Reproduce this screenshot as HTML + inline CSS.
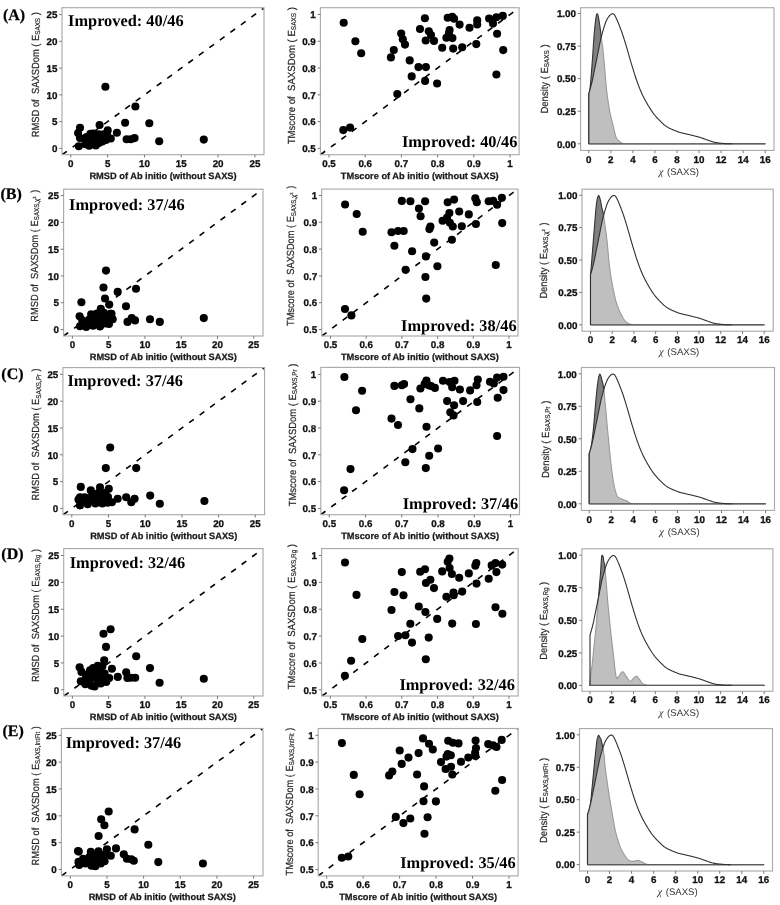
<!DOCTYPE html>
<html><head><meta charset="utf-8"><style>
html,body{margin:0;padding:0;background:#fff;width:780px;height:905px;overflow:hidden}
svg{display:block;filter:blur(0.3px)}
text{white-space:pre;text-rendering:geometricPrecision}
</style></head><body>
<svg width="780" height="905" viewBox="0 0 780 905">
<rect width="780" height="905" fill="#fff"/>
<clipPath id="cA1"><rect x="62" y="7.7" width="202" height="147.0"/></clipPath>
<g clip-path="url(#cA1)">
<line x1="62.13" y1="154.70" x2="271.76" y2="2.35" stroke="#000" stroke-width="1.6" stroke-dasharray="5.8 7.2" stroke-dashoffset="0"/>
<circle cx="105.4" cy="86.8" r="4.05"/>
<circle cx="135.4" cy="106.5" r="4.05"/>
<circle cx="125.1" cy="122.7" r="4.05"/>
<circle cx="149.3" cy="123.3" r="4.05"/>
<circle cx="116.9" cy="132.7" r="4.05"/>
<circle cx="126.6" cy="139.3" r="4.05"/>
<circle cx="130.8" cy="139.3" r="4.05"/>
<circle cx="134.6" cy="138.1" r="4.05"/>
<circle cx="159.2" cy="141.2" r="4.05"/>
<circle cx="203.8" cy="139.6" r="4.05"/>
<circle cx="80.0" cy="127.7" r="4.05"/>
<circle cx="78.1" cy="133.1" r="4.05"/>
<circle cx="80.0" cy="138.0" r="4.05"/>
<circle cx="78.8" cy="146.2" r="4.05"/>
<circle cx="89.2" cy="145.8" r="4.05"/>
<circle cx="95.8" cy="145.4" r="4.05"/>
<circle cx="102.3" cy="141.5" r="4.05"/>
<circle cx="110.8" cy="138.5" r="4.05"/>
<circle cx="107.7" cy="130.4" r="4.05"/>
<circle cx="99.6" cy="125.0" r="4.05"/>
<circle cx="90.4" cy="133.8" r="4.05"/>
<circle cx="85.4" cy="140.4" r="4.05"/>
<circle cx="93.0" cy="138.0" r="4.05"/>
<circle cx="99.2" cy="134.2" r="4.05"/>
<circle cx="103.8" cy="134.2" r="4.05"/>
<circle cx="96.9" cy="141.2" r="4.05"/>
<circle cx="85.4" cy="144.2" r="4.05"/>
<circle cx="91.0" cy="137.0" r="4.05"/>
<circle cx="95.0" cy="134.0" r="4.05"/>
<circle cx="100.0" cy="138.0" r="4.05"/>
<circle cx="104.0" cy="138.0" r="4.05"/>
<circle cx="107.0" cy="135.0" r="4.05"/>
<circle cx="88.0" cy="141.0" r="4.05"/>
<circle cx="92.0" cy="144.0" r="4.05"/>
<circle cx="99.0" cy="143.0" r="4.05"/>
<circle cx="106.0" cy="140.0" r="4.05"/>
<circle cx="93.0" cy="133.5" r="4.05"/>
<circle cx="86.5" cy="137.0" r="4.05"/>
</g>
<rect x="62.00" y="7.70" width="202.00" height="147.00" fill="none" stroke="#ababab" stroke-width="1.15"/>
<line x1="70.80" y1="154.70" x2="70.80" y2="157.50" stroke="#7a7a7a" stroke-width="1"/>
<text x="70.80" y="166.90" font-family="Liberation Sans" font-weight="bold" font-size="9.8" text-anchor="middle" fill="#111"  stroke="#111" stroke-width="0.3">0</text>
<line x1="107.62" y1="154.70" x2="107.62" y2="157.50" stroke="#7a7a7a" stroke-width="1"/>
<text x="107.62" y="166.90" font-family="Liberation Sans" font-weight="bold" font-size="9.8" text-anchor="middle" fill="#111"  stroke="#111" stroke-width="0.3">5</text>
<line x1="144.44" y1="154.70" x2="144.44" y2="157.50" stroke="#7a7a7a" stroke-width="1"/>
<text x="144.44" y="166.90" font-family="Liberation Sans" font-weight="bold" font-size="9.8" text-anchor="middle" fill="#111"  stroke="#111" stroke-width="0.3">10</text>
<line x1="181.26" y1="154.70" x2="181.26" y2="157.50" stroke="#7a7a7a" stroke-width="1"/>
<text x="181.26" y="166.90" font-family="Liberation Sans" font-weight="bold" font-size="9.8" text-anchor="middle" fill="#111"  stroke="#111" stroke-width="0.3">15</text>
<line x1="218.08" y1="154.70" x2="218.08" y2="157.50" stroke="#7a7a7a" stroke-width="1"/>
<text x="218.08" y="166.90" font-family="Liberation Sans" font-weight="bold" font-size="9.8" text-anchor="middle" fill="#111"  stroke="#111" stroke-width="0.3">20</text>
<line x1="254.90" y1="154.70" x2="254.90" y2="157.50" stroke="#7a7a7a" stroke-width="1"/>
<text x="254.90" y="166.90" font-family="Liberation Sans" font-weight="bold" font-size="9.8" text-anchor="middle" fill="#111"  stroke="#111" stroke-width="0.3">25</text>
<line x1="59.20" y1="148.40" x2="62.00" y2="148.40" stroke="#7a7a7a" stroke-width="1"/>
<text x="57.40" y="152.15" font-family="Liberation Sans" font-weight="bold" font-size="9.8" text-anchor="end" fill="#111"  stroke="#111" stroke-width="0.3">0</text>
<line x1="59.20" y1="121.64" x2="62.00" y2="121.64" stroke="#7a7a7a" stroke-width="1"/>
<text x="57.40" y="125.39" font-family="Liberation Sans" font-weight="bold" font-size="9.8" text-anchor="end" fill="#111"  stroke="#111" stroke-width="0.3">5</text>
<line x1="59.20" y1="94.88" x2="62.00" y2="94.88" stroke="#7a7a7a" stroke-width="1"/>
<text x="57.40" y="98.63" font-family="Liberation Sans" font-weight="bold" font-size="9.8" text-anchor="end" fill="#111"  stroke="#111" stroke-width="0.3">10</text>
<line x1="59.20" y1="68.12" x2="62.00" y2="68.12" stroke="#7a7a7a" stroke-width="1"/>
<text x="57.40" y="71.87" font-family="Liberation Sans" font-weight="bold" font-size="9.8" text-anchor="end" fill="#111"  stroke="#111" stroke-width="0.3">15</text>
<line x1="59.20" y1="41.36" x2="62.00" y2="41.36" stroke="#7a7a7a" stroke-width="1"/>
<text x="57.40" y="45.11" font-family="Liberation Sans" font-weight="bold" font-size="9.8" text-anchor="end" fill="#111"  stroke="#111" stroke-width="0.3">20</text>
<line x1="59.20" y1="14.60" x2="62.00" y2="14.60" stroke="#7a7a7a" stroke-width="1"/>
<text x="57.40" y="18.35" font-family="Liberation Sans" font-weight="bold" font-size="9.8" text-anchor="end" fill="#111"  stroke="#111" stroke-width="0.3">25</text>
<text x="163.00" y="178.90" font-family="Liberation Sans" font-weight="bold" font-size="9.25" text-anchor="middle" fill="#1a1a1a"  stroke="#1a1a1a" stroke-width="0.25">RMSD of Ab initio (without SAXS)</text>
<g transform="translate(39.10,137.30) rotate(-90) scale(0.9101,1)" font-family="Liberation Sans" font-weight="normal" fill="#262626" stroke="#262626" stroke-width="0.2">
<text x="0" y="0" font-size="10.3">RMSD of  SAXSDom ( E</text>
<text x="112.75" y="1.2" font-size="6.9">SAXS</text>
<text x="131.16" y="0" font-size="10.3"> )</text>
</g>
<text x="68.10" y="26.30" font-family="Liberation Serif" font-weight="bold" font-size="16.35" text-anchor="start" fill="#000" >Improved: 40/46</text>
<clipPath id="cA2"><rect x="320.4" y="7.7" width="198.70000000000005" height="147.0"/></clipPath>
<g clip-path="url(#cA2)">
<line x1="320.48" y1="154.70" x2="881.19" y2="-260.10" stroke="#000" stroke-width="1.6" stroke-dasharray="5.8 7.2" stroke-dashoffset="0"/>
<circle cx="343.7" cy="22.8" r="4.05"/>
<circle cx="355.4" cy="41.2" r="4.05"/>
<circle cx="361.2" cy="53.3" r="4.05"/>
<circle cx="343.3" cy="130.1" r="4.05"/>
<circle cx="350.1" cy="127.6" r="4.05"/>
<circle cx="390.9" cy="57.4" r="4.05"/>
<circle cx="393.8" cy="50.0" r="4.05"/>
<circle cx="401.2" cy="33.5" r="4.05"/>
<circle cx="402.8" cy="39.2" r="4.05"/>
<circle cx="405.0" cy="44.6" r="4.05"/>
<circle cx="397.3" cy="94.0" r="4.05"/>
<circle cx="409.7" cy="60.4" r="4.05"/>
<circle cx="411.7" cy="76.4" r="4.05"/>
<circle cx="418.5" cy="67.1" r="4.05"/>
<circle cx="425.9" cy="67.1" r="4.05"/>
<circle cx="425.1" cy="80.9" r="4.05"/>
<circle cx="424.9" cy="18.3" r="4.05"/>
<circle cx="420.0" cy="29.0" r="4.05"/>
<circle cx="425.7" cy="40.5" r="4.05"/>
<circle cx="428.8" cy="31.3" r="4.05"/>
<circle cx="431.0" cy="35.1" r="4.05"/>
<circle cx="434.0" cy="40.9" r="4.05"/>
<circle cx="437.1" cy="83.5" r="4.05"/>
<circle cx="442.2" cy="47.7" r="4.05"/>
<circle cx="447.7" cy="17.8" r="4.05"/>
<circle cx="452.2" cy="16.8" r="4.05"/>
<circle cx="454.1" cy="18.8" r="4.05"/>
<circle cx="459.6" cy="24.6" r="4.05"/>
<circle cx="449.6" cy="30.0" r="4.05"/>
<circle cx="449.0" cy="33.0" r="4.05"/>
<circle cx="446.4" cy="37.7" r="4.05"/>
<circle cx="452.4" cy="38.1" r="4.05"/>
<circle cx="453.2" cy="48.6" r="4.05"/>
<circle cx="462.2" cy="47.3" r="4.05"/>
<circle cx="469.5" cy="27.8" r="4.05"/>
<circle cx="477.2" cy="20.4" r="4.05"/>
<circle cx="477.2" cy="24.5" r="4.05"/>
<circle cx="476.3" cy="44.1" r="4.05"/>
<circle cx="489.1" cy="18.5" r="4.05"/>
<circle cx="493.0" cy="23.6" r="4.05"/>
<circle cx="496.4" cy="17.2" r="4.05"/>
<circle cx="502.8" cy="15.9" r="4.05"/>
<circle cx="497.1" cy="33.8" r="4.05"/>
<circle cx="503.2" cy="50.1" r="4.05"/>
<circle cx="496.4" cy="74.5" r="4.05"/>
</g>
<rect x="320.40" y="7.70" width="198.70" height="147.00" fill="none" stroke="#ababab" stroke-width="1.15"/>
<line x1="329.00" y1="154.70" x2="329.00" y2="157.50" stroke="#7a7a7a" stroke-width="1"/>
<text x="329.00" y="166.90" font-family="Liberation Sans" font-weight="bold" font-size="9.8" text-anchor="middle" fill="#111"  stroke="#111" stroke-width="0.3">0.5</text>
<line x1="365.20" y1="154.70" x2="365.20" y2="157.50" stroke="#7a7a7a" stroke-width="1"/>
<text x="365.20" y="166.90" font-family="Liberation Sans" font-weight="bold" font-size="9.8" text-anchor="middle" fill="#111"  stroke="#111" stroke-width="0.3">0.6</text>
<line x1="401.40" y1="154.70" x2="401.40" y2="157.50" stroke="#7a7a7a" stroke-width="1"/>
<text x="401.40" y="166.90" font-family="Liberation Sans" font-weight="bold" font-size="9.8" text-anchor="middle" fill="#111"  stroke="#111" stroke-width="0.3">0.7</text>
<line x1="437.60" y1="154.70" x2="437.60" y2="157.50" stroke="#7a7a7a" stroke-width="1"/>
<text x="437.60" y="166.90" font-family="Liberation Sans" font-weight="bold" font-size="9.8" text-anchor="middle" fill="#111"  stroke="#111" stroke-width="0.3">0.8</text>
<line x1="473.80" y1="154.70" x2="473.80" y2="157.50" stroke="#7a7a7a" stroke-width="1"/>
<text x="473.80" y="166.90" font-family="Liberation Sans" font-weight="bold" font-size="9.8" text-anchor="middle" fill="#111"  stroke="#111" stroke-width="0.3">0.9</text>
<line x1="510.00" y1="154.70" x2="510.00" y2="157.50" stroke="#7a7a7a" stroke-width="1"/>
<text x="510.00" y="166.90" font-family="Liberation Sans" font-weight="bold" font-size="9.8" text-anchor="middle" fill="#111"  stroke="#111" stroke-width="0.3">1</text>
<line x1="317.60" y1="148.40" x2="320.40" y2="148.40" stroke="#7a7a7a" stroke-width="1"/>
<text x="315.80" y="152.15" font-family="Liberation Sans" font-weight="bold" font-size="9.8" text-anchor="end" fill="#111"  stroke="#111" stroke-width="0.3">0.5</text>
<line x1="317.60" y1="121.62" x2="320.40" y2="121.62" stroke="#7a7a7a" stroke-width="1"/>
<text x="315.80" y="125.37" font-family="Liberation Sans" font-weight="bold" font-size="9.8" text-anchor="end" fill="#111"  stroke="#111" stroke-width="0.3">0.6</text>
<line x1="317.60" y1="94.84" x2="320.40" y2="94.84" stroke="#7a7a7a" stroke-width="1"/>
<text x="315.80" y="98.59" font-family="Liberation Sans" font-weight="bold" font-size="9.8" text-anchor="end" fill="#111"  stroke="#111" stroke-width="0.3">0.7</text>
<line x1="317.60" y1="68.06" x2="320.40" y2="68.06" stroke="#7a7a7a" stroke-width="1"/>
<text x="315.80" y="71.81" font-family="Liberation Sans" font-weight="bold" font-size="9.8" text-anchor="end" fill="#111"  stroke="#111" stroke-width="0.3">0.8</text>
<line x1="317.60" y1="41.28" x2="320.40" y2="41.28" stroke="#7a7a7a" stroke-width="1"/>
<text x="315.80" y="45.03" font-family="Liberation Sans" font-weight="bold" font-size="9.8" text-anchor="end" fill="#111"  stroke="#111" stroke-width="0.3">0.9</text>
<line x1="317.60" y1="14.50" x2="320.40" y2="14.50" stroke="#7a7a7a" stroke-width="1"/>
<text x="315.80" y="18.25" font-family="Liberation Sans" font-weight="bold" font-size="9.8" text-anchor="end" fill="#111"  stroke="#111" stroke-width="0.3">1</text>
<text x="419.75" y="178.90" font-family="Liberation Sans" font-weight="bold" font-size="9.25" text-anchor="middle" fill="#1a1a1a"  stroke="#1a1a1a" stroke-width="0.25">TMscore of Ab initio (without SAXS)</text>
<g transform="translate(294.80,144.30) rotate(-90) scale(0.9322,1)" font-family="Liberation Sans" font-weight="normal" fill="#262626" stroke="#262626" stroke-width="0.2">
<text x="0" y="0" font-size="10.3">TMscore of  SAXSDom ( E</text>
<text x="122.48" y="1.2" font-size="6.9">SAXS</text>
<text x="140.89" y="0" font-size="10.3"> )</text>
</g>
<text x="401.90" y="146.70" font-family="Liberation Serif" font-weight="bold" font-size="16.35" text-anchor="start" fill="#000" >Improved: 40/46</text>
<clipPath id="cA3"><rect x="580.6" y="7.7" width="193.39999999999998" height="142.70000000000002"/></clipPath>
<g clip-path="url(#cA3)">
<path d="M588.80,143.80 L588.80,93.37 L589.13,94.14 L589.46,92.98 L589.79,90.32 L590.12,87.34 L590.45,84.03 L590.78,80.38 L591.12,76.37 L591.45,72.25 L591.78,68.04 L592.11,63.74 L592.44,59.31 L592.77,54.62 L593.10,49.50 L593.43,44.29 L593.76,39.37 L594.09,35.07 L594.42,31.28 L594.75,27.89 L595.08,24.78 L595.41,21.84 L595.75,19.11 L596.08,16.81 L596.41,15.08 L596.74,14.07 L597.07,13.74 L597.40,13.93 L597.73,14.48 L598.06,15.54 L598.39,16.92 L598.72,18.58 L599.05,20.59 L599.38,22.75 L599.71,25.02 L600.05,27.41 L600.38,29.92 L600.71,32.64 L601.04,35.49 L601.37,38.26 L601.70,40.59 L602.03,42.56 L602.36,44.50 L602.69,46.79 L603.02,49.74 L603.35,53.11 L603.68,56.72 L604.01,60.48 L604.35,64.32 L604.68,68.21 L605.01,72.15 L605.34,76.08 L605.67,79.92 L606.00,83.61 L606.33,87.11 L606.66,90.38 L606.99,93.35 L607.32,96.02 L607.65,98.45 L607.98,100.69 L608.31,102.80 L608.64,104.88 L608.98,106.93 L609.31,108.92 L609.64,110.81 L609.97,112.57 L610.30,114.17 L610.63,115.59 L610.96,116.94 L611.29,118.28 L611.62,119.60 L611.95,120.91 L612.28,122.23 L612.61,123.56 L612.94,124.91 L613.28,126.28 L613.61,127.69 L613.94,129.11 L614.27,130.52 L614.60,131.92 L614.93,133.28 L615.26,134.58 L615.59,135.72 L615.92,136.69 L616.25,137.50 L616.58,138.18 L616.91,138.75 L617.24,139.22 L617.58,139.63 L617.91,139.98 L618.24,140.31 L618.57,140.62 L618.90,140.93 L619.23,141.23 L619.56,141.51 L619.89,141.78 L620.22,142.04 L620.55,142.28 L620.88,142.50 L621.21,142.70 L621.54,142.88 L621.88,143.03 L622.21,143.15 L622.54,143.26 L622.87,143.36 L623.20,143.45 L623.53,143.54 L623.86,143.62 L624.19,143.69 L624.52,143.75 L624.85,143.79 L625.18,143.80 L625.51,143.80 L625.84,143.80 L626.17,143.80 L626.28,143.80 L765.20,143.80 Z" fill="#7f7f7f" stroke="#333" stroke-width="1.1" stroke-linejoin="round"/>
<path d="M588.80,143.80 L588.80,93.37 L589.13,92.29 L589.46,91.20 L589.79,90.09 L590.12,88.96 L590.45,87.80 L590.78,86.61 L591.12,85.38 L591.45,84.11 L591.78,82.78 L592.11,81.39 L592.44,79.93 L592.77,78.41 L593.10,76.81 L593.43,75.19 L593.76,73.56 L594.09,71.94 L594.42,70.31 L594.75,68.68 L595.08,67.05 L595.41,65.42 L595.75,63.79 L596.08,62.16 L596.41,60.53 L596.74,58.89 L597.07,57.26 L597.40,55.62 L597.73,53.98 L598.06,52.34 L598.39,50.69 L598.72,49.05 L599.05,47.41 L599.38,45.76 L599.71,44.13 L600.05,42.49 L600.38,40.86 L600.71,39.30 L601.04,37.87 L601.37,36.53 L601.70,35.26 L602.03,34.06 L602.36,32.89 L602.69,31.73 L603.02,30.57 L603.35,29.43 L603.68,28.31 L604.01,27.23 L604.35,26.18 L604.68,25.17 L605.01,24.20 L605.34,23.27 L605.67,22.40 L606.00,21.57 L606.33,20.81 L606.66,20.10 L606.99,19.45 L607.32,18.85 L607.65,18.29 L607.98,17.76 L608.31,17.27 L608.64,16.80 L608.98,16.35 L609.31,15.93 L609.64,15.54 L609.97,15.19 L610.30,14.88 L610.63,14.60 L610.96,14.37 L611.29,14.17 L611.62,14.01 L611.95,13.89 L612.28,13.82 L612.61,13.80 L612.94,13.83 L613.28,13.94 L613.61,14.11 L613.94,14.36 L614.27,14.70 L614.60,15.12 L614.93,15.65 L615.26,16.26 L615.59,16.89 L615.92,17.55 L616.25,18.24 L616.58,18.94 L616.91,19.67 L617.24,20.42 L617.58,21.19 L617.91,21.98 L618.24,22.79 L618.57,23.62 L618.90,24.47 L619.23,25.32 L619.56,26.16 L619.89,27.01 L620.22,27.86 L620.55,28.72 L620.88,29.59 L621.21,30.48 L621.54,31.38 L621.88,32.30 L622.21,33.24 L622.54,34.21 L622.87,35.20 L623.20,36.21 L623.53,37.24 L623.86,38.27 L624.19,39.31 L624.52,40.36 L624.85,41.42 L625.18,42.50 L625.51,43.58 L625.84,44.67 L626.17,45.78 L626.51,46.89 L626.84,48.01 L627.17,49.15 L627.50,50.30 L627.83,51.45 L628.16,52.61 L628.49,53.78 L628.82,54.94 L629.15,56.11 L629.48,57.27 L629.81,58.42 L630.14,59.57 L630.47,60.70 L630.81,61.82 L631.14,62.93 L631.47,64.04 L631.80,65.13 L632.13,66.22 L632.46,67.30 L632.79,68.37 L633.12,69.44 L633.45,70.50 L633.78,71.56 L634.11,72.61 L634.44,73.65 L634.77,74.70 L635.11,75.73 L635.44,76.74 L635.77,77.74 L636.10,78.73 L636.43,79.70 L636.76,80.66 L637.09,81.60 L637.42,82.53 L637.75,83.45 L638.08,84.35 L638.41,85.23 L638.74,86.11 L639.07,86.96 L639.40,87.80 L639.74,88.63 L640.07,89.44 L640.40,90.23 L640.73,91.01 L641.06,91.77 L641.39,92.52 L641.72,93.26 L642.05,93.98 L642.38,94.69 L642.71,95.38 L643.04,96.06 L643.37,96.72 L643.70,97.38 L644.04,98.02 L644.37,98.65 L644.70,99.27 L645.03,99.89 L645.36,100.51 L645.69,101.11 L646.02,101.71 L646.35,102.30 L646.68,102.89 L647.01,103.47 L647.34,104.04 L647.67,104.60 L648.00,105.16 L648.34,105.71 L648.67,106.25 L649.00,106.79 L649.33,107.32 L649.66,107.84 L649.99,108.36 L650.32,108.88 L650.65,109.40 L650.98,109.91 L651.31,110.42 L651.64,110.92 L651.97,111.42 L652.30,111.90 L652.63,112.38 L652.97,112.85 L653.30,113.31 L653.63,113.75 L653.96,114.18 L654.29,114.60 L654.62,115.00 L654.95,115.40 L655.28,115.78 L655.61,116.17 L655.94,116.54 L656.27,116.91 L656.60,117.28 L656.93,117.64 L657.27,118.00 L657.60,118.36 L657.93,118.71 L658.26,119.05 L658.59,119.40 L658.92,119.74 L659.25,120.07 L659.58,120.41 L659.91,120.74 L660.24,121.07 L660.57,121.39 L660.90,121.72 L661.23,122.04 L661.56,122.36 L661.90,122.68 L662.23,123.00 L662.56,123.32 L662.89,123.63 L663.22,123.93 L663.55,124.23 L663.88,124.53 L664.21,124.81 L664.54,125.08 L664.87,125.34 L665.20,125.59 L665.53,125.84 L665.86,126.07 L666.20,126.30 L666.53,126.53 L666.86,126.74 L667.19,126.95 L667.52,127.15 L667.85,127.35 L668.18,127.54 L668.51,127.72 L668.84,127.90 L669.17,128.07 L669.50,128.24 L669.83,128.40 L670.16,128.55 L670.50,128.71 L670.83,128.86 L671.16,129.01 L671.49,129.15 L671.82,129.30 L672.15,129.45 L672.48,129.59 L672.81,129.73 L673.14,129.87 L673.47,130.01 L673.80,130.15 L674.13,130.29 L674.46,130.42 L674.79,130.55 L675.13,130.68 L675.46,130.81 L675.79,130.94 L676.12,131.08 L676.45,131.21 L676.78,131.34 L677.11,131.48 L677.44,131.61 L677.77,131.74 L678.10,131.87 L678.43,131.99 L678.76,132.11 L679.09,132.22 L679.43,132.32 L679.76,132.42 L680.09,132.51 L680.42,132.59 L680.75,132.67 L681.08,132.75 L681.41,132.82 L681.74,132.90 L682.07,132.98 L682.40,133.05 L682.73,133.13 L683.06,133.21 L683.39,133.28 L683.73,133.36 L684.06,133.44 L684.39,133.51 L684.72,133.59 L685.05,133.66 L685.38,133.74 L685.71,133.82 L686.04,133.89 L686.37,133.97 L686.70,134.05 L687.03,134.12 L687.36,134.20 L687.69,134.28 L688.02,134.35 L688.36,134.43 L688.69,134.51 L689.02,134.58 L689.35,134.66 L689.68,134.74 L690.01,134.81 L690.34,134.89 L690.67,134.97 L691.00,135.04 L691.33,135.12 L691.66,135.20 L691.99,135.28 L692.32,135.37 L692.66,135.45 L692.99,135.53 L693.32,135.62 L693.65,135.70 L693.98,135.79 L694.31,135.87 L694.64,135.96 L694.97,136.04 L695.30,136.13 L695.63,136.21 L695.96,136.30 L696.29,136.38 L696.62,136.47 L696.96,136.55 L697.29,136.63 L697.62,136.72 L697.95,136.80 L698.28,136.89 L698.61,136.98 L698.94,137.07 L699.27,137.16 L699.60,137.26 L699.93,137.36 L700.26,137.46 L700.59,137.57 L700.92,137.68 L701.25,137.79 L701.59,137.90 L701.92,138.02 L702.25,138.14 L702.58,138.26 L702.91,138.38 L703.24,138.50 L703.57,138.62 L703.90,138.74 L704.23,138.86 L704.56,138.98 L704.89,139.10 L705.22,139.22 L705.55,139.34 L705.89,139.46 L706.22,139.58 L706.55,139.70 L706.88,139.81 L707.21,139.93 L707.54,140.05 L707.87,140.17 L708.20,140.28 L708.53,140.40 L708.86,140.52 L709.19,140.63 L709.52,140.75 L709.85,140.86 L710.19,140.98 L710.52,141.09 L710.85,141.21 L711.18,141.32 L711.51,141.44 L711.84,141.55 L712.17,141.65 L712.50,141.75 L712.83,141.85 L713.16,141.94 L713.49,142.03 L713.82,142.12 L714.15,142.20 L714.49,142.28 L714.82,142.35 L715.15,142.42 L715.48,142.49 L715.81,142.55 L716.14,142.61 L716.47,142.66 L716.80,142.72 L717.13,142.77 L717.46,142.82 L717.79,142.87 L718.12,142.91 L718.45,142.96 L718.78,143.00 L719.12,143.04 L719.45,143.08 L719.78,143.11 L720.11,143.15 L720.44,143.18 L720.77,143.22 L721.10,143.25 L721.43,143.28 L721.76,143.31 L722.09,143.34 L722.42,143.37 L722.75,143.40 L723.08,143.43 L723.42,143.45 L723.75,143.48 L724.08,143.51 L724.41,143.53 L724.74,143.56 L725.07,143.58 L725.40,143.60 L725.73,143.63 L726.06,143.65 L726.39,143.66 L726.72,143.68 L727.05,143.70 L727.38,143.71 L727.72,143.72 L728.05,143.74 L728.38,143.75 L728.71,143.76 L729.04,143.77 L729.37,143.77 L729.70,143.78 L730.03,143.79 L730.36,143.79 L730.69,143.80 L731.02,143.80 L731.35,143.80 L731.68,143.80 L732.01,143.80 L732.12,143.80 L765.20,143.80 Z" fill="#fff" fill-opacity="0.5" stroke="none"/>
<line x1="588.80" y1="143.80" x2="765.20" y2="143.80" stroke="#5e5e5e" stroke-width="1.3"/>
<path d="M588.80,143.80 L588.80,93.37 L589.13,92.29 L589.46,91.20 L589.79,90.09 L590.12,88.96 L590.45,87.80 L590.78,86.61 L591.12,85.38 L591.45,84.11 L591.78,82.78 L592.11,81.39 L592.44,79.93 L592.77,78.41 L593.10,76.81 L593.43,75.19 L593.76,73.56 L594.09,71.94 L594.42,70.31 L594.75,68.68 L595.08,67.05 L595.41,65.42 L595.75,63.79 L596.08,62.16 L596.41,60.53 L596.74,58.89 L597.07,57.26 L597.40,55.62 L597.73,53.98 L598.06,52.34 L598.39,50.69 L598.72,49.05 L599.05,47.41 L599.38,45.76 L599.71,44.13 L600.05,42.49 L600.38,40.86 L600.71,39.30 L601.04,37.87 L601.37,36.53 L601.70,35.26 L602.03,34.06 L602.36,32.89 L602.69,31.73 L603.02,30.57 L603.35,29.43 L603.68,28.31 L604.01,27.23 L604.35,26.18 L604.68,25.17 L605.01,24.20 L605.34,23.27 L605.67,22.40 L606.00,21.57 L606.33,20.81 L606.66,20.10 L606.99,19.45 L607.32,18.85 L607.65,18.29 L607.98,17.76 L608.31,17.27 L608.64,16.80 L608.98,16.35 L609.31,15.93 L609.64,15.54 L609.97,15.19 L610.30,14.88 L610.63,14.60 L610.96,14.37 L611.29,14.17 L611.62,14.01 L611.95,13.89 L612.28,13.82 L612.61,13.80 L612.94,13.83 L613.28,13.94 L613.61,14.11 L613.94,14.36 L614.27,14.70 L614.60,15.12 L614.93,15.65 L615.26,16.26 L615.59,16.89 L615.92,17.55 L616.25,18.24 L616.58,18.94 L616.91,19.67 L617.24,20.42 L617.58,21.19 L617.91,21.98 L618.24,22.79 L618.57,23.62 L618.90,24.47 L619.23,25.32 L619.56,26.16 L619.89,27.01 L620.22,27.86 L620.55,28.72 L620.88,29.59 L621.21,30.48 L621.54,31.38 L621.88,32.30 L622.21,33.24 L622.54,34.21 L622.87,35.20 L623.20,36.21 L623.53,37.24 L623.86,38.27 L624.19,39.31 L624.52,40.36 L624.85,41.42 L625.18,42.50 L625.51,43.58 L625.84,44.67 L626.17,45.78 L626.51,46.89 L626.84,48.01 L627.17,49.15 L627.50,50.30 L627.83,51.45 L628.16,52.61 L628.49,53.78 L628.82,54.94 L629.15,56.11 L629.48,57.27 L629.81,58.42 L630.14,59.57 L630.47,60.70 L630.81,61.82 L631.14,62.93 L631.47,64.04 L631.80,65.13 L632.13,66.22 L632.46,67.30 L632.79,68.37 L633.12,69.44 L633.45,70.50 L633.78,71.56 L634.11,72.61 L634.44,73.65 L634.77,74.70 L635.11,75.73 L635.44,76.74 L635.77,77.74 L636.10,78.73 L636.43,79.70 L636.76,80.66 L637.09,81.60 L637.42,82.53 L637.75,83.45 L638.08,84.35 L638.41,85.23 L638.74,86.11 L639.07,86.96 L639.40,87.80 L639.74,88.63 L640.07,89.44 L640.40,90.23 L640.73,91.01 L641.06,91.77 L641.39,92.52 L641.72,93.26 L642.05,93.98 L642.38,94.69 L642.71,95.38 L643.04,96.06 L643.37,96.72 L643.70,97.38 L644.04,98.02 L644.37,98.65 L644.70,99.27 L645.03,99.89 L645.36,100.51 L645.69,101.11 L646.02,101.71 L646.35,102.30 L646.68,102.89 L647.01,103.47 L647.34,104.04 L647.67,104.60 L648.00,105.16 L648.34,105.71 L648.67,106.25 L649.00,106.79 L649.33,107.32 L649.66,107.84 L649.99,108.36 L650.32,108.88 L650.65,109.40 L650.98,109.91 L651.31,110.42 L651.64,110.92 L651.97,111.42 L652.30,111.90 L652.63,112.38 L652.97,112.85 L653.30,113.31 L653.63,113.75 L653.96,114.18 L654.29,114.60 L654.62,115.00 L654.95,115.40 L655.28,115.78 L655.61,116.17 L655.94,116.54 L656.27,116.91 L656.60,117.28 L656.93,117.64 L657.27,118.00 L657.60,118.36 L657.93,118.71 L658.26,119.05 L658.59,119.40 L658.92,119.74 L659.25,120.07 L659.58,120.41 L659.91,120.74 L660.24,121.07 L660.57,121.39 L660.90,121.72 L661.23,122.04 L661.56,122.36 L661.90,122.68 L662.23,123.00 L662.56,123.32 L662.89,123.63 L663.22,123.93 L663.55,124.23 L663.88,124.53 L664.21,124.81 L664.54,125.08 L664.87,125.34 L665.20,125.59 L665.53,125.84 L665.86,126.07 L666.20,126.30 L666.53,126.53 L666.86,126.74 L667.19,126.95 L667.52,127.15 L667.85,127.35 L668.18,127.54 L668.51,127.72 L668.84,127.90 L669.17,128.07 L669.50,128.24 L669.83,128.40 L670.16,128.55 L670.50,128.71 L670.83,128.86 L671.16,129.01 L671.49,129.15 L671.82,129.30 L672.15,129.45 L672.48,129.59 L672.81,129.73 L673.14,129.87 L673.47,130.01 L673.80,130.15 L674.13,130.29 L674.46,130.42 L674.79,130.55 L675.13,130.68 L675.46,130.81 L675.79,130.94 L676.12,131.08 L676.45,131.21 L676.78,131.34 L677.11,131.48 L677.44,131.61 L677.77,131.74 L678.10,131.87 L678.43,131.99 L678.76,132.11 L679.09,132.22 L679.43,132.32 L679.76,132.42 L680.09,132.51 L680.42,132.59 L680.75,132.67 L681.08,132.75 L681.41,132.82 L681.74,132.90 L682.07,132.98 L682.40,133.05 L682.73,133.13 L683.06,133.21 L683.39,133.28 L683.73,133.36 L684.06,133.44 L684.39,133.51 L684.72,133.59 L685.05,133.66 L685.38,133.74 L685.71,133.82 L686.04,133.89 L686.37,133.97 L686.70,134.05 L687.03,134.12 L687.36,134.20 L687.69,134.28 L688.02,134.35 L688.36,134.43 L688.69,134.51 L689.02,134.58 L689.35,134.66 L689.68,134.74 L690.01,134.81 L690.34,134.89 L690.67,134.97 L691.00,135.04 L691.33,135.12 L691.66,135.20 L691.99,135.28 L692.32,135.37 L692.66,135.45 L692.99,135.53 L693.32,135.62 L693.65,135.70 L693.98,135.79 L694.31,135.87 L694.64,135.96 L694.97,136.04 L695.30,136.13 L695.63,136.21 L695.96,136.30 L696.29,136.38 L696.62,136.47 L696.96,136.55 L697.29,136.63 L697.62,136.72 L697.95,136.80 L698.28,136.89 L698.61,136.98 L698.94,137.07 L699.27,137.16 L699.60,137.26 L699.93,137.36 L700.26,137.46 L700.59,137.57 L700.92,137.68 L701.25,137.79 L701.59,137.90 L701.92,138.02 L702.25,138.14 L702.58,138.26 L702.91,138.38 L703.24,138.50 L703.57,138.62 L703.90,138.74 L704.23,138.86 L704.56,138.98 L704.89,139.10 L705.22,139.22 L705.55,139.34 L705.89,139.46 L706.22,139.58 L706.55,139.70 L706.88,139.81 L707.21,139.93 L707.54,140.05 L707.87,140.17 L708.20,140.28 L708.53,140.40 L708.86,140.52 L709.19,140.63 L709.52,140.75 L709.85,140.86 L710.19,140.98 L710.52,141.09 L710.85,141.21 L711.18,141.32 L711.51,141.44 L711.84,141.55 L712.17,141.65 L712.50,141.75 L712.83,141.85 L713.16,141.94 L713.49,142.03 L713.82,142.12 L714.15,142.20 L714.49,142.28 L714.82,142.35 L715.15,142.42 L715.48,142.49 L715.81,142.55 L716.14,142.61 L716.47,142.66 L716.80,142.72 L717.13,142.77 L717.46,142.82 L717.79,142.87 L718.12,142.91 L718.45,142.96 L718.78,143.00 L719.12,143.04 L719.45,143.08 L719.78,143.11 L720.11,143.15 L720.44,143.18 L720.77,143.22 L721.10,143.25 L721.43,143.28 L721.76,143.31 L722.09,143.34 L722.42,143.37 L722.75,143.40 L723.08,143.43 L723.42,143.45 L723.75,143.48 L724.08,143.51 L724.41,143.53 L724.74,143.56 L725.07,143.58 L725.40,143.60 L725.73,143.63 L726.06,143.65 L726.39,143.66 L726.72,143.68 L727.05,143.70 L727.38,143.71 L727.72,143.72 L728.05,143.74 L728.38,143.75 L728.71,143.76 L729.04,143.77 L729.37,143.77 L729.70,143.78 L730.03,143.79 L730.36,143.79 L730.69,143.80 L731.02,143.80 L731.35,143.80 L731.68,143.80 L732.01,143.80 L732.12,143.80" fill="none" stroke="#303030" stroke-width="1.1" stroke-linejoin="round"/>
</g>
<rect x="580.60" y="7.70" width="193.40" height="142.70" fill="none" stroke="#ababab" stroke-width="1.15"/>
<line x1="588.80" y1="150.40" x2="588.80" y2="153.20" stroke="#7a7a7a" stroke-width="1"/>
<text x="588.80" y="162.50" font-family="Liberation Sans" font-weight="bold" font-size="9.8" text-anchor="middle" fill="#111"  stroke="#111" stroke-width="0.3">0</text>
<line x1="610.85" y1="150.40" x2="610.85" y2="153.20" stroke="#7a7a7a" stroke-width="1"/>
<text x="610.85" y="162.50" font-family="Liberation Sans" font-weight="bold" font-size="9.8" text-anchor="middle" fill="#111"  stroke="#111" stroke-width="0.3">2</text>
<line x1="632.90" y1="150.40" x2="632.90" y2="153.20" stroke="#7a7a7a" stroke-width="1"/>
<text x="632.90" y="162.50" font-family="Liberation Sans" font-weight="bold" font-size="9.8" text-anchor="middle" fill="#111"  stroke="#111" stroke-width="0.3">4</text>
<line x1="654.95" y1="150.40" x2="654.95" y2="153.20" stroke="#7a7a7a" stroke-width="1"/>
<text x="654.95" y="162.50" font-family="Liberation Sans" font-weight="bold" font-size="9.8" text-anchor="middle" fill="#111"  stroke="#111" stroke-width="0.3">6</text>
<line x1="677.00" y1="150.40" x2="677.00" y2="153.20" stroke="#7a7a7a" stroke-width="1"/>
<text x="677.00" y="162.50" font-family="Liberation Sans" font-weight="bold" font-size="9.8" text-anchor="middle" fill="#111"  stroke="#111" stroke-width="0.3">8</text>
<line x1="699.05" y1="150.40" x2="699.05" y2="153.20" stroke="#7a7a7a" stroke-width="1"/>
<text x="699.05" y="162.50" font-family="Liberation Sans" font-weight="bold" font-size="9.8" text-anchor="middle" fill="#111"  stroke="#111" stroke-width="0.3">10</text>
<line x1="721.10" y1="150.40" x2="721.10" y2="153.20" stroke="#7a7a7a" stroke-width="1"/>
<text x="721.10" y="162.50" font-family="Liberation Sans" font-weight="bold" font-size="9.8" text-anchor="middle" fill="#111"  stroke="#111" stroke-width="0.3">12</text>
<line x1="743.15" y1="150.40" x2="743.15" y2="153.20" stroke="#7a7a7a" stroke-width="1"/>
<text x="743.15" y="162.50" font-family="Liberation Sans" font-weight="bold" font-size="9.8" text-anchor="middle" fill="#111"  stroke="#111" stroke-width="0.3">14</text>
<line x1="765.20" y1="150.40" x2="765.20" y2="153.20" stroke="#7a7a7a" stroke-width="1"/>
<text x="765.20" y="162.50" font-family="Liberation Sans" font-weight="bold" font-size="9.8" text-anchor="middle" fill="#111"  stroke="#111" stroke-width="0.3">16</text>
<line x1="577.80" y1="143.80" x2="580.60" y2="143.80" stroke="#7a7a7a" stroke-width="1"/>
<text x="576.00" y="147.55" font-family="Liberation Sans" font-weight="bold" font-size="9.8" text-anchor="end" fill="#111"  stroke="#111" stroke-width="0.3">0.00</text>
<line x1="577.80" y1="111.23" x2="580.60" y2="111.23" stroke="#7a7a7a" stroke-width="1"/>
<text x="576.00" y="114.98" font-family="Liberation Sans" font-weight="bold" font-size="9.8" text-anchor="end" fill="#111"  stroke="#111" stroke-width="0.3">0.25</text>
<line x1="577.80" y1="78.65" x2="580.60" y2="78.65" stroke="#7a7a7a" stroke-width="1"/>
<text x="576.00" y="82.40" font-family="Liberation Sans" font-weight="bold" font-size="9.8" text-anchor="end" fill="#111"  stroke="#111" stroke-width="0.3">0.50</text>
<line x1="577.80" y1="46.08" x2="580.60" y2="46.08" stroke="#7a7a7a" stroke-width="1"/>
<text x="576.00" y="49.83" font-family="Liberation Sans" font-weight="bold" font-size="9.8" text-anchor="end" fill="#111"  stroke="#111" stroke-width="0.3">0.75</text>
<line x1="577.80" y1="13.50" x2="580.60" y2="13.50" stroke="#7a7a7a" stroke-width="1"/>
<text x="576.00" y="17.25" font-family="Liberation Sans" font-weight="bold" font-size="9.8" text-anchor="end" fill="#111"  stroke="#111" stroke-width="0.3">1.00</text>
<text x="658.70" y="174.60" font-family="Liberation Serif" font-style="italic" font-size="10.5" fill="#333">χ</text>
<text x="667.00" y="174.60" font-family="Liberation Sans" font-weight="normal" font-size="9.6" text-anchor="start" fill="#333" >(SAXS)</text>
<g transform="translate(547.70,113.50) rotate(-90) scale(0.9205,1)" font-family="Liberation Sans" font-weight="normal" fill="#262626" stroke="#262626" stroke-width="0.2">
<text x="0" y="0" font-size="10.3">Density ( E</text>
<text x="50.37" y="1.2" font-size="6.9">SAXS</text>
<text x="68.78" y="0" font-size="10.3"> )</text>
</g>
<clipPath id="cB1"><rect x="63.6" y="189.2" width="199.4" height="146.8"/></clipPath>
<g clip-path="url(#cB1)">
<line x1="63.60" y1="336.00" x2="270.26" y2="183.45" stroke="#000" stroke-width="1.6" stroke-dasharray="5.8 7.2" stroke-dashoffset="0"/>
<circle cx="106.0" cy="270.6" r="4.05"/>
<circle cx="103.5" cy="287.5" r="4.05"/>
<circle cx="117.7" cy="291.9" r="4.05"/>
<circle cx="136.0" cy="288.8" r="4.05"/>
<circle cx="105.0" cy="298.5" r="4.05"/>
<circle cx="109.2" cy="304.6" r="4.05"/>
<circle cx="81.4" cy="302.3" r="4.05"/>
<circle cx="126.0" cy="306.3" r="4.05"/>
<circle cx="79.6" cy="316.2" r="4.05"/>
<circle cx="111.5" cy="313.8" r="4.05"/>
<circle cx="112.7" cy="319.2" r="4.05"/>
<circle cx="127.5" cy="321.9" r="4.05"/>
<circle cx="131.7" cy="318.1" r="4.05"/>
<circle cx="135.0" cy="320.4" r="4.05"/>
<circle cx="150.0" cy="319.2" r="4.05"/>
<circle cx="159.8" cy="321.9" r="4.05"/>
<circle cx="203.8" cy="318.1" r="4.05"/>
<circle cx="91.2" cy="314.2" r="4.05"/>
<circle cx="100.8" cy="308.8" r="4.05"/>
<circle cx="110.4" cy="313.8" r="4.05"/>
<circle cx="80.0" cy="326.2" r="4.05"/>
<circle cx="86.2" cy="326.9" r="4.05"/>
<circle cx="93.1" cy="325.8" r="4.05"/>
<circle cx="100.0" cy="326.5" r="4.05"/>
<circle cx="105.4" cy="323.5" r="4.05"/>
<circle cx="82.3" cy="320.4" r="4.05"/>
<circle cx="89.2" cy="319.6" r="4.05"/>
<circle cx="96.2" cy="318.1" r="4.05"/>
<circle cx="103.1" cy="317.3" r="4.05"/>
<circle cx="106.9" cy="320.4" r="4.05"/>
<circle cx="96.9" cy="313.5" r="4.05"/>
<circle cx="103.8" cy="312.7" r="4.05"/>
<circle cx="86.0" cy="322.0" r="4.05"/>
<circle cx="92.0" cy="321.0" r="4.05"/>
<circle cx="99.0" cy="322.0" r="4.05"/>
<circle cx="109.0" cy="324.0" r="4.05"/>
</g>
<rect x="63.60" y="189.20" width="199.40" height="146.80" fill="none" stroke="#ababab" stroke-width="1.15"/>
<line x1="72.40" y1="336.00" x2="72.40" y2="338.80" stroke="#7a7a7a" stroke-width="1"/>
<text x="72.40" y="348.20" font-family="Liberation Sans" font-weight="bold" font-size="9.8" text-anchor="middle" fill="#111"  stroke="#111" stroke-width="0.3">0</text>
<line x1="108.68" y1="336.00" x2="108.68" y2="338.80" stroke="#7a7a7a" stroke-width="1"/>
<text x="108.68" y="348.20" font-family="Liberation Sans" font-weight="bold" font-size="9.8" text-anchor="middle" fill="#111"  stroke="#111" stroke-width="0.3">5</text>
<line x1="144.96" y1="336.00" x2="144.96" y2="338.80" stroke="#7a7a7a" stroke-width="1"/>
<text x="144.96" y="348.20" font-family="Liberation Sans" font-weight="bold" font-size="9.8" text-anchor="middle" fill="#111"  stroke="#111" stroke-width="0.3">10</text>
<line x1="181.24" y1="336.00" x2="181.24" y2="338.80" stroke="#7a7a7a" stroke-width="1"/>
<text x="181.24" y="348.20" font-family="Liberation Sans" font-weight="bold" font-size="9.8" text-anchor="middle" fill="#111"  stroke="#111" stroke-width="0.3">15</text>
<line x1="217.52" y1="336.00" x2="217.52" y2="338.80" stroke="#7a7a7a" stroke-width="1"/>
<text x="217.52" y="348.20" font-family="Liberation Sans" font-weight="bold" font-size="9.8" text-anchor="middle" fill="#111"  stroke="#111" stroke-width="0.3">20</text>
<line x1="253.80" y1="336.00" x2="253.80" y2="338.80" stroke="#7a7a7a" stroke-width="1"/>
<text x="253.80" y="348.20" font-family="Liberation Sans" font-weight="bold" font-size="9.8" text-anchor="middle" fill="#111"  stroke="#111" stroke-width="0.3">25</text>
<line x1="60.80" y1="329.50" x2="63.60" y2="329.50" stroke="#7a7a7a" stroke-width="1"/>
<text x="59.00" y="333.25" font-family="Liberation Sans" font-weight="bold" font-size="9.8" text-anchor="end" fill="#111"  stroke="#111" stroke-width="0.3">0</text>
<line x1="60.80" y1="302.72" x2="63.60" y2="302.72" stroke="#7a7a7a" stroke-width="1"/>
<text x="59.00" y="306.47" font-family="Liberation Sans" font-weight="bold" font-size="9.8" text-anchor="end" fill="#111"  stroke="#111" stroke-width="0.3">5</text>
<line x1="60.80" y1="275.94" x2="63.60" y2="275.94" stroke="#7a7a7a" stroke-width="1"/>
<text x="59.00" y="279.69" font-family="Liberation Sans" font-weight="bold" font-size="9.8" text-anchor="end" fill="#111"  stroke="#111" stroke-width="0.3">10</text>
<line x1="60.80" y1="249.16" x2="63.60" y2="249.16" stroke="#7a7a7a" stroke-width="1"/>
<text x="59.00" y="252.91" font-family="Liberation Sans" font-weight="bold" font-size="9.8" text-anchor="end" fill="#111"  stroke="#111" stroke-width="0.3">15</text>
<line x1="60.80" y1="222.38" x2="63.60" y2="222.38" stroke="#7a7a7a" stroke-width="1"/>
<text x="59.00" y="226.13" font-family="Liberation Sans" font-weight="bold" font-size="9.8" text-anchor="end" fill="#111"  stroke="#111" stroke-width="0.3">20</text>
<line x1="60.80" y1="195.60" x2="63.60" y2="195.60" stroke="#7a7a7a" stroke-width="1"/>
<text x="59.00" y="199.35" font-family="Liberation Sans" font-weight="bold" font-size="9.8" text-anchor="end" fill="#111"  stroke="#111" stroke-width="0.3">25</text>
<text x="163.30" y="360.20" font-family="Liberation Sans" font-weight="bold" font-size="9.25" text-anchor="middle" fill="#1a1a1a"  stroke="#1a1a1a" stroke-width="0.25">RMSD of Ab initio (without SAXS)</text>
<g transform="translate(38.20,321.70) rotate(-90) scale(0.8997,1)" font-family="Liberation Sans" font-weight="normal" fill="#262626" stroke="#262626" stroke-width="0.2">
<text x="0" y="0" font-size="10.3">RMSD of  SAXSDom ( E</text>
<text x="112.75" y="1.2" font-size="6.9">SAXS,χ<tspan font-size="4.5" dy="-3">2</tspan></text>
<text x="140.54" y="0" font-size="10.3"> )</text>
</g>
<text x="69.10" y="209.70" font-family="Liberation Serif" font-weight="bold" font-size="16.35" text-anchor="start" fill="#000" >Improved: 37/46</text>
<clipPath id="cB2"><rect x="321.7" y="189.1" width="196.3" height="146.9"/></clipPath>
<g clip-path="url(#cB2)">
<line x1="321.84" y1="336.00" x2="875.00" y2="-79.26" stroke="#000" stroke-width="1.6" stroke-dasharray="5.8 7.2" stroke-dashoffset="0"/>
<circle cx="345.1" cy="204.5" r="4.05"/>
<circle cx="356.7" cy="214.0" r="4.05"/>
<circle cx="362.7" cy="231.7" r="4.05"/>
<circle cx="401.8" cy="200.9" r="4.05"/>
<circle cx="410.4" cy="201.2" r="4.05"/>
<circle cx="425.1" cy="201.3" r="4.05"/>
<circle cx="418.9" cy="208.6" r="4.05"/>
<circle cx="420.6" cy="216.3" r="4.05"/>
<circle cx="391.5" cy="232.3" r="4.05"/>
<circle cx="398.0" cy="231.0" r="4.05"/>
<circle cx="403.7" cy="231.0" r="4.05"/>
<circle cx="394.4" cy="245.8" r="4.05"/>
<circle cx="412.1" cy="251.3" r="4.05"/>
<circle cx="425.9" cy="256.4" r="4.05"/>
<circle cx="405.6" cy="269.8" r="4.05"/>
<circle cx="425.4" cy="277.0" r="4.05"/>
<circle cx="426.2" cy="298.6" r="4.05"/>
<circle cx="447.7" cy="202.2" r="4.05"/>
<circle cx="454.1" cy="199.6" r="4.05"/>
<circle cx="475.3" cy="198.3" r="4.05"/>
<circle cx="476.8" cy="202.2" r="4.05"/>
<circle cx="488.7" cy="201.3" r="4.05"/>
<circle cx="493.2" cy="200.9" r="4.05"/>
<circle cx="497.1" cy="204.7" r="4.05"/>
<circle cx="501.9" cy="197.7" r="4.05"/>
<circle cx="449.4" cy="213.1" r="4.05"/>
<circle cx="459.2" cy="211.5" r="4.05"/>
<circle cx="468.8" cy="214.4" r="4.05"/>
<circle cx="442.6" cy="220.8" r="4.05"/>
<circle cx="447.1" cy="217.6" r="4.05"/>
<circle cx="449.9" cy="222.7" r="4.05"/>
<circle cx="452.8" cy="226.5" r="4.05"/>
<circle cx="461.8" cy="226.2" r="4.05"/>
<circle cx="475.9" cy="224.0" r="4.05"/>
<circle cx="430.4" cy="226.5" r="4.05"/>
<circle cx="429.4" cy="229.1" r="4.05"/>
<circle cx="502.2" cy="223.1" r="4.05"/>
<circle cx="451.9" cy="239.7" r="4.05"/>
<circle cx="434.2" cy="242.6" r="4.05"/>
<circle cx="437.4" cy="266.3" r="4.05"/>
<circle cx="495.8" cy="265.0" r="4.05"/>
<circle cx="345.0" cy="309.0" r="4.05"/>
<circle cx="351.4" cy="315.4" r="4.05"/>
</g>
<rect x="321.70" y="189.10" width="196.30" height="146.90" fill="none" stroke="#ababab" stroke-width="1.15"/>
<line x1="330.50" y1="336.00" x2="330.50" y2="338.80" stroke="#7a7a7a" stroke-width="1"/>
<text x="330.50" y="348.20" font-family="Liberation Sans" font-weight="bold" font-size="9.8" text-anchor="middle" fill="#111"  stroke="#111" stroke-width="0.3">0.5</text>
<line x1="366.20" y1="336.00" x2="366.20" y2="338.80" stroke="#7a7a7a" stroke-width="1"/>
<text x="366.20" y="348.20" font-family="Liberation Sans" font-weight="bold" font-size="9.8" text-anchor="middle" fill="#111"  stroke="#111" stroke-width="0.3">0.6</text>
<line x1="401.90" y1="336.00" x2="401.90" y2="338.80" stroke="#7a7a7a" stroke-width="1"/>
<text x="401.90" y="348.20" font-family="Liberation Sans" font-weight="bold" font-size="9.8" text-anchor="middle" fill="#111"  stroke="#111" stroke-width="0.3">0.7</text>
<line x1="437.60" y1="336.00" x2="437.60" y2="338.80" stroke="#7a7a7a" stroke-width="1"/>
<text x="437.60" y="348.20" font-family="Liberation Sans" font-weight="bold" font-size="9.8" text-anchor="middle" fill="#111"  stroke="#111" stroke-width="0.3">0.8</text>
<line x1="473.30" y1="336.00" x2="473.30" y2="338.80" stroke="#7a7a7a" stroke-width="1"/>
<text x="473.30" y="348.20" font-family="Liberation Sans" font-weight="bold" font-size="9.8" text-anchor="middle" fill="#111"  stroke="#111" stroke-width="0.3">0.9</text>
<line x1="509.00" y1="336.00" x2="509.00" y2="338.80" stroke="#7a7a7a" stroke-width="1"/>
<text x="509.00" y="348.20" font-family="Liberation Sans" font-weight="bold" font-size="9.8" text-anchor="middle" fill="#111"  stroke="#111" stroke-width="0.3">1</text>
<line x1="318.90" y1="329.50" x2="321.70" y2="329.50" stroke="#7a7a7a" stroke-width="1"/>
<text x="317.10" y="333.25" font-family="Liberation Sans" font-weight="bold" font-size="9.8" text-anchor="end" fill="#111"  stroke="#111" stroke-width="0.3">0.5</text>
<line x1="318.90" y1="302.70" x2="321.70" y2="302.70" stroke="#7a7a7a" stroke-width="1"/>
<text x="317.10" y="306.45" font-family="Liberation Sans" font-weight="bold" font-size="9.8" text-anchor="end" fill="#111"  stroke="#111" stroke-width="0.3">0.6</text>
<line x1="318.90" y1="275.90" x2="321.70" y2="275.90" stroke="#7a7a7a" stroke-width="1"/>
<text x="317.10" y="279.65" font-family="Liberation Sans" font-weight="bold" font-size="9.8" text-anchor="end" fill="#111"  stroke="#111" stroke-width="0.3">0.7</text>
<line x1="318.90" y1="249.10" x2="321.70" y2="249.10" stroke="#7a7a7a" stroke-width="1"/>
<text x="317.10" y="252.85" font-family="Liberation Sans" font-weight="bold" font-size="9.8" text-anchor="end" fill="#111"  stroke="#111" stroke-width="0.3">0.8</text>
<line x1="318.90" y1="222.30" x2="321.70" y2="222.30" stroke="#7a7a7a" stroke-width="1"/>
<text x="317.10" y="226.05" font-family="Liberation Sans" font-weight="bold" font-size="9.8" text-anchor="end" fill="#111"  stroke="#111" stroke-width="0.3">0.9</text>
<line x1="318.90" y1="195.50" x2="321.70" y2="195.50" stroke="#7a7a7a" stroke-width="1"/>
<text x="317.10" y="199.25" font-family="Liberation Sans" font-weight="bold" font-size="9.8" text-anchor="end" fill="#111"  stroke="#111" stroke-width="0.3">1</text>
<text x="419.85" y="360.20" font-family="Liberation Sans" font-weight="bold" font-size="9.25" text-anchor="middle" fill="#1a1a1a"  stroke="#1a1a1a" stroke-width="0.25">TMscore of Ab initio (without SAXS)</text>
<g transform="translate(294.40,326.00) rotate(-90) scale(0.8968,1)" font-family="Liberation Sans" font-weight="normal" fill="#262626" stroke="#262626" stroke-width="0.2">
<text x="0" y="0" font-size="10.3">TMscore of  SAXSDom ( E</text>
<text x="122.48" y="1.2" font-size="6.9">SAXS,χ<tspan font-size="4.5" dy="-3">2</tspan></text>
<text x="150.27" y="0" font-size="10.3"> )</text>
</g>
<text x="401.10" y="331.20" font-family="Liberation Serif" font-weight="bold" font-size="16.35" text-anchor="start" fill="#000" >Improved: 38/46</text>
<clipPath id="cB3"><rect x="582" y="189.2" width="191.20000000000005" height="142.0"/></clipPath>
<g clip-path="url(#cB3)">
<path d="M590.50,324.80 L590.50,274.64 L590.83,271.09 L591.15,267.46 L591.48,263.69 L591.80,259.74 L592.13,255.65 L592.45,251.54 L592.78,247.43 L593.11,243.35 L593.43,239.29 L593.76,235.22 L594.08,231.16 L594.41,227.09 L594.73,223.03 L595.06,218.96 L595.39,214.90 L595.71,211.08 L596.04,207.74 L596.36,204.84 L596.69,202.35 L597.01,200.26 L597.34,198.68 L597.67,197.51 L597.99,196.54 L598.32,195.72 L598.64,195.46 L598.97,195.85 L599.29,196.58 L599.62,197.46 L599.94,198.40 L600.27,199.54 L600.60,201.00 L600.92,202.69 L601.25,204.47 L601.57,206.24 L601.90,207.90 L602.22,209.29 L602.55,210.49 L602.88,211.71 L603.20,213.17 L603.53,215.06 L603.85,217.18 L604.18,219.40 L604.50,221.69 L604.83,223.99 L605.16,226.26 L605.48,228.50 L605.81,230.79 L606.13,233.18 L606.46,235.74 L606.78,238.66 L607.11,241.87 L607.44,245.23 L607.76,248.64 L608.09,252.04 L608.41,255.54 L608.74,259.04 L609.06,262.39 L609.39,265.53 L609.72,268.39 L610.04,270.91 L610.37,273.09 L610.69,275.15 L611.02,277.12 L611.34,279.00 L611.67,280.83 L612.00,282.61 L612.32,284.37 L612.65,286.11 L612.97,287.84 L613.30,289.54 L613.62,291.20 L613.95,292.81 L614.28,294.36 L614.60,295.84 L614.93,297.24 L615.25,298.57 L615.58,299.84 L615.90,301.03 L616.23,302.16 L616.56,303.22 L616.88,304.21 L617.21,305.15 L617.53,306.05 L617.86,306.93 L618.18,307.78 L618.51,308.61 L618.83,309.42 L619.16,310.20 L619.49,310.96 L619.81,311.69 L620.14,312.40 L620.46,313.08 L620.79,313.75 L621.11,314.38 L621.44,315.01 L621.77,315.63 L622.09,316.23 L622.42,316.82 L622.74,317.39 L623.07,317.94 L623.39,318.47 L623.72,318.97 L624.05,319.44 L624.37,319.87 L624.70,320.27 L625.02,320.63 L625.35,320.98 L625.67,321.32 L626.00,321.64 L626.33,321.94 L626.65,322.23 L626.98,322.50 L627.30,322.75 L627.63,322.98 L627.95,323.19 L628.28,323.38 L628.61,323.55 L628.93,323.70 L629.26,323.82 L629.58,323.92 L629.91,324.02 L630.23,324.11 L630.56,324.19 L630.89,324.27 L631.21,324.35 L631.54,324.42 L631.86,324.48 L632.19,324.54 L632.51,324.59 L632.84,324.63 L633.17,324.66 L633.49,324.69 L633.82,324.71 L634.14,324.73 L634.47,324.76 L634.79,324.78 L635.12,324.79 L635.44,324.80 L635.77,324.80 L636.10,324.80 L636.42,324.80 L636.75,324.80 L637.07,324.80 L637.18,324.80 L764.20,324.80 Z" fill="#7f7f7f" stroke="#333" stroke-width="1.1" stroke-linejoin="round"/>
<path d="M590.50,324.80 L590.50,274.64 L590.83,273.57 L591.15,272.48 L591.48,271.38 L591.80,270.25 L592.13,269.10 L592.45,267.92 L592.78,266.70 L593.11,265.43 L593.43,264.11 L593.76,262.72 L594.08,261.28 L594.41,259.76 L594.73,258.17 L595.06,256.56 L595.39,254.94 L595.71,253.33 L596.04,251.71 L596.36,250.09 L596.69,248.47 L597.01,246.84 L597.34,245.22 L597.67,243.60 L597.99,241.97 L598.32,240.35 L598.64,238.72 L598.97,237.09 L599.29,235.46 L599.62,233.83 L599.94,232.19 L600.27,230.56 L600.60,228.92 L600.92,227.29 L601.25,225.66 L601.57,224.04 L601.90,222.42 L602.22,220.87 L602.55,219.43 L602.88,218.10 L603.20,216.85 L603.53,215.65 L603.85,214.49 L604.18,213.34 L604.50,212.18 L604.83,211.04 L605.16,209.93 L605.48,208.85 L605.81,207.81 L606.13,206.80 L606.46,205.84 L606.78,204.92 L607.11,204.05 L607.44,203.23 L607.76,202.47 L608.09,201.77 L608.41,201.12 L608.74,200.52 L609.06,199.96 L609.39,199.44 L609.72,198.95 L610.04,198.48 L610.37,198.03 L610.69,197.62 L611.02,197.23 L611.34,196.88 L611.67,196.57 L612.00,196.30 L612.32,196.06 L612.65,195.86 L612.97,195.71 L613.30,195.59 L613.62,195.52 L613.95,195.50 L614.28,195.53 L614.60,195.63 L614.93,195.81 L615.25,196.06 L615.58,196.39 L615.90,196.82 L616.23,197.34 L616.56,197.94 L616.88,198.58 L617.21,199.23 L617.53,199.91 L617.86,200.61 L618.18,201.34 L618.51,202.08 L618.83,202.85 L619.16,203.63 L619.49,204.44 L619.81,205.27 L620.14,206.11 L620.46,206.95 L620.79,207.80 L621.11,208.64 L621.44,209.49 L621.77,210.34 L622.09,211.21 L622.42,212.09 L622.74,212.98 L623.07,213.90 L623.39,214.83 L623.72,215.80 L624.05,216.79 L624.37,217.79 L624.70,218.81 L625.02,219.83 L625.35,220.87 L625.67,221.92 L626.00,222.97 L626.33,224.04 L626.65,225.12 L626.98,226.21 L627.30,227.30 L627.63,228.41 L627.95,229.53 L628.28,230.66 L628.61,231.80 L628.93,232.95 L629.26,234.10 L629.58,235.26 L629.91,236.42 L630.23,237.58 L630.56,238.73 L630.89,239.88 L631.21,241.02 L631.54,242.15 L631.86,243.26 L632.19,244.37 L632.51,245.47 L632.84,246.55 L633.17,247.64 L633.49,248.71 L633.82,249.78 L634.14,250.84 L634.47,251.89 L634.79,252.94 L635.12,253.99 L635.44,255.03 L635.77,256.07 L636.10,257.09 L636.42,258.10 L636.75,259.10 L637.07,260.08 L637.40,261.05 L637.72,262.00 L638.05,262.94 L638.38,263.86 L638.70,264.77 L639.03,265.67 L639.35,266.55 L639.68,267.42 L640.00,268.27 L640.33,269.10 L640.66,269.92 L640.98,270.73 L641.31,271.52 L641.63,272.29 L641.96,273.05 L642.28,273.80 L642.61,274.53 L642.94,275.25 L643.26,275.95 L643.59,276.64 L643.91,277.31 L644.24,277.98 L644.56,278.63 L644.89,279.26 L645.22,279.89 L645.54,280.51 L645.87,281.13 L646.19,281.74 L646.52,282.34 L646.84,282.94 L647.17,283.52 L647.50,284.11 L647.82,284.68 L648.15,285.25 L648.47,285.81 L648.80,286.37 L649.12,286.91 L649.45,287.45 L649.78,287.99 L650.10,288.51 L650.43,289.03 L650.75,289.55 L651.08,290.07 L651.40,290.59 L651.73,291.10 L652.05,291.60 L652.38,292.10 L652.71,292.59 L653.03,293.08 L653.36,293.55 L653.68,294.02 L654.01,294.47 L654.33,294.91 L654.66,295.34 L654.99,295.76 L655.31,296.16 L655.64,296.55 L655.96,296.93 L656.29,297.31 L656.61,297.69 L656.94,298.06 L657.27,298.42 L657.59,298.78 L657.92,299.14 L658.24,299.49 L658.57,299.84 L658.89,300.19 L659.22,300.53 L659.55,300.86 L659.87,301.20 L660.20,301.53 L660.52,301.86 L660.85,302.19 L661.17,302.51 L661.50,302.84 L661.83,303.16 L662.15,303.48 L662.48,303.80 L662.80,304.11 L663.13,304.43 L663.45,304.74 L663.78,305.04 L664.11,305.34 L664.43,305.63 L664.76,305.91 L665.08,306.18 L665.41,306.44 L665.73,306.69 L666.06,306.93 L666.39,307.17 L666.71,307.40 L667.04,307.62 L667.36,307.83 L667.69,308.04 L668.01,308.24 L668.34,308.44 L668.66,308.63 L668.99,308.81 L669.32,308.99 L669.64,309.16 L669.97,309.32 L670.29,309.48 L670.62,309.64 L670.94,309.79 L671.27,309.94 L671.60,310.09 L671.92,310.23 L672.25,310.38 L672.57,310.52 L672.90,310.67 L673.22,310.81 L673.55,310.95 L673.88,311.09 L674.20,311.22 L674.53,311.36 L674.85,311.49 L675.18,311.62 L675.50,311.75 L675.83,311.88 L676.16,312.01 L676.48,312.14 L676.81,312.28 L677.13,312.41 L677.46,312.54 L677.78,312.67 L678.11,312.80 L678.44,312.93 L678.76,313.05 L679.09,313.17 L679.41,313.28 L679.74,313.39 L680.06,313.48 L680.39,313.57 L680.72,313.65 L681.04,313.73 L681.37,313.81 L681.69,313.88 L682.02,313.96 L682.34,314.03 L682.67,314.11 L683.00,314.19 L683.32,314.26 L683.65,314.34 L683.97,314.42 L684.30,314.49 L684.62,314.57 L684.95,314.64 L685.28,314.72 L685.60,314.80 L685.93,314.87 L686.25,314.95 L686.58,315.02 L686.90,315.10 L687.23,315.18 L687.55,315.25 L687.88,315.33 L688.21,315.40 L688.53,315.48 L688.86,315.56 L689.18,315.63 L689.51,315.71 L689.83,315.78 L690.16,315.86 L690.49,315.94 L690.81,316.01 L691.14,316.09 L691.46,316.17 L691.79,316.25 L692.11,316.33 L692.44,316.41 L692.77,316.49 L693.09,316.58 L693.42,316.66 L693.74,316.75 L694.07,316.83 L694.39,316.92 L694.72,317.00 L695.05,317.09 L695.37,317.17 L695.70,317.26 L696.02,317.34 L696.35,317.42 L696.67,317.51 L697.00,317.59 L697.33,317.67 L697.65,317.76 L697.98,317.84 L698.30,317.93 L698.63,318.02 L698.95,318.11 L699.28,318.20 L699.61,318.29 L699.93,318.39 L700.26,318.49 L700.58,318.60 L700.91,318.71 L701.23,318.82 L701.56,318.94 L701.89,319.05 L702.21,319.17 L702.54,319.29 L702.86,319.41 L703.19,319.53 L703.51,319.65 L703.84,319.77 L704.16,319.89 L704.49,320.01 L704.82,320.13 L705.14,320.25 L705.47,320.37 L705.79,320.48 L706.12,320.60 L706.44,320.72 L706.77,320.84 L707.10,320.95 L707.42,321.07 L707.75,321.18 L708.07,321.30 L708.40,321.42 L708.72,321.53 L709.05,321.65 L709.38,321.76 L709.70,321.88 L710.03,321.99 L710.35,322.11 L710.68,322.22 L711.00,322.34 L711.33,322.45 L711.66,322.56 L711.98,322.66 L712.31,322.76 L712.63,322.86 L712.96,322.95 L713.28,323.04 L713.61,323.12 L713.94,323.21 L714.26,323.28 L714.59,323.36 L714.91,323.43 L715.24,323.49 L715.56,323.56 L715.89,323.61 L716.22,323.67 L716.54,323.72 L716.87,323.77 L717.19,323.82 L717.52,323.87 L717.84,323.92 L718.17,323.96 L718.50,324.00 L718.82,324.04 L719.15,324.08 L719.47,324.12 L719.80,324.15 L720.12,324.19 L720.45,324.22 L720.78,324.25 L721.10,324.28 L721.43,324.31 L721.75,324.34 L722.08,324.37 L722.40,324.40 L722.73,324.43 L723.05,324.46 L723.38,324.48 L723.71,324.51 L724.03,324.54 L724.36,324.56 L724.68,324.58 L725.01,324.61 L725.33,324.63 L725.66,324.65 L725.99,324.66 L726.31,324.68 L726.64,324.70 L726.96,324.71 L727.29,324.72 L727.61,324.74 L727.94,324.75 L728.27,324.76 L728.59,324.77 L728.92,324.78 L729.24,324.78 L729.57,324.79 L729.89,324.79 L730.22,324.80 L730.55,324.80 L730.87,324.80 L731.20,324.80 L731.52,324.80 L731.63,324.80 L764.20,324.80 Z" fill="#fff" fill-opacity="0.5" stroke="none"/>
<line x1="590.50" y1="324.80" x2="764.20" y2="324.80" stroke="#5e5e5e" stroke-width="1.3"/>
<path d="M590.50,324.80 L590.50,274.64 L590.83,273.57 L591.15,272.48 L591.48,271.38 L591.80,270.25 L592.13,269.10 L592.45,267.92 L592.78,266.70 L593.11,265.43 L593.43,264.11 L593.76,262.72 L594.08,261.28 L594.41,259.76 L594.73,258.17 L595.06,256.56 L595.39,254.94 L595.71,253.33 L596.04,251.71 L596.36,250.09 L596.69,248.47 L597.01,246.84 L597.34,245.22 L597.67,243.60 L597.99,241.97 L598.32,240.35 L598.64,238.72 L598.97,237.09 L599.29,235.46 L599.62,233.83 L599.94,232.19 L600.27,230.56 L600.60,228.92 L600.92,227.29 L601.25,225.66 L601.57,224.04 L601.90,222.42 L602.22,220.87 L602.55,219.43 L602.88,218.10 L603.20,216.85 L603.53,215.65 L603.85,214.49 L604.18,213.34 L604.50,212.18 L604.83,211.04 L605.16,209.93 L605.48,208.85 L605.81,207.81 L606.13,206.80 L606.46,205.84 L606.78,204.92 L607.11,204.05 L607.44,203.23 L607.76,202.47 L608.09,201.77 L608.41,201.12 L608.74,200.52 L609.06,199.96 L609.39,199.44 L609.72,198.95 L610.04,198.48 L610.37,198.03 L610.69,197.62 L611.02,197.23 L611.34,196.88 L611.67,196.57 L612.00,196.30 L612.32,196.06 L612.65,195.86 L612.97,195.71 L613.30,195.59 L613.62,195.52 L613.95,195.50 L614.28,195.53 L614.60,195.63 L614.93,195.81 L615.25,196.06 L615.58,196.39 L615.90,196.82 L616.23,197.34 L616.56,197.94 L616.88,198.58 L617.21,199.23 L617.53,199.91 L617.86,200.61 L618.18,201.34 L618.51,202.08 L618.83,202.85 L619.16,203.63 L619.49,204.44 L619.81,205.27 L620.14,206.11 L620.46,206.95 L620.79,207.80 L621.11,208.64 L621.44,209.49 L621.77,210.34 L622.09,211.21 L622.42,212.09 L622.74,212.98 L623.07,213.90 L623.39,214.83 L623.72,215.80 L624.05,216.79 L624.37,217.79 L624.70,218.81 L625.02,219.83 L625.35,220.87 L625.67,221.92 L626.00,222.97 L626.33,224.04 L626.65,225.12 L626.98,226.21 L627.30,227.30 L627.63,228.41 L627.95,229.53 L628.28,230.66 L628.61,231.80 L628.93,232.95 L629.26,234.10 L629.58,235.26 L629.91,236.42 L630.23,237.58 L630.56,238.73 L630.89,239.88 L631.21,241.02 L631.54,242.15 L631.86,243.26 L632.19,244.37 L632.51,245.47 L632.84,246.55 L633.17,247.64 L633.49,248.71 L633.82,249.78 L634.14,250.84 L634.47,251.89 L634.79,252.94 L635.12,253.99 L635.44,255.03 L635.77,256.07 L636.10,257.09 L636.42,258.10 L636.75,259.10 L637.07,260.08 L637.40,261.05 L637.72,262.00 L638.05,262.94 L638.38,263.86 L638.70,264.77 L639.03,265.67 L639.35,266.55 L639.68,267.42 L640.00,268.27 L640.33,269.10 L640.66,269.92 L640.98,270.73 L641.31,271.52 L641.63,272.29 L641.96,273.05 L642.28,273.80 L642.61,274.53 L642.94,275.25 L643.26,275.95 L643.59,276.64 L643.91,277.31 L644.24,277.98 L644.56,278.63 L644.89,279.26 L645.22,279.89 L645.54,280.51 L645.87,281.13 L646.19,281.74 L646.52,282.34 L646.84,282.94 L647.17,283.52 L647.50,284.11 L647.82,284.68 L648.15,285.25 L648.47,285.81 L648.80,286.37 L649.12,286.91 L649.45,287.45 L649.78,287.99 L650.10,288.51 L650.43,289.03 L650.75,289.55 L651.08,290.07 L651.40,290.59 L651.73,291.10 L652.05,291.60 L652.38,292.10 L652.71,292.59 L653.03,293.08 L653.36,293.55 L653.68,294.02 L654.01,294.47 L654.33,294.91 L654.66,295.34 L654.99,295.76 L655.31,296.16 L655.64,296.55 L655.96,296.93 L656.29,297.31 L656.61,297.69 L656.94,298.06 L657.27,298.42 L657.59,298.78 L657.92,299.14 L658.24,299.49 L658.57,299.84 L658.89,300.19 L659.22,300.53 L659.55,300.86 L659.87,301.20 L660.20,301.53 L660.52,301.86 L660.85,302.19 L661.17,302.51 L661.50,302.84 L661.83,303.16 L662.15,303.48 L662.48,303.80 L662.80,304.11 L663.13,304.43 L663.45,304.74 L663.78,305.04 L664.11,305.34 L664.43,305.63 L664.76,305.91 L665.08,306.18 L665.41,306.44 L665.73,306.69 L666.06,306.93 L666.39,307.17 L666.71,307.40 L667.04,307.62 L667.36,307.83 L667.69,308.04 L668.01,308.24 L668.34,308.44 L668.66,308.63 L668.99,308.81 L669.32,308.99 L669.64,309.16 L669.97,309.32 L670.29,309.48 L670.62,309.64 L670.94,309.79 L671.27,309.94 L671.60,310.09 L671.92,310.23 L672.25,310.38 L672.57,310.52 L672.90,310.67 L673.22,310.81 L673.55,310.95 L673.88,311.09 L674.20,311.22 L674.53,311.36 L674.85,311.49 L675.18,311.62 L675.50,311.75 L675.83,311.88 L676.16,312.01 L676.48,312.14 L676.81,312.28 L677.13,312.41 L677.46,312.54 L677.78,312.67 L678.11,312.80 L678.44,312.93 L678.76,313.05 L679.09,313.17 L679.41,313.28 L679.74,313.39 L680.06,313.48 L680.39,313.57 L680.72,313.65 L681.04,313.73 L681.37,313.81 L681.69,313.88 L682.02,313.96 L682.34,314.03 L682.67,314.11 L683.00,314.19 L683.32,314.26 L683.65,314.34 L683.97,314.42 L684.30,314.49 L684.62,314.57 L684.95,314.64 L685.28,314.72 L685.60,314.80 L685.93,314.87 L686.25,314.95 L686.58,315.02 L686.90,315.10 L687.23,315.18 L687.55,315.25 L687.88,315.33 L688.21,315.40 L688.53,315.48 L688.86,315.56 L689.18,315.63 L689.51,315.71 L689.83,315.78 L690.16,315.86 L690.49,315.94 L690.81,316.01 L691.14,316.09 L691.46,316.17 L691.79,316.25 L692.11,316.33 L692.44,316.41 L692.77,316.49 L693.09,316.58 L693.42,316.66 L693.74,316.75 L694.07,316.83 L694.39,316.92 L694.72,317.00 L695.05,317.09 L695.37,317.17 L695.70,317.26 L696.02,317.34 L696.35,317.42 L696.67,317.51 L697.00,317.59 L697.33,317.67 L697.65,317.76 L697.98,317.84 L698.30,317.93 L698.63,318.02 L698.95,318.11 L699.28,318.20 L699.61,318.29 L699.93,318.39 L700.26,318.49 L700.58,318.60 L700.91,318.71 L701.23,318.82 L701.56,318.94 L701.89,319.05 L702.21,319.17 L702.54,319.29 L702.86,319.41 L703.19,319.53 L703.51,319.65 L703.84,319.77 L704.16,319.89 L704.49,320.01 L704.82,320.13 L705.14,320.25 L705.47,320.37 L705.79,320.48 L706.12,320.60 L706.44,320.72 L706.77,320.84 L707.10,320.95 L707.42,321.07 L707.75,321.18 L708.07,321.30 L708.40,321.42 L708.72,321.53 L709.05,321.65 L709.38,321.76 L709.70,321.88 L710.03,321.99 L710.35,322.11 L710.68,322.22 L711.00,322.34 L711.33,322.45 L711.66,322.56 L711.98,322.66 L712.31,322.76 L712.63,322.86 L712.96,322.95 L713.28,323.04 L713.61,323.12 L713.94,323.21 L714.26,323.28 L714.59,323.36 L714.91,323.43 L715.24,323.49 L715.56,323.56 L715.89,323.61 L716.22,323.67 L716.54,323.72 L716.87,323.77 L717.19,323.82 L717.52,323.87 L717.84,323.92 L718.17,323.96 L718.50,324.00 L718.82,324.04 L719.15,324.08 L719.47,324.12 L719.80,324.15 L720.12,324.19 L720.45,324.22 L720.78,324.25 L721.10,324.28 L721.43,324.31 L721.75,324.34 L722.08,324.37 L722.40,324.40 L722.73,324.43 L723.05,324.46 L723.38,324.48 L723.71,324.51 L724.03,324.54 L724.36,324.56 L724.68,324.58 L725.01,324.61 L725.33,324.63 L725.66,324.65 L725.99,324.66 L726.31,324.68 L726.64,324.70 L726.96,324.71 L727.29,324.72 L727.61,324.74 L727.94,324.75 L728.27,324.76 L728.59,324.77 L728.92,324.78 L729.24,324.78 L729.57,324.79 L729.89,324.79 L730.22,324.80 L730.55,324.80 L730.87,324.80 L731.20,324.80 L731.52,324.80 L731.63,324.80" fill="none" stroke="#303030" stroke-width="1.1" stroke-linejoin="round"/>
</g>
<rect x="582.00" y="189.20" width="191.20" height="142.00" fill="none" stroke="#ababab" stroke-width="1.15"/>
<line x1="590.50" y1="331.20" x2="590.50" y2="334.00" stroke="#7a7a7a" stroke-width="1"/>
<text x="590.50" y="343.30" font-family="Liberation Sans" font-weight="bold" font-size="9.8" text-anchor="middle" fill="#111"  stroke="#111" stroke-width="0.3">0</text>
<line x1="612.21" y1="331.20" x2="612.21" y2="334.00" stroke="#7a7a7a" stroke-width="1"/>
<text x="612.21" y="343.30" font-family="Liberation Sans" font-weight="bold" font-size="9.8" text-anchor="middle" fill="#111"  stroke="#111" stroke-width="0.3">2</text>
<line x1="633.92" y1="331.20" x2="633.92" y2="334.00" stroke="#7a7a7a" stroke-width="1"/>
<text x="633.92" y="343.30" font-family="Liberation Sans" font-weight="bold" font-size="9.8" text-anchor="middle" fill="#111"  stroke="#111" stroke-width="0.3">4</text>
<line x1="655.64" y1="331.20" x2="655.64" y2="334.00" stroke="#7a7a7a" stroke-width="1"/>
<text x="655.64" y="343.30" font-family="Liberation Sans" font-weight="bold" font-size="9.8" text-anchor="middle" fill="#111"  stroke="#111" stroke-width="0.3">6</text>
<line x1="677.35" y1="331.20" x2="677.35" y2="334.00" stroke="#7a7a7a" stroke-width="1"/>
<text x="677.35" y="343.30" font-family="Liberation Sans" font-weight="bold" font-size="9.8" text-anchor="middle" fill="#111"  stroke="#111" stroke-width="0.3">8</text>
<line x1="699.06" y1="331.20" x2="699.06" y2="334.00" stroke="#7a7a7a" stroke-width="1"/>
<text x="699.06" y="343.30" font-family="Liberation Sans" font-weight="bold" font-size="9.8" text-anchor="middle" fill="#111"  stroke="#111" stroke-width="0.3">10</text>
<line x1="720.78" y1="331.20" x2="720.78" y2="334.00" stroke="#7a7a7a" stroke-width="1"/>
<text x="720.78" y="343.30" font-family="Liberation Sans" font-weight="bold" font-size="9.8" text-anchor="middle" fill="#111"  stroke="#111" stroke-width="0.3">12</text>
<line x1="742.49" y1="331.20" x2="742.49" y2="334.00" stroke="#7a7a7a" stroke-width="1"/>
<text x="742.49" y="343.30" font-family="Liberation Sans" font-weight="bold" font-size="9.8" text-anchor="middle" fill="#111"  stroke="#111" stroke-width="0.3">14</text>
<line x1="764.20" y1="331.20" x2="764.20" y2="334.00" stroke="#7a7a7a" stroke-width="1"/>
<text x="764.20" y="343.30" font-family="Liberation Sans" font-weight="bold" font-size="9.8" text-anchor="middle" fill="#111"  stroke="#111" stroke-width="0.3">16</text>
<line x1="579.20" y1="324.80" x2="582.00" y2="324.80" stroke="#7a7a7a" stroke-width="1"/>
<text x="577.40" y="328.55" font-family="Liberation Sans" font-weight="bold" font-size="9.8" text-anchor="end" fill="#111"  stroke="#111" stroke-width="0.3">0.00</text>
<line x1="579.20" y1="292.40" x2="582.00" y2="292.40" stroke="#7a7a7a" stroke-width="1"/>
<text x="577.40" y="296.15" font-family="Liberation Sans" font-weight="bold" font-size="9.8" text-anchor="end" fill="#111"  stroke="#111" stroke-width="0.3">0.25</text>
<line x1="579.20" y1="260.00" x2="582.00" y2="260.00" stroke="#7a7a7a" stroke-width="1"/>
<text x="577.40" y="263.75" font-family="Liberation Sans" font-weight="bold" font-size="9.8" text-anchor="end" fill="#111"  stroke="#111" stroke-width="0.3">0.50</text>
<line x1="579.20" y1="227.60" x2="582.00" y2="227.60" stroke="#7a7a7a" stroke-width="1"/>
<text x="577.40" y="231.35" font-family="Liberation Sans" font-weight="bold" font-size="9.8" text-anchor="end" fill="#111"  stroke="#111" stroke-width="0.3">0.75</text>
<line x1="579.20" y1="195.20" x2="582.00" y2="195.20" stroke="#7a7a7a" stroke-width="1"/>
<text x="577.40" y="198.95" font-family="Liberation Sans" font-weight="bold" font-size="9.8" text-anchor="end" fill="#111"  stroke="#111" stroke-width="0.3">1.00</text>
<text x="659.00" y="355.40" font-family="Liberation Serif" font-style="italic" font-size="10.5" fill="#333">χ</text>
<text x="667.30" y="355.40" font-family="Liberation Sans" font-weight="normal" font-size="9.6" text-anchor="start" fill="#333" >(SAXS)</text>
<g transform="translate(547.20,298.60) rotate(-90) scale(0.9036,1)" font-family="Liberation Sans" font-weight="normal" fill="#262626" stroke="#262626" stroke-width="0.2">
<text x="0" y="0" font-size="10.3">Density ( E</text>
<text x="50.37" y="1.2" font-size="6.9">SAXS,χ<tspan font-size="4.5" dy="-3">2</tspan></text>
<text x="78.15" y="0" font-size="10.3"> )</text>
</g>
<clipPath id="cC1"><rect x="62.9" y="367.6" width="201.70000000000002" height="147.10000000000002"/></clipPath>
<g clip-path="url(#cC1)">
<line x1="63.17" y1="514.70" x2="271.95" y2="362.24" stroke="#000" stroke-width="1.6" stroke-dasharray="5.8 7.2" stroke-dashoffset="0"/>
<circle cx="110.2" cy="447.5" r="4.05"/>
<circle cx="105.8" cy="468.1" r="4.05"/>
<circle cx="136.2" cy="468.1" r="4.05"/>
<circle cx="80.8" cy="486.9" r="4.05"/>
<circle cx="90.8" cy="490.4" r="4.05"/>
<circle cx="100.0" cy="487.3" r="4.05"/>
<circle cx="108.8" cy="488.8" r="4.05"/>
<circle cx="117.7" cy="498.8" r="4.05"/>
<circle cx="126.2" cy="497.3" r="4.05"/>
<circle cx="111.9" cy="502.3" r="4.05"/>
<circle cx="150.2" cy="495.6" r="4.05"/>
<circle cx="159.8" cy="503.8" r="4.05"/>
<circle cx="204.4" cy="501.0" r="4.05"/>
<circle cx="131.3" cy="502.3" r="4.05"/>
<circle cx="134.6" cy="498.8" r="4.05"/>
<circle cx="80.0" cy="497.3" r="4.05"/>
<circle cx="78.5" cy="499.6" r="4.05"/>
<circle cx="80.0" cy="505.4" r="4.05"/>
<circle cx="87.7" cy="504.2" r="4.05"/>
<circle cx="95.4" cy="503.5" r="4.05"/>
<circle cx="102.3" cy="503.5" r="4.05"/>
<circle cx="107.7" cy="502.7" r="4.05"/>
<circle cx="89.2" cy="498.1" r="4.05"/>
<circle cx="96.2" cy="497.3" r="4.05"/>
<circle cx="103.1" cy="496.5" r="4.05"/>
<circle cx="99.2" cy="492.7" r="4.05"/>
<circle cx="105.4" cy="492.7" r="4.05"/>
<circle cx="84.6" cy="497.3" r="4.05"/>
<circle cx="84.0" cy="502.0" r="4.05"/>
<circle cx="92.0" cy="501.0" r="4.05"/>
<circle cx="100.0" cy="500.0" r="4.05"/>
<circle cx="94.0" cy="494.0" r="4.05"/>
<circle cx="108.0" cy="497.0" r="4.05"/>
</g>
<rect x="62.90" y="367.60" width="201.70" height="147.10" fill="none" stroke="#ababab" stroke-width="1.15"/>
<line x1="71.80" y1="514.70" x2="71.80" y2="517.50" stroke="#7a7a7a" stroke-width="1"/>
<text x="71.80" y="526.90" font-family="Liberation Sans" font-weight="bold" font-size="9.8" text-anchor="middle" fill="#111"  stroke="#111" stroke-width="0.3">0</text>
<line x1="108.50" y1="514.70" x2="108.50" y2="517.50" stroke="#7a7a7a" stroke-width="1"/>
<text x="108.50" y="526.90" font-family="Liberation Sans" font-weight="bold" font-size="9.8" text-anchor="middle" fill="#111"  stroke="#111" stroke-width="0.3">5</text>
<line x1="145.20" y1="514.70" x2="145.20" y2="517.50" stroke="#7a7a7a" stroke-width="1"/>
<text x="145.20" y="526.90" font-family="Liberation Sans" font-weight="bold" font-size="9.8" text-anchor="middle" fill="#111"  stroke="#111" stroke-width="0.3">10</text>
<line x1="181.90" y1="514.70" x2="181.90" y2="517.50" stroke="#7a7a7a" stroke-width="1"/>
<text x="181.90" y="526.90" font-family="Liberation Sans" font-weight="bold" font-size="9.8" text-anchor="middle" fill="#111"  stroke="#111" stroke-width="0.3">15</text>
<line x1="218.60" y1="514.70" x2="218.60" y2="517.50" stroke="#7a7a7a" stroke-width="1"/>
<text x="218.60" y="526.90" font-family="Liberation Sans" font-weight="bold" font-size="9.8" text-anchor="middle" fill="#111"  stroke="#111" stroke-width="0.3">20</text>
<line x1="255.30" y1="514.70" x2="255.30" y2="517.50" stroke="#7a7a7a" stroke-width="1"/>
<text x="255.30" y="526.90" font-family="Liberation Sans" font-weight="bold" font-size="9.8" text-anchor="middle" fill="#111"  stroke="#111" stroke-width="0.3">25</text>
<line x1="60.10" y1="508.40" x2="62.90" y2="508.40" stroke="#7a7a7a" stroke-width="1"/>
<text x="58.30" y="512.15" font-family="Liberation Sans" font-weight="bold" font-size="9.8" text-anchor="end" fill="#111"  stroke="#111" stroke-width="0.3">0</text>
<line x1="60.10" y1="481.60" x2="62.90" y2="481.60" stroke="#7a7a7a" stroke-width="1"/>
<text x="58.30" y="485.35" font-family="Liberation Sans" font-weight="bold" font-size="9.8" text-anchor="end" fill="#111"  stroke="#111" stroke-width="0.3">5</text>
<line x1="60.10" y1="454.80" x2="62.90" y2="454.80" stroke="#7a7a7a" stroke-width="1"/>
<text x="58.30" y="458.55" font-family="Liberation Sans" font-weight="bold" font-size="9.8" text-anchor="end" fill="#111"  stroke="#111" stroke-width="0.3">10</text>
<line x1="60.10" y1="428.00" x2="62.90" y2="428.00" stroke="#7a7a7a" stroke-width="1"/>
<text x="58.30" y="431.75" font-family="Liberation Sans" font-weight="bold" font-size="9.8" text-anchor="end" fill="#111"  stroke="#111" stroke-width="0.3">15</text>
<line x1="60.10" y1="401.20" x2="62.90" y2="401.20" stroke="#7a7a7a" stroke-width="1"/>
<text x="58.30" y="404.95" font-family="Liberation Sans" font-weight="bold" font-size="9.8" text-anchor="end" fill="#111"  stroke="#111" stroke-width="0.3">20</text>
<line x1="60.10" y1="374.40" x2="62.90" y2="374.40" stroke="#7a7a7a" stroke-width="1"/>
<text x="58.30" y="378.15" font-family="Liberation Sans" font-weight="bold" font-size="9.8" text-anchor="end" fill="#111"  stroke="#111" stroke-width="0.3">25</text>
<text x="163.75" y="538.90" font-family="Liberation Sans" font-weight="bold" font-size="9.25" text-anchor="middle" fill="#1a1a1a"  stroke="#1a1a1a" stroke-width="0.25">RMSD of Ab initio (without SAXS)</text>
<g transform="translate(39.30,500.40) rotate(-90) scale(0.9024,1)" font-family="Liberation Sans" font-weight="normal" fill="#262626" stroke="#262626" stroke-width="0.2">
<text x="0" y="0" font-size="10.3">RMSD of  SAXSDom ( E</text>
<text x="112.75" y="1.2" font-size="6.9">SAXS,Pr</text>
<text x="139.98" y="0" font-size="10.3"> )</text>
</g>
<text x="67.40" y="386.30" font-family="Liberation Serif" font-weight="bold" font-size="16.35" text-anchor="start" fill="#000" >Improved: 37/46</text>
<clipPath id="cC2"><rect x="320.8" y="367.4" width="198.7" height="147.30000000000007"/></clipPath>
<g clip-path="url(#cC2)">
<line x1="320.80" y1="514.69" x2="882.37" y2="99.40" stroke="#000" stroke-width="1.6" stroke-dasharray="5.8 7.2" stroke-dashoffset="0"/>
<circle cx="344.4" cy="377.0" r="4.05"/>
<circle cx="362.1" cy="390.7" r="4.05"/>
<circle cx="356.0" cy="410.3" r="4.05"/>
<circle cx="394.4" cy="385.9" r="4.05"/>
<circle cx="401.8" cy="385.3" r="4.05"/>
<circle cx="404.1" cy="384.0" r="4.05"/>
<circle cx="420.4" cy="388.5" r="4.05"/>
<circle cx="426.4" cy="380.5" r="4.05"/>
<circle cx="428.7" cy="385.3" r="4.05"/>
<circle cx="410.5" cy="399.2" r="4.05"/>
<circle cx="419.3" cy="408.4" r="4.05"/>
<circle cx="391.5" cy="418.6" r="4.05"/>
<circle cx="398.0" cy="425.0" r="4.05"/>
<circle cx="426.5" cy="426.7" r="4.05"/>
<circle cx="412.5" cy="449.1" r="4.05"/>
<circle cx="429.2" cy="455.8" r="4.05"/>
<circle cx="424.6" cy="384.0" r="4.05"/>
<circle cx="431.0" cy="386.0" r="4.05"/>
<circle cx="434.9" cy="387.9" r="4.05"/>
<circle cx="443.0" cy="380.8" r="4.05"/>
<circle cx="449.6" cy="382.1" r="4.05"/>
<circle cx="454.5" cy="380.8" r="4.05"/>
<circle cx="452.2" cy="387.2" r="4.05"/>
<circle cx="459.9" cy="389.5" r="4.05"/>
<circle cx="470.1" cy="390.4" r="4.05"/>
<circle cx="477.8" cy="379.5" r="4.05"/>
<circle cx="476.5" cy="385.3" r="4.05"/>
<circle cx="490.0" cy="381.8" r="4.05"/>
<circle cx="493.8" cy="383.4" r="4.05"/>
<circle cx="497.1" cy="377.6" r="4.05"/>
<circle cx="503.5" cy="376.7" r="4.05"/>
<circle cx="503.5" cy="390.1" r="4.05"/>
<circle cx="497.7" cy="397.7" r="4.05"/>
<circle cx="463.1" cy="401.1" r="4.05"/>
<circle cx="477.2" cy="402.0" r="4.05"/>
<circle cx="447.1" cy="401.1" r="4.05"/>
<circle cx="454.1" cy="405.2" r="4.05"/>
<circle cx="450.3" cy="412.2" r="4.05"/>
<circle cx="453.5" cy="415.4" r="4.05"/>
<circle cx="497.1" cy="436.0" r="4.05"/>
<circle cx="438.1" cy="448.5" r="4.05"/>
<circle cx="350.5" cy="469.1" r="4.05"/>
<circle cx="344.1" cy="490.3" r="4.05"/>
<circle cx="405.3" cy="462.3" r="4.05"/>
<circle cx="425.8" cy="468.1" r="4.05"/>
</g>
<rect x="320.80" y="367.40" width="198.70" height="147.30" fill="none" stroke="#ababab" stroke-width="1.15"/>
<line x1="329.30" y1="514.70" x2="329.30" y2="517.50" stroke="#7a7a7a" stroke-width="1"/>
<text x="329.30" y="526.90" font-family="Liberation Sans" font-weight="bold" font-size="9.8" text-anchor="middle" fill="#111"  stroke="#111" stroke-width="0.3">0.5</text>
<line x1="365.54" y1="514.70" x2="365.54" y2="517.50" stroke="#7a7a7a" stroke-width="1"/>
<text x="365.54" y="526.90" font-family="Liberation Sans" font-weight="bold" font-size="9.8" text-anchor="middle" fill="#111"  stroke="#111" stroke-width="0.3">0.6</text>
<line x1="401.78" y1="514.70" x2="401.78" y2="517.50" stroke="#7a7a7a" stroke-width="1"/>
<text x="401.78" y="526.90" font-family="Liberation Sans" font-weight="bold" font-size="9.8" text-anchor="middle" fill="#111"  stroke="#111" stroke-width="0.3">0.7</text>
<line x1="438.02" y1="514.70" x2="438.02" y2="517.50" stroke="#7a7a7a" stroke-width="1"/>
<text x="438.02" y="526.90" font-family="Liberation Sans" font-weight="bold" font-size="9.8" text-anchor="middle" fill="#111"  stroke="#111" stroke-width="0.3">0.8</text>
<line x1="474.26" y1="514.70" x2="474.26" y2="517.50" stroke="#7a7a7a" stroke-width="1"/>
<text x="474.26" y="526.90" font-family="Liberation Sans" font-weight="bold" font-size="9.8" text-anchor="middle" fill="#111"  stroke="#111" stroke-width="0.3">0.9</text>
<line x1="510.50" y1="514.70" x2="510.50" y2="517.50" stroke="#7a7a7a" stroke-width="1"/>
<text x="510.50" y="526.90" font-family="Liberation Sans" font-weight="bold" font-size="9.8" text-anchor="middle" fill="#111"  stroke="#111" stroke-width="0.3">1</text>
<line x1="318.00" y1="508.40" x2="320.80" y2="508.40" stroke="#7a7a7a" stroke-width="1"/>
<text x="316.20" y="512.15" font-family="Liberation Sans" font-weight="bold" font-size="9.8" text-anchor="end" fill="#111"  stroke="#111" stroke-width="0.3">0.5</text>
<line x1="318.00" y1="481.60" x2="320.80" y2="481.60" stroke="#7a7a7a" stroke-width="1"/>
<text x="316.20" y="485.35" font-family="Liberation Sans" font-weight="bold" font-size="9.8" text-anchor="end" fill="#111"  stroke="#111" stroke-width="0.3">0.6</text>
<line x1="318.00" y1="454.80" x2="320.80" y2="454.80" stroke="#7a7a7a" stroke-width="1"/>
<text x="316.20" y="458.55" font-family="Liberation Sans" font-weight="bold" font-size="9.8" text-anchor="end" fill="#111"  stroke="#111" stroke-width="0.3">0.7</text>
<line x1="318.00" y1="428.00" x2="320.80" y2="428.00" stroke="#7a7a7a" stroke-width="1"/>
<text x="316.20" y="431.75" font-family="Liberation Sans" font-weight="bold" font-size="9.8" text-anchor="end" fill="#111"  stroke="#111" stroke-width="0.3">0.8</text>
<line x1="318.00" y1="401.20" x2="320.80" y2="401.20" stroke="#7a7a7a" stroke-width="1"/>
<text x="316.20" y="404.95" font-family="Liberation Sans" font-weight="bold" font-size="9.8" text-anchor="end" fill="#111"  stroke="#111" stroke-width="0.3">0.9</text>
<line x1="318.00" y1="374.40" x2="320.80" y2="374.40" stroke="#7a7a7a" stroke-width="1"/>
<text x="316.20" y="378.15" font-family="Liberation Sans" font-weight="bold" font-size="9.8" text-anchor="end" fill="#111"  stroke="#111" stroke-width="0.3">1</text>
<text x="420.15" y="538.90" font-family="Liberation Sans" font-weight="bold" font-size="9.25" text-anchor="middle" fill="#1a1a1a"  stroke="#1a1a1a" stroke-width="0.25">TMscore of Ab initio (without SAXS)</text>
<g transform="translate(295.70,506.30) rotate(-90) scale(0.9148,1)" font-family="Liberation Sans" font-weight="normal" fill="#262626" stroke="#262626" stroke-width="0.2">
<text x="0" y="0" font-size="10.3">TMscore of  SAXSDom ( E</text>
<text x="122.48" y="1.2" font-size="6.9">SAXS,Pr</text>
<text x="149.71" y="0" font-size="10.3"> )</text>
</g>
<text x="402.70" y="509.20" font-family="Liberation Serif" font-weight="bold" font-size="16.35" text-anchor="start" fill="#000" >Improved: 37/46</text>
<clipPath id="cC3"><rect x="581.4" y="367.5" width="193.10000000000002" height="142.89999999999998"/></clipPath>
<g clip-path="url(#cC3)">
<path d="M589.20,503.80 L589.20,453.49 L589.53,453.49 L589.86,452.54 L590.19,451.36 L590.52,449.93 L590.85,448.26 L591.18,446.35 L591.52,444.29 L591.85,442.05 L592.18,439.58 L592.51,436.95 L592.84,434.17 L593.17,431.14 L593.50,427.75 L593.83,424.11 L594.16,420.39 L594.49,416.61 L594.82,412.80 L595.15,408.91 L595.48,404.97 L595.82,401.07 L596.15,397.36 L596.48,393.97 L596.81,390.83 L597.14,387.84 L597.47,385.03 L597.80,382.49 L598.13,380.23 L598.46,378.25 L598.79,376.74 L599.12,375.57 L599.45,374.64 L599.78,374.18 L600.11,374.39 L600.45,375.00 L600.78,375.92 L601.11,376.95 L601.44,378.06 L601.77,379.30 L602.10,380.62 L602.43,382.01 L602.76,383.42 L603.09,384.85 L603.42,386.11 L603.75,387.92 L604.08,391.15 L604.41,394.85 L604.75,398.60 L605.08,402.16 L605.41,405.70 L605.74,409.24 L606.07,412.80 L606.40,416.49 L606.73,420.31 L607.06,424.12 L607.39,427.75 L607.72,431.16 L608.05,434.44 L608.38,437.73 L608.71,441.11 L609.05,444.59 L609.38,448.09 L609.71,451.54 L610.04,454.88 L610.37,458.09 L610.70,461.21 L611.03,464.24 L611.36,467.11 L611.69,469.81 L612.02,472.37 L612.35,474.81 L612.68,477.12 L613.01,479.28 L613.34,481.29 L613.68,483.18 L614.01,484.95 L614.34,486.61 L614.67,488.16 L615.00,489.58 L615.33,490.85 L615.66,491.97 L615.99,492.92 L616.32,493.81 L616.65,494.64 L616.98,495.40 L617.31,496.08 L617.64,496.66 L617.98,497.13 L618.31,497.48 L618.64,497.69 L618.97,497.82 L619.30,497.96 L619.63,498.09 L619.96,498.22 L620.29,498.36 L620.62,498.49 L620.95,498.63 L621.28,498.76 L621.61,498.89 L621.94,499.03 L622.28,499.16 L622.61,499.29 L622.94,499.43 L623.27,499.56 L623.60,499.70 L623.93,499.83 L624.26,499.96 L624.59,500.10 L624.92,500.23 L625.25,500.36 L625.58,500.50 L625.91,500.63 L626.24,500.77 L626.57,500.91 L626.91,501.08 L627.24,501.28 L627.57,501.50 L627.90,501.73 L628.23,501.97 L628.56,502.21 L628.89,502.44 L629.22,502.66 L629.55,502.85 L629.88,503.02 L630.21,503.15 L630.54,503.25 L630.87,503.34 L631.21,503.42 L631.54,503.48 L631.87,503.53 L632.20,503.57 L632.53,503.61 L632.86,503.64 L633.19,503.66 L633.52,503.69 L633.85,503.71 L634.18,503.73 L634.51,503.75 L634.84,503.77 L635.17,503.78 L635.50,503.80 L635.84,503.80 L636.17,503.80 L636.50,503.80 L636.61,503.80 L765.60,503.80 Z" fill="#7f7f7f" stroke="#333" stroke-width="1.1" stroke-linejoin="round"/>
<path d="M589.20,503.80 L589.20,453.49 L589.53,452.41 L589.86,451.32 L590.19,450.21 L590.52,449.08 L590.85,447.93 L591.18,446.74 L591.52,445.52 L591.85,444.24 L592.18,442.92 L592.51,441.53 L592.84,440.08 L593.17,438.56 L593.50,436.96 L593.83,435.34 L594.16,433.73 L594.49,432.10 L594.82,430.48 L595.15,428.86 L595.48,427.23 L595.82,425.60 L596.15,423.98 L596.48,422.35 L596.81,420.72 L597.14,419.09 L597.47,417.46 L597.80,415.82 L598.13,414.19 L598.46,412.55 L598.79,410.91 L599.12,409.27 L599.45,407.63 L599.78,405.99 L600.11,404.36 L600.45,402.73 L600.78,401.10 L601.11,399.54 L601.44,398.11 L601.77,396.77 L602.10,395.51 L602.43,394.31 L602.76,393.14 L603.09,391.99 L603.42,390.83 L603.75,389.69 L604.08,388.58 L604.41,387.50 L604.75,386.45 L605.08,385.44 L605.41,384.47 L605.74,383.55 L606.07,382.67 L606.40,381.85 L606.73,381.09 L607.06,380.39 L607.39,379.74 L607.72,379.14 L608.05,378.58 L608.38,378.05 L608.71,377.56 L609.05,377.09 L609.38,376.64 L609.71,376.22 L610.04,375.84 L610.37,375.49 L610.70,375.18 L611.03,374.90 L611.36,374.66 L611.69,374.47 L612.02,374.31 L612.35,374.19 L612.68,374.12 L613.01,374.10 L613.34,374.13 L613.68,374.24 L614.01,374.41 L614.34,374.66 L614.67,375.00 L615.00,375.42 L615.33,375.94 L615.66,376.55 L615.99,377.19 L616.32,377.85 L616.65,378.53 L616.98,379.23 L617.31,379.96 L617.64,380.70 L617.98,381.47 L618.31,382.26 L618.64,383.07 L618.97,383.90 L619.30,384.74 L619.63,385.59 L619.96,386.43 L620.29,387.28 L620.62,388.13 L620.95,388.99 L621.28,389.86 L621.61,390.74 L621.94,391.64 L622.28,392.55 L622.61,393.49 L622.94,394.46 L623.27,395.45 L623.60,396.46 L623.93,397.48 L624.26,398.51 L624.59,399.55 L624.92,400.60 L625.25,401.66 L625.58,402.73 L625.91,403.81 L626.24,404.90 L626.57,406.00 L626.91,407.11 L627.24,408.23 L627.57,409.37 L627.90,410.51 L628.23,411.66 L628.56,412.82 L628.89,413.98 L629.22,415.15 L629.55,416.31 L629.88,417.47 L630.21,418.62 L630.54,419.76 L630.87,420.89 L631.21,422.01 L631.54,423.12 L631.87,424.22 L632.20,425.31 L632.53,426.40 L632.86,427.47 L633.19,428.55 L633.52,429.61 L633.85,430.67 L634.18,431.72 L634.51,432.77 L634.84,433.82 L635.17,434.86 L635.50,435.88 L635.84,436.90 L636.17,437.90 L636.50,438.88 L636.83,439.85 L637.16,440.81 L637.49,441.75 L637.82,442.67 L638.15,443.59 L638.48,444.48 L638.81,445.37 L639.14,446.24 L639.47,447.09 L639.80,447.93 L640.14,448.75 L640.47,449.56 L640.80,450.35 L641.13,451.13 L641.46,451.89 L641.79,452.64 L642.12,453.37 L642.45,454.09 L642.78,454.80 L643.11,455.49 L643.44,456.17 L643.77,456.83 L644.10,457.48 L644.44,458.12 L644.77,458.75 L645.10,459.38 L645.43,459.99 L645.76,460.60 L646.09,461.21 L646.42,461.81 L646.75,462.40 L647.08,462.98 L647.41,463.56 L647.74,464.13 L648.07,464.69 L648.40,465.25 L648.74,465.80 L649.07,466.34 L649.40,466.87 L649.73,467.40 L650.06,467.92 L650.39,468.45 L650.72,468.96 L651.05,469.48 L651.38,469.99 L651.71,470.50 L652.04,471.00 L652.37,471.49 L652.70,471.98 L653.03,472.45 L653.37,472.92 L653.70,473.38 L654.03,473.82 L654.36,474.25 L654.69,474.67 L655.02,475.07 L655.35,475.46 L655.68,475.85 L656.01,476.23 L656.34,476.61 L656.67,476.98 L657.00,477.34 L657.33,477.70 L657.67,478.06 L658.00,478.41 L658.33,478.76 L658.66,479.11 L658.99,479.45 L659.32,479.79 L659.65,480.13 L659.98,480.46 L660.31,480.79 L660.64,481.12 L660.97,481.44 L661.30,481.77 L661.63,482.09 L661.97,482.41 L662.30,482.73 L662.63,483.05 L662.96,483.36 L663.29,483.68 L663.62,483.98 L663.95,484.28 L664.28,484.57 L664.61,484.85 L664.94,485.12 L665.27,485.39 L665.60,485.64 L665.93,485.88 L666.26,486.11 L666.60,486.34 L666.93,486.57 L667.26,486.78 L667.59,486.99 L667.92,487.19 L668.25,487.39 L668.58,487.58 L668.91,487.76 L669.24,487.94 L669.57,488.11 L669.90,488.28 L670.23,488.44 L670.56,488.59 L670.90,488.74 L671.23,488.89 L671.56,489.04 L671.89,489.19 L672.22,489.33 L672.55,489.48 L672.88,489.62 L673.21,489.76 L673.54,489.91 L673.87,490.04 L674.20,490.18 L674.53,490.32 L674.86,490.45 L675.20,490.58 L675.53,490.71 L675.86,490.84 L676.19,490.97 L676.52,491.11 L676.85,491.24 L677.18,491.37 L677.51,491.51 L677.84,491.64 L678.17,491.77 L678.50,491.89 L678.83,492.02 L679.16,492.13 L679.49,492.25 L679.83,492.35 L680.16,492.45 L680.49,492.54 L680.82,492.62 L681.15,492.70 L681.48,492.77 L681.81,492.85 L682.14,492.93 L682.47,493.00 L682.80,493.08 L683.13,493.15 L683.46,493.23 L683.79,493.31 L684.13,493.38 L684.46,493.46 L684.79,493.54 L685.12,493.61 L685.45,493.69 L685.78,493.76 L686.11,493.84 L686.44,493.92 L686.77,493.99 L687.10,494.07 L687.43,494.15 L687.76,494.22 L688.09,494.30 L688.43,494.38 L688.76,494.45 L689.09,494.53 L689.42,494.60 L689.75,494.68 L690.08,494.76 L690.41,494.83 L690.74,494.91 L691.07,494.99 L691.40,495.06 L691.73,495.14 L692.06,495.22 L692.39,495.30 L692.72,495.39 L693.06,495.47 L693.39,495.55 L693.72,495.64 L694.05,495.72 L694.38,495.81 L694.71,495.89 L695.04,495.98 L695.37,496.06 L695.70,496.15 L696.03,496.23 L696.36,496.32 L696.69,496.40 L697.02,496.48 L697.36,496.57 L697.69,496.65 L698.02,496.73 L698.35,496.82 L698.68,496.91 L699.01,496.99 L699.34,497.08 L699.67,497.18 L700.00,497.27 L700.33,497.37 L700.66,497.47 L700.99,497.58 L701.32,497.69 L701.65,497.80 L701.99,497.92 L702.32,498.03 L702.65,498.15 L702.98,498.27 L703.31,498.39 L703.64,498.51 L703.97,498.63 L704.30,498.75 L704.63,498.87 L704.96,498.99 L705.29,499.11 L705.62,499.23 L705.95,499.35 L706.29,499.47 L706.62,499.59 L706.95,499.71 L707.28,499.82 L707.61,499.94 L707.94,500.06 L708.27,500.17 L708.60,500.29 L708.93,500.41 L709.26,500.52 L709.59,500.64 L709.92,500.75 L710.25,500.87 L710.59,500.99 L710.92,501.10 L711.25,501.22 L711.58,501.33 L711.91,501.44 L712.24,501.55 L712.57,501.66 L712.90,501.76 L713.23,501.85 L713.56,501.95 L713.89,502.03 L714.22,502.12 L714.55,502.20 L714.88,502.28 L715.22,502.35 L715.55,502.42 L715.88,502.49 L716.21,502.55 L716.54,502.61 L716.87,502.67 L717.20,502.72 L717.53,502.77 L717.86,502.82 L718.19,502.87 L718.52,502.91 L718.85,502.96 L719.18,503.00 L719.52,503.04 L719.85,503.08 L720.18,503.11 L720.51,503.15 L720.84,503.18 L721.17,503.22 L721.50,503.25 L721.83,503.28 L722.16,503.31 L722.49,503.34 L722.82,503.37 L723.15,503.40 L723.48,503.43 L723.82,503.46 L724.15,503.48 L724.48,503.51 L724.81,503.53 L725.14,503.56 L725.47,503.58 L725.80,503.61 L726.13,503.63 L726.46,503.65 L726.79,503.66 L727.12,503.68 L727.45,503.70 L727.78,503.71 L728.12,503.72 L728.45,503.74 L728.78,503.75 L729.11,503.76 L729.44,503.77 L729.77,503.78 L730.10,503.78 L730.43,503.79 L730.76,503.79 L731.09,503.80 L731.42,503.80 L731.75,503.80 L732.08,503.80 L732.41,503.80 L732.53,503.80 L765.60,503.80 Z" fill="#fff" fill-opacity="0.5" stroke="none"/>
<line x1="589.20" y1="503.80" x2="765.60" y2="503.80" stroke="#5e5e5e" stroke-width="1.3"/>
<path d="M589.20,503.80 L589.20,453.49 L589.53,452.41 L589.86,451.32 L590.19,450.21 L590.52,449.08 L590.85,447.93 L591.18,446.74 L591.52,445.52 L591.85,444.24 L592.18,442.92 L592.51,441.53 L592.84,440.08 L593.17,438.56 L593.50,436.96 L593.83,435.34 L594.16,433.73 L594.49,432.10 L594.82,430.48 L595.15,428.86 L595.48,427.23 L595.82,425.60 L596.15,423.98 L596.48,422.35 L596.81,420.72 L597.14,419.09 L597.47,417.46 L597.80,415.82 L598.13,414.19 L598.46,412.55 L598.79,410.91 L599.12,409.27 L599.45,407.63 L599.78,405.99 L600.11,404.36 L600.45,402.73 L600.78,401.10 L601.11,399.54 L601.44,398.11 L601.77,396.77 L602.10,395.51 L602.43,394.31 L602.76,393.14 L603.09,391.99 L603.42,390.83 L603.75,389.69 L604.08,388.58 L604.41,387.50 L604.75,386.45 L605.08,385.44 L605.41,384.47 L605.74,383.55 L606.07,382.67 L606.40,381.85 L606.73,381.09 L607.06,380.39 L607.39,379.74 L607.72,379.14 L608.05,378.58 L608.38,378.05 L608.71,377.56 L609.05,377.09 L609.38,376.64 L609.71,376.22 L610.04,375.84 L610.37,375.49 L610.70,375.18 L611.03,374.90 L611.36,374.66 L611.69,374.47 L612.02,374.31 L612.35,374.19 L612.68,374.12 L613.01,374.10 L613.34,374.13 L613.68,374.24 L614.01,374.41 L614.34,374.66 L614.67,375.00 L615.00,375.42 L615.33,375.94 L615.66,376.55 L615.99,377.19 L616.32,377.85 L616.65,378.53 L616.98,379.23 L617.31,379.96 L617.64,380.70 L617.98,381.47 L618.31,382.26 L618.64,383.07 L618.97,383.90 L619.30,384.74 L619.63,385.59 L619.96,386.43 L620.29,387.28 L620.62,388.13 L620.95,388.99 L621.28,389.86 L621.61,390.74 L621.94,391.64 L622.28,392.55 L622.61,393.49 L622.94,394.46 L623.27,395.45 L623.60,396.46 L623.93,397.48 L624.26,398.51 L624.59,399.55 L624.92,400.60 L625.25,401.66 L625.58,402.73 L625.91,403.81 L626.24,404.90 L626.57,406.00 L626.91,407.11 L627.24,408.23 L627.57,409.37 L627.90,410.51 L628.23,411.66 L628.56,412.82 L628.89,413.98 L629.22,415.15 L629.55,416.31 L629.88,417.47 L630.21,418.62 L630.54,419.76 L630.87,420.89 L631.21,422.01 L631.54,423.12 L631.87,424.22 L632.20,425.31 L632.53,426.40 L632.86,427.47 L633.19,428.55 L633.52,429.61 L633.85,430.67 L634.18,431.72 L634.51,432.77 L634.84,433.82 L635.17,434.86 L635.50,435.88 L635.84,436.90 L636.17,437.90 L636.50,438.88 L636.83,439.85 L637.16,440.81 L637.49,441.75 L637.82,442.67 L638.15,443.59 L638.48,444.48 L638.81,445.37 L639.14,446.24 L639.47,447.09 L639.80,447.93 L640.14,448.75 L640.47,449.56 L640.80,450.35 L641.13,451.13 L641.46,451.89 L641.79,452.64 L642.12,453.37 L642.45,454.09 L642.78,454.80 L643.11,455.49 L643.44,456.17 L643.77,456.83 L644.10,457.48 L644.44,458.12 L644.77,458.75 L645.10,459.38 L645.43,459.99 L645.76,460.60 L646.09,461.21 L646.42,461.81 L646.75,462.40 L647.08,462.98 L647.41,463.56 L647.74,464.13 L648.07,464.69 L648.40,465.25 L648.74,465.80 L649.07,466.34 L649.40,466.87 L649.73,467.40 L650.06,467.92 L650.39,468.45 L650.72,468.96 L651.05,469.48 L651.38,469.99 L651.71,470.50 L652.04,471.00 L652.37,471.49 L652.70,471.98 L653.03,472.45 L653.37,472.92 L653.70,473.38 L654.03,473.82 L654.36,474.25 L654.69,474.67 L655.02,475.07 L655.35,475.46 L655.68,475.85 L656.01,476.23 L656.34,476.61 L656.67,476.98 L657.00,477.34 L657.33,477.70 L657.67,478.06 L658.00,478.41 L658.33,478.76 L658.66,479.11 L658.99,479.45 L659.32,479.79 L659.65,480.13 L659.98,480.46 L660.31,480.79 L660.64,481.12 L660.97,481.44 L661.30,481.77 L661.63,482.09 L661.97,482.41 L662.30,482.73 L662.63,483.05 L662.96,483.36 L663.29,483.68 L663.62,483.98 L663.95,484.28 L664.28,484.57 L664.61,484.85 L664.94,485.12 L665.27,485.39 L665.60,485.64 L665.93,485.88 L666.26,486.11 L666.60,486.34 L666.93,486.57 L667.26,486.78 L667.59,486.99 L667.92,487.19 L668.25,487.39 L668.58,487.58 L668.91,487.76 L669.24,487.94 L669.57,488.11 L669.90,488.28 L670.23,488.44 L670.56,488.59 L670.90,488.74 L671.23,488.89 L671.56,489.04 L671.89,489.19 L672.22,489.33 L672.55,489.48 L672.88,489.62 L673.21,489.76 L673.54,489.91 L673.87,490.04 L674.20,490.18 L674.53,490.32 L674.86,490.45 L675.20,490.58 L675.53,490.71 L675.86,490.84 L676.19,490.97 L676.52,491.11 L676.85,491.24 L677.18,491.37 L677.51,491.51 L677.84,491.64 L678.17,491.77 L678.50,491.89 L678.83,492.02 L679.16,492.13 L679.49,492.25 L679.83,492.35 L680.16,492.45 L680.49,492.54 L680.82,492.62 L681.15,492.70 L681.48,492.77 L681.81,492.85 L682.14,492.93 L682.47,493.00 L682.80,493.08 L683.13,493.15 L683.46,493.23 L683.79,493.31 L684.13,493.38 L684.46,493.46 L684.79,493.54 L685.12,493.61 L685.45,493.69 L685.78,493.76 L686.11,493.84 L686.44,493.92 L686.77,493.99 L687.10,494.07 L687.43,494.15 L687.76,494.22 L688.09,494.30 L688.43,494.38 L688.76,494.45 L689.09,494.53 L689.42,494.60 L689.75,494.68 L690.08,494.76 L690.41,494.83 L690.74,494.91 L691.07,494.99 L691.40,495.06 L691.73,495.14 L692.06,495.22 L692.39,495.30 L692.72,495.39 L693.06,495.47 L693.39,495.55 L693.72,495.64 L694.05,495.72 L694.38,495.81 L694.71,495.89 L695.04,495.98 L695.37,496.06 L695.70,496.15 L696.03,496.23 L696.36,496.32 L696.69,496.40 L697.02,496.48 L697.36,496.57 L697.69,496.65 L698.02,496.73 L698.35,496.82 L698.68,496.91 L699.01,496.99 L699.34,497.08 L699.67,497.18 L700.00,497.27 L700.33,497.37 L700.66,497.47 L700.99,497.58 L701.32,497.69 L701.65,497.80 L701.99,497.92 L702.32,498.03 L702.65,498.15 L702.98,498.27 L703.31,498.39 L703.64,498.51 L703.97,498.63 L704.30,498.75 L704.63,498.87 L704.96,498.99 L705.29,499.11 L705.62,499.23 L705.95,499.35 L706.29,499.47 L706.62,499.59 L706.95,499.71 L707.28,499.82 L707.61,499.94 L707.94,500.06 L708.27,500.17 L708.60,500.29 L708.93,500.41 L709.26,500.52 L709.59,500.64 L709.92,500.75 L710.25,500.87 L710.59,500.99 L710.92,501.10 L711.25,501.22 L711.58,501.33 L711.91,501.44 L712.24,501.55 L712.57,501.66 L712.90,501.76 L713.23,501.85 L713.56,501.95 L713.89,502.03 L714.22,502.12 L714.55,502.20 L714.88,502.28 L715.22,502.35 L715.55,502.42 L715.88,502.49 L716.21,502.55 L716.54,502.61 L716.87,502.67 L717.20,502.72 L717.53,502.77 L717.86,502.82 L718.19,502.87 L718.52,502.91 L718.85,502.96 L719.18,503.00 L719.52,503.04 L719.85,503.08 L720.18,503.11 L720.51,503.15 L720.84,503.18 L721.17,503.22 L721.50,503.25 L721.83,503.28 L722.16,503.31 L722.49,503.34 L722.82,503.37 L723.15,503.40 L723.48,503.43 L723.82,503.46 L724.15,503.48 L724.48,503.51 L724.81,503.53 L725.14,503.56 L725.47,503.58 L725.80,503.61 L726.13,503.63 L726.46,503.65 L726.79,503.66 L727.12,503.68 L727.45,503.70 L727.78,503.71 L728.12,503.72 L728.45,503.74 L728.78,503.75 L729.11,503.76 L729.44,503.77 L729.77,503.78 L730.10,503.78 L730.43,503.79 L730.76,503.79 L731.09,503.80 L731.42,503.80 L731.75,503.80 L732.08,503.80 L732.41,503.80 L732.53,503.80" fill="none" stroke="#303030" stroke-width="1.1" stroke-linejoin="round"/>
</g>
<rect x="581.40" y="367.50" width="193.10" height="142.90" fill="none" stroke="#ababab" stroke-width="1.15"/>
<line x1="589.20" y1="510.40" x2="589.20" y2="513.20" stroke="#7a7a7a" stroke-width="1"/>
<text x="589.20" y="522.50" font-family="Liberation Sans" font-weight="bold" font-size="9.8" text-anchor="middle" fill="#111"  stroke="#111" stroke-width="0.3">0</text>
<line x1="611.25" y1="510.40" x2="611.25" y2="513.20" stroke="#7a7a7a" stroke-width="1"/>
<text x="611.25" y="522.50" font-family="Liberation Sans" font-weight="bold" font-size="9.8" text-anchor="middle" fill="#111"  stroke="#111" stroke-width="0.3">2</text>
<line x1="633.30" y1="510.40" x2="633.30" y2="513.20" stroke="#7a7a7a" stroke-width="1"/>
<text x="633.30" y="522.50" font-family="Liberation Sans" font-weight="bold" font-size="9.8" text-anchor="middle" fill="#111"  stroke="#111" stroke-width="0.3">4</text>
<line x1="655.35" y1="510.40" x2="655.35" y2="513.20" stroke="#7a7a7a" stroke-width="1"/>
<text x="655.35" y="522.50" font-family="Liberation Sans" font-weight="bold" font-size="9.8" text-anchor="middle" fill="#111"  stroke="#111" stroke-width="0.3">6</text>
<line x1="677.40" y1="510.40" x2="677.40" y2="513.20" stroke="#7a7a7a" stroke-width="1"/>
<text x="677.40" y="522.50" font-family="Liberation Sans" font-weight="bold" font-size="9.8" text-anchor="middle" fill="#111"  stroke="#111" stroke-width="0.3">8</text>
<line x1="699.45" y1="510.40" x2="699.45" y2="513.20" stroke="#7a7a7a" stroke-width="1"/>
<text x="699.45" y="522.50" font-family="Liberation Sans" font-weight="bold" font-size="9.8" text-anchor="middle" fill="#111"  stroke="#111" stroke-width="0.3">10</text>
<line x1="721.50" y1="510.40" x2="721.50" y2="513.20" stroke="#7a7a7a" stroke-width="1"/>
<text x="721.50" y="522.50" font-family="Liberation Sans" font-weight="bold" font-size="9.8" text-anchor="middle" fill="#111"  stroke="#111" stroke-width="0.3">12</text>
<line x1="743.55" y1="510.40" x2="743.55" y2="513.20" stroke="#7a7a7a" stroke-width="1"/>
<text x="743.55" y="522.50" font-family="Liberation Sans" font-weight="bold" font-size="9.8" text-anchor="middle" fill="#111"  stroke="#111" stroke-width="0.3">14</text>
<line x1="765.60" y1="510.40" x2="765.60" y2="513.20" stroke="#7a7a7a" stroke-width="1"/>
<text x="765.60" y="522.50" font-family="Liberation Sans" font-weight="bold" font-size="9.8" text-anchor="middle" fill="#111"  stroke="#111" stroke-width="0.3">16</text>
<line x1="578.60" y1="503.80" x2="581.40" y2="503.80" stroke="#7a7a7a" stroke-width="1"/>
<text x="576.80" y="507.55" font-family="Liberation Sans" font-weight="bold" font-size="9.8" text-anchor="end" fill="#111"  stroke="#111" stroke-width="0.3">0.00</text>
<line x1="578.60" y1="471.30" x2="581.40" y2="471.30" stroke="#7a7a7a" stroke-width="1"/>
<text x="576.80" y="475.05" font-family="Liberation Sans" font-weight="bold" font-size="9.8" text-anchor="end" fill="#111"  stroke="#111" stroke-width="0.3">0.25</text>
<line x1="578.60" y1="438.80" x2="581.40" y2="438.80" stroke="#7a7a7a" stroke-width="1"/>
<text x="576.80" y="442.55" font-family="Liberation Sans" font-weight="bold" font-size="9.8" text-anchor="end" fill="#111"  stroke="#111" stroke-width="0.3">0.50</text>
<line x1="578.60" y1="406.30" x2="581.40" y2="406.30" stroke="#7a7a7a" stroke-width="1"/>
<text x="576.80" y="410.05" font-family="Liberation Sans" font-weight="bold" font-size="9.8" text-anchor="end" fill="#111"  stroke="#111" stroke-width="0.3">0.75</text>
<line x1="578.60" y1="373.80" x2="581.40" y2="373.80" stroke="#7a7a7a" stroke-width="1"/>
<text x="576.80" y="377.55" font-family="Liberation Sans" font-weight="bold" font-size="9.8" text-anchor="end" fill="#111"  stroke="#111" stroke-width="0.3">1.00</text>
<text x="659.35" y="534.60" font-family="Liberation Serif" font-style="italic" font-size="10.5" fill="#333">χ</text>
<text x="667.65" y="534.60" font-family="Liberation Sans" font-weight="normal" font-size="9.6" text-anchor="start" fill="#333" >(SAXS)</text>
<g transform="translate(548.80,478.00) rotate(-90) scale(0.9227,1)" font-family="Liberation Sans" font-weight="normal" fill="#262626" stroke="#262626" stroke-width="0.2">
<text x="0" y="0" font-size="10.3">Density ( E</text>
<text x="50.37" y="1.2" font-size="6.9">SAXS,Pr</text>
<text x="77.59" y="0" font-size="10.3"> )</text>
</g>
<clipPath id="cD1"><rect x="63.7" y="548.6" width="199.3" height="147.39999999999998"/></clipPath>
<g clip-path="url(#cD1)">
<line x1="64.03" y1="696.00" x2="270.38" y2="543.23" stroke="#000" stroke-width="1.6" stroke-dasharray="5.8 7.2" stroke-dashoffset="0"/>
<circle cx="110.6" cy="629.2" r="4.05"/>
<circle cx="103.5" cy="633.7" r="4.05"/>
<circle cx="106.0" cy="646.9" r="4.05"/>
<circle cx="136.2" cy="656.2" r="4.05"/>
<circle cx="104.2" cy="660.4" r="4.05"/>
<circle cx="111.9" cy="668.8" r="4.05"/>
<circle cx="150.0" cy="668.1" r="4.05"/>
<circle cx="126.2" cy="672.2" r="4.05"/>
<circle cx="127.4" cy="677.9" r="4.05"/>
<circle cx="135.2" cy="677.7" r="4.05"/>
<circle cx="117.8" cy="676.9" r="4.05"/>
<circle cx="159.6" cy="682.7" r="4.05"/>
<circle cx="203.8" cy="678.8" r="4.05"/>
<circle cx="79.6" cy="667.3" r="4.05"/>
<circle cx="81.5" cy="671.9" r="4.05"/>
<circle cx="80.8" cy="681.2" r="4.05"/>
<circle cx="85.4" cy="684.2" r="4.05"/>
<circle cx="91.5" cy="685.8" r="4.05"/>
<circle cx="94.6" cy="686.5" r="4.05"/>
<circle cx="100.8" cy="683.5" r="4.05"/>
<circle cx="106.2" cy="681.9" r="4.05"/>
<circle cx="109.2" cy="678.1" r="4.05"/>
<circle cx="93.1" cy="668.1" r="4.05"/>
<circle cx="97.7" cy="665.8" r="4.05"/>
<circle cx="102.3" cy="666.5" r="4.05"/>
<circle cx="93.1" cy="674.2" r="4.05"/>
<circle cx="99.2" cy="672.7" r="4.05"/>
<circle cx="104.6" cy="673.5" r="4.05"/>
<circle cx="90.0" cy="678.8" r="4.05"/>
<circle cx="96.9" cy="679.6" r="4.05"/>
<circle cx="103.1" cy="678.1" r="4.05"/>
<circle cx="85.4" cy="679.6" r="4.05"/>
<circle cx="90.0" cy="670.4" r="4.05"/>
<circle cx="86.0" cy="675.0" r="4.05"/>
<circle cx="131.0" cy="677.7" r="4.05"/>
</g>
<rect x="63.70" y="548.60" width="199.30" height="147.40" fill="none" stroke="#ababab" stroke-width="1.15"/>
<line x1="72.40" y1="696.00" x2="72.40" y2="698.80" stroke="#7a7a7a" stroke-width="1"/>
<text x="72.40" y="708.20" font-family="Liberation Sans" font-weight="bold" font-size="9.8" text-anchor="middle" fill="#111"  stroke="#111" stroke-width="0.3">0</text>
<line x1="108.68" y1="696.00" x2="108.68" y2="698.80" stroke="#7a7a7a" stroke-width="1"/>
<text x="108.68" y="708.20" font-family="Liberation Sans" font-weight="bold" font-size="9.8" text-anchor="middle" fill="#111"  stroke="#111" stroke-width="0.3">5</text>
<line x1="144.96" y1="696.00" x2="144.96" y2="698.80" stroke="#7a7a7a" stroke-width="1"/>
<text x="144.96" y="708.20" font-family="Liberation Sans" font-weight="bold" font-size="9.8" text-anchor="middle" fill="#111"  stroke="#111" stroke-width="0.3">10</text>
<line x1="181.24" y1="696.00" x2="181.24" y2="698.80" stroke="#7a7a7a" stroke-width="1"/>
<text x="181.24" y="708.20" font-family="Liberation Sans" font-weight="bold" font-size="9.8" text-anchor="middle" fill="#111"  stroke="#111" stroke-width="0.3">15</text>
<line x1="217.52" y1="696.00" x2="217.52" y2="698.80" stroke="#7a7a7a" stroke-width="1"/>
<text x="217.52" y="708.20" font-family="Liberation Sans" font-weight="bold" font-size="9.8" text-anchor="middle" fill="#111"  stroke="#111" stroke-width="0.3">20</text>
<line x1="253.80" y1="696.00" x2="253.80" y2="698.80" stroke="#7a7a7a" stroke-width="1"/>
<text x="253.80" y="708.20" font-family="Liberation Sans" font-weight="bold" font-size="9.8" text-anchor="middle" fill="#111"  stroke="#111" stroke-width="0.3">25</text>
<line x1="60.90" y1="689.80" x2="63.70" y2="689.80" stroke="#7a7a7a" stroke-width="1"/>
<text x="59.10" y="693.55" font-family="Liberation Sans" font-weight="bold" font-size="9.8" text-anchor="end" fill="#111"  stroke="#111" stroke-width="0.3">0</text>
<line x1="60.90" y1="662.94" x2="63.70" y2="662.94" stroke="#7a7a7a" stroke-width="1"/>
<text x="59.10" y="666.69" font-family="Liberation Sans" font-weight="bold" font-size="9.8" text-anchor="end" fill="#111"  stroke="#111" stroke-width="0.3">5</text>
<line x1="60.90" y1="636.08" x2="63.70" y2="636.08" stroke="#7a7a7a" stroke-width="1"/>
<text x="59.10" y="639.83" font-family="Liberation Sans" font-weight="bold" font-size="9.8" text-anchor="end" fill="#111"  stroke="#111" stroke-width="0.3">10</text>
<line x1="60.90" y1="609.22" x2="63.70" y2="609.22" stroke="#7a7a7a" stroke-width="1"/>
<text x="59.10" y="612.97" font-family="Liberation Sans" font-weight="bold" font-size="9.8" text-anchor="end" fill="#111"  stroke="#111" stroke-width="0.3">15</text>
<line x1="60.90" y1="582.36" x2="63.70" y2="582.36" stroke="#7a7a7a" stroke-width="1"/>
<text x="59.10" y="586.11" font-family="Liberation Sans" font-weight="bold" font-size="9.8" text-anchor="end" fill="#111"  stroke="#111" stroke-width="0.3">20</text>
<line x1="60.90" y1="555.50" x2="63.70" y2="555.50" stroke="#7a7a7a" stroke-width="1"/>
<text x="59.10" y="559.25" font-family="Liberation Sans" font-weight="bold" font-size="9.8" text-anchor="end" fill="#111"  stroke="#111" stroke-width="0.3">25</text>
<text x="163.35" y="720.20" font-family="Liberation Sans" font-weight="bold" font-size="9.25" text-anchor="middle" fill="#1a1a1a"  stroke="#1a1a1a" stroke-width="0.25">RMSD of Ab initio (without SAXS)</text>
<g transform="translate(38.90,682.00) rotate(-90) scale(0.8988,1)" font-family="Liberation Sans" font-weight="normal" fill="#262626" stroke="#262626" stroke-width="0.2">
<text x="0" y="0" font-size="10.3">RMSD of  SAXSDom ( E</text>
<text x="112.75" y="1.2" font-size="6.9">SAXS,Rg</text>
<text x="141.90" y="0" font-size="10.3"> )</text>
</g>
<text x="69.70" y="567.50" font-family="Liberation Serif" font-weight="bold" font-size="16.35" text-anchor="start" fill="#000" >Improved: 32/46</text>
<clipPath id="cD2"><rect x="321.6" y="548.6" width="196.5" height="147.39999999999998"/></clipPath>
<g clip-path="url(#cD2)">
<line x1="322.05" y1="696.00" x2="875.58" y2="280.00" stroke="#000" stroke-width="1.6" stroke-dasharray="5.8 7.2" stroke-dashoffset="0"/>
<circle cx="345.0" cy="562.5" r="4.05"/>
<circle cx="356.5" cy="594.9" r="4.05"/>
<circle cx="401.8" cy="572.1" r="4.05"/>
<circle cx="420.2" cy="571.8" r="4.05"/>
<circle cx="425.0" cy="569.3" r="4.05"/>
<circle cx="425.9" cy="583.0" r="4.05"/>
<circle cx="430.4" cy="579.8" r="4.05"/>
<circle cx="434.0" cy="588.1" r="4.05"/>
<circle cx="394.4" cy="592.0" r="4.05"/>
<circle cx="403.5" cy="595.2" r="4.05"/>
<circle cx="391.5" cy="610.0" r="4.05"/>
<circle cx="418.8" cy="606.5" r="4.05"/>
<circle cx="425.4" cy="612.0" r="4.05"/>
<circle cx="410.3" cy="623.8" r="4.05"/>
<circle cx="398.1" cy="636.0" r="4.05"/>
<circle cx="405.4" cy="635.3" r="4.05"/>
<circle cx="362.3" cy="639.0" r="4.05"/>
<circle cx="412.0" cy="642.6" r="4.05"/>
<circle cx="428.7" cy="637.6" r="4.05"/>
<circle cx="425.8" cy="659.2" r="4.05"/>
<circle cx="351.1" cy="660.8" r="4.05"/>
<circle cx="344.9" cy="675.8" r="4.05"/>
<circle cx="449.4" cy="558.6" r="4.05"/>
<circle cx="447.7" cy="561.8" r="4.05"/>
<circle cx="449.6" cy="568.0" r="4.05"/>
<circle cx="442.2" cy="571.4" r="4.05"/>
<circle cx="451.9" cy="574.0" r="4.05"/>
<circle cx="459.2" cy="577.8" r="4.05"/>
<circle cx="468.8" cy="573.4" r="4.05"/>
<circle cx="476.3" cy="563.1" r="4.05"/>
<circle cx="475.3" cy="565.7" r="4.05"/>
<circle cx="491.7" cy="565.4" r="4.05"/>
<circle cx="495.5" cy="563.1" r="4.05"/>
<circle cx="502.2" cy="564.6" r="4.05"/>
<circle cx="496.4" cy="572.1" r="4.05"/>
<circle cx="488.7" cy="578.7" r="4.05"/>
<circle cx="476.5" cy="583.6" r="4.05"/>
<circle cx="462.2" cy="591.6" r="4.05"/>
<circle cx="453.5" cy="592.6" r="4.05"/>
<circle cx="453.7" cy="595.2" r="4.05"/>
<circle cx="446.4" cy="596.7" r="4.05"/>
<circle cx="437.2" cy="618.9" r="4.05"/>
<circle cx="452.2" cy="623.6" r="4.05"/>
<circle cx="475.9" cy="624.0" r="4.05"/>
<circle cx="495.5" cy="607.3" r="4.05"/>
<circle cx="502.4" cy="613.7" r="4.05"/>
</g>
<rect x="321.60" y="548.60" width="196.50" height="147.40" fill="none" stroke="#ababab" stroke-width="1.15"/>
<line x1="330.30" y1="696.00" x2="330.30" y2="698.80" stroke="#7a7a7a" stroke-width="1"/>
<text x="330.30" y="708.20" font-family="Liberation Sans" font-weight="bold" font-size="9.8" text-anchor="middle" fill="#111"  stroke="#111" stroke-width="0.3">0.5</text>
<line x1="366.04" y1="696.00" x2="366.04" y2="698.80" stroke="#7a7a7a" stroke-width="1"/>
<text x="366.04" y="708.20" font-family="Liberation Sans" font-weight="bold" font-size="9.8" text-anchor="middle" fill="#111"  stroke="#111" stroke-width="0.3">0.6</text>
<line x1="401.78" y1="696.00" x2="401.78" y2="698.80" stroke="#7a7a7a" stroke-width="1"/>
<text x="401.78" y="708.20" font-family="Liberation Sans" font-weight="bold" font-size="9.8" text-anchor="middle" fill="#111"  stroke="#111" stroke-width="0.3">0.7</text>
<line x1="437.52" y1="696.00" x2="437.52" y2="698.80" stroke="#7a7a7a" stroke-width="1"/>
<text x="437.52" y="708.20" font-family="Liberation Sans" font-weight="bold" font-size="9.8" text-anchor="middle" fill="#111"  stroke="#111" stroke-width="0.3">0.8</text>
<line x1="473.26" y1="696.00" x2="473.26" y2="698.80" stroke="#7a7a7a" stroke-width="1"/>
<text x="473.26" y="708.20" font-family="Liberation Sans" font-weight="bold" font-size="9.8" text-anchor="middle" fill="#111"  stroke="#111" stroke-width="0.3">0.9</text>
<line x1="509.00" y1="696.00" x2="509.00" y2="698.80" stroke="#7a7a7a" stroke-width="1"/>
<text x="509.00" y="708.20" font-family="Liberation Sans" font-weight="bold" font-size="9.8" text-anchor="middle" fill="#111"  stroke="#111" stroke-width="0.3">1</text>
<line x1="318.80" y1="689.80" x2="321.60" y2="689.80" stroke="#7a7a7a" stroke-width="1"/>
<text x="317.00" y="693.55" font-family="Liberation Sans" font-weight="bold" font-size="9.8" text-anchor="end" fill="#111"  stroke="#111" stroke-width="0.3">0.5</text>
<line x1="318.80" y1="662.94" x2="321.60" y2="662.94" stroke="#7a7a7a" stroke-width="1"/>
<text x="317.00" y="666.69" font-family="Liberation Sans" font-weight="bold" font-size="9.8" text-anchor="end" fill="#111"  stroke="#111" stroke-width="0.3">0.6</text>
<line x1="318.80" y1="636.08" x2="321.60" y2="636.08" stroke="#7a7a7a" stroke-width="1"/>
<text x="317.00" y="639.83" font-family="Liberation Sans" font-weight="bold" font-size="9.8" text-anchor="end" fill="#111"  stroke="#111" stroke-width="0.3">0.7</text>
<line x1="318.80" y1="609.22" x2="321.60" y2="609.22" stroke="#7a7a7a" stroke-width="1"/>
<text x="317.00" y="612.97" font-family="Liberation Sans" font-weight="bold" font-size="9.8" text-anchor="end" fill="#111"  stroke="#111" stroke-width="0.3">0.8</text>
<line x1="318.80" y1="582.36" x2="321.60" y2="582.36" stroke="#7a7a7a" stroke-width="1"/>
<text x="317.00" y="586.11" font-family="Liberation Sans" font-weight="bold" font-size="9.8" text-anchor="end" fill="#111"  stroke="#111" stroke-width="0.3">0.9</text>
<line x1="318.80" y1="555.50" x2="321.60" y2="555.50" stroke="#7a7a7a" stroke-width="1"/>
<text x="317.00" y="559.25" font-family="Liberation Sans" font-weight="bold" font-size="9.8" text-anchor="end" fill="#111"  stroke="#111" stroke-width="0.3">1</text>
<text x="419.85" y="720.20" font-family="Liberation Sans" font-weight="bold" font-size="9.25" text-anchor="middle" fill="#1a1a1a"  stroke="#1a1a1a" stroke-width="0.25">TMscore of Ab initio (without SAXS)</text>
<g transform="translate(294.60,689.30) rotate(-90) scale(0.9201,1)" font-family="Liberation Sans" font-weight="normal" fill="#262626" stroke="#262626" stroke-width="0.2">
<text x="0" y="0" font-size="10.3">TMscore of  SAXSDom ( E</text>
<text x="122.48" y="1.2" font-size="6.9">SAXS,Rg</text>
<text x="151.63" y="0" font-size="10.3"> )</text>
</g>
<text x="399.40" y="690.00" font-family="Liberation Serif" font-weight="bold" font-size="16.35" text-anchor="start" fill="#000" >Improved: 32/46</text>
<clipPath id="cD3"><rect x="581.9" y="548.8" width="191.0" height="142.5"/></clipPath>
<g clip-path="url(#cD3)">
<path d="M590.00,685.40 L590.00,685.40 L590.33,679.77 L590.65,675.32 L590.98,672.35 L591.31,670.07 L591.63,668.09 L591.96,666.08 L592.29,663.68 L592.61,660.61 L592.94,657.28 L593.27,653.89 L593.59,650.52 L593.92,647.19 L594.25,643.98 L594.57,640.86 L594.90,637.78 L595.23,634.70 L595.55,631.58 L595.88,628.37 L596.21,625.00 L596.53,621.34 L596.86,617.37 L597.19,613.33 L597.51,609.35 L597.84,605.40 L598.17,601.46 L598.49,597.49 L598.82,593.50 L599.15,589.50 L599.47,585.52 L599.80,581.63 L600.13,577.80 L600.45,573.95 L600.78,569.25 L601.11,563.81 L601.43,558.95 L601.76,556.01 L602.09,555.33 L602.41,555.59 L602.74,555.81 L603.07,556.45 L603.39,558.28 L603.72,560.93 L604.04,562.38 L604.37,563.30 L604.70,564.89 L605.02,568.21 L605.35,572.17 L605.68,576.20 L606.00,580.24 L606.33,584.30 L606.66,588.36 L606.98,592.40 L607.31,596.41 L607.64,600.34 L607.96,604.10 L608.29,607.61 L608.62,610.87 L608.94,614.10 L609.27,617.32 L609.60,620.53 L609.92,623.75 L610.25,626.96 L610.58,630.17 L610.90,633.38 L611.23,636.58 L611.56,639.58 L611.88,642.29 L612.21,644.82 L612.54,647.27 L612.86,649.77 L613.19,652.43 L613.52,655.35 L613.84,658.49 L614.17,661.71 L614.50,664.86 L614.82,667.80 L615.15,670.49 L615.48,672.89 L615.80,674.98 L616.13,676.67 L616.46,677.84 L616.78,678.43 L617.11,678.37 L617.44,677.97 L617.76,677.56 L618.09,677.14 L618.42,676.72 L618.74,676.31 L619.07,675.90 L619.40,675.49 L619.72,675.03 L620.05,674.54 L620.38,674.04 L620.70,673.54 L621.03,673.07 L621.36,672.64 L621.68,672.27 L622.01,671.98 L622.34,671.79 L622.66,671.72 L622.99,671.81 L623.32,672.04 L623.64,672.38 L623.97,672.82 L624.30,673.33 L624.62,673.87 L624.95,674.43 L625.28,674.97 L625.60,675.47 L625.93,675.91 L626.26,676.36 L626.58,676.85 L626.91,677.35 L627.24,677.87 L627.56,678.39 L627.89,678.91 L628.22,679.40 L628.54,679.86 L628.87,680.27 L629.20,680.64 L629.52,680.94 L629.85,681.17 L630.17,681.30 L630.50,681.28 L630.83,681.13 L631.15,680.87 L631.48,680.53 L631.81,680.13 L632.13,679.71 L632.46,679.29 L632.79,678.90 L633.11,678.56 L633.44,678.28 L633.77,678.01 L634.09,677.73 L634.42,677.44 L634.75,677.15 L635.07,676.89 L635.40,676.66 L635.73,676.47 L636.05,676.34 L636.38,676.28 L636.71,676.34 L637.03,676.52 L637.36,676.80 L637.69,677.15 L638.01,677.56 L638.34,678.00 L638.67,678.45 L638.99,678.88 L639.32,679.28 L639.65,679.69 L639.97,680.13 L640.30,680.59 L640.63,681.05 L640.95,681.50 L641.28,681.95 L641.61,682.37 L641.93,682.76 L642.26,683.11 L642.59,683.41 L642.91,683.67 L643.24,683.88 L643.57,684.07 L643.89,684.22 L644.22,684.36 L644.55,684.48 L644.87,684.58 L645.20,684.69 L645.53,684.79 L645.85,684.88 L646.18,684.98 L646.51,685.06 L646.83,685.14 L647.16,685.22 L647.49,685.28 L647.81,685.34 L648.14,685.38 L648.36,685.40 L764.20,685.40 Z" fill="#7f7f7f" stroke="#333" stroke-width="1.1" stroke-linejoin="round"/>
<path d="M590.00,685.40 L590.00,635.01 L590.33,633.93 L590.65,632.84 L590.98,631.73 L591.31,630.60 L591.63,629.45 L591.96,628.26 L592.29,627.03 L592.61,625.75 L592.94,624.42 L593.27,623.04 L593.59,621.58 L593.92,620.06 L594.25,618.46 L594.57,616.84 L594.90,615.22 L595.23,613.59 L595.55,611.97 L595.88,610.34 L596.21,608.71 L596.53,607.08 L596.86,605.45 L597.19,603.82 L597.51,602.19 L597.84,600.56 L598.17,598.92 L598.49,597.29 L598.82,595.65 L599.15,594.01 L599.47,592.36 L599.80,590.72 L600.13,589.08 L600.45,587.44 L600.78,585.80 L601.11,584.17 L601.43,582.54 L601.76,580.98 L602.09,579.55 L602.41,578.21 L602.74,576.95 L603.07,575.74 L603.39,574.57 L603.72,573.42 L604.04,572.26 L604.37,571.12 L604.70,570.00 L605.02,568.92 L605.35,567.87 L605.68,566.86 L606.00,565.89 L606.33,564.96 L606.66,564.09 L606.98,563.26 L607.31,562.50 L607.64,561.80 L607.96,561.15 L608.29,560.55 L608.62,559.99 L608.94,559.46 L609.27,558.97 L609.60,558.50 L609.92,558.05 L610.25,557.63 L610.58,557.24 L610.90,556.89 L611.23,556.58 L611.56,556.30 L611.88,556.06 L612.21,555.87 L612.54,555.71 L612.86,555.59 L613.19,555.52 L613.52,555.50 L613.84,555.53 L614.17,555.64 L614.50,555.81 L614.82,556.06 L615.15,556.40 L615.48,556.82 L615.80,557.35 L616.13,557.95 L616.46,558.59 L616.78,559.25 L617.11,559.93 L617.44,560.64 L617.76,561.37 L618.09,562.11 L618.42,562.88 L618.74,563.67 L619.07,564.48 L619.40,565.31 L619.72,566.16 L620.05,567.01 L620.38,567.85 L620.70,568.70 L621.03,569.55 L621.36,570.41 L621.68,571.28 L622.01,572.16 L622.34,573.06 L622.66,573.98 L622.99,574.92 L623.32,575.89 L623.64,576.89 L623.97,577.90 L624.30,578.92 L624.62,579.95 L624.95,580.99 L625.28,582.04 L625.60,583.10 L625.93,584.18 L626.26,585.26 L626.58,586.35 L626.91,587.45 L627.24,588.57 L627.56,589.69 L627.89,590.82 L628.22,591.97 L628.54,593.12 L628.87,594.28 L629.20,595.44 L629.52,596.61 L629.85,597.77 L630.17,598.93 L630.50,600.09 L630.83,601.23 L631.15,602.36 L631.48,603.49 L631.81,604.60 L632.13,605.70 L632.46,606.79 L632.79,607.88 L633.11,608.96 L633.44,610.03 L633.77,611.10 L634.09,612.16 L634.42,613.21 L634.75,614.26 L635.07,615.31 L635.40,616.35 L635.73,617.38 L636.05,618.39 L636.38,619.40 L636.71,620.38 L637.03,621.35 L637.36,622.31 L637.69,623.25 L638.01,624.18 L638.34,625.09 L638.67,625.99 L638.99,626.88 L639.32,627.75 L639.65,628.61 L639.97,629.44 L640.30,630.27 L640.63,631.08 L640.95,631.87 L641.28,632.65 L641.61,633.41 L641.93,634.16 L642.26,634.90 L642.59,635.62 L642.91,636.32 L643.24,637.02 L643.57,637.69 L643.89,638.36 L644.22,639.01 L644.55,639.65 L644.87,640.28 L645.20,640.91 L645.53,641.53 L645.85,642.14 L646.18,642.74 L646.51,643.34 L646.83,643.93 L647.16,644.52 L647.49,645.10 L647.81,645.67 L648.14,646.23 L648.47,646.79 L648.79,647.34 L649.12,647.88 L649.45,648.42 L649.77,648.94 L650.10,649.47 L650.43,649.99 L650.75,650.51 L651.08,651.03 L651.41,651.54 L651.73,652.05 L652.06,652.55 L652.39,653.04 L652.71,653.53 L653.04,654.01 L653.37,654.47 L653.69,654.93 L654.02,655.37 L654.35,655.80 L654.67,656.22 L655.00,656.63 L655.33,657.02 L655.65,657.41 L655.98,657.79 L656.30,658.16 L656.63,658.54 L656.96,658.90 L657.28,659.26 L657.61,659.62 L657.94,659.98 L658.26,660.33 L658.59,660.67 L658.92,661.01 L659.24,661.35 L659.57,661.69 L659.90,662.02 L660.22,662.35 L660.55,662.68 L660.88,663.01 L661.20,663.33 L661.53,663.66 L661.86,663.98 L662.18,664.30 L662.51,664.62 L662.84,664.93 L663.16,665.24 L663.49,665.55 L663.82,665.85 L664.14,666.14 L664.47,666.42 L664.80,666.70 L665.12,666.96 L665.45,667.21 L665.78,667.45 L666.10,667.69 L666.43,667.92 L666.76,668.14 L667.08,668.35 L667.41,668.56 L667.74,668.77 L668.06,668.96 L668.39,669.15 L668.72,669.34 L669.04,669.51 L669.37,669.69 L669.70,669.85 L670.02,670.01 L670.35,670.17 L670.68,670.32 L671.00,670.47 L671.33,670.62 L671.66,670.77 L671.98,670.91 L672.31,671.06 L672.64,671.20 L672.96,671.34 L673.29,671.48 L673.62,671.62 L673.94,671.76 L674.27,671.90 L674.60,672.03 L674.92,672.16 L675.25,672.29 L675.58,672.42 L675.90,672.55 L676.23,672.69 L676.56,672.82 L676.88,672.95 L677.21,673.09 L677.54,673.22 L677.86,673.35 L678.19,673.47 L678.52,673.60 L678.84,673.72 L679.17,673.83 L679.50,673.93 L679.82,674.03 L680.15,674.12 L680.48,674.20 L680.80,674.28 L681.13,674.36 L681.46,674.43 L681.78,674.51 L682.11,674.58 L682.43,674.66 L682.76,674.74 L683.09,674.81 L683.41,674.89 L683.74,674.97 L684.07,675.04 L684.39,675.12 L684.72,675.20 L685.05,675.27 L685.37,675.35 L685.70,675.43 L686.03,675.50 L686.35,675.58 L686.68,675.65 L687.01,675.73 L687.33,675.81 L687.66,675.88 L687.99,675.96 L688.31,676.04 L688.64,676.11 L688.97,676.19 L689.29,676.27 L689.62,676.34 L689.95,676.42 L690.27,676.50 L690.60,676.57 L690.93,676.65 L691.25,676.73 L691.58,676.81 L691.91,676.89 L692.23,676.97 L692.56,677.06 L692.89,677.14 L693.21,677.22 L693.54,677.31 L693.87,677.39 L694.19,677.48 L694.52,677.56 L694.85,677.65 L695.17,677.74 L695.50,677.82 L695.83,677.90 L696.15,677.99 L696.48,678.07 L696.81,678.16 L697.13,678.24 L697.46,678.32 L697.79,678.41 L698.11,678.50 L698.44,678.58 L698.77,678.67 L699.09,678.77 L699.42,678.86 L699.75,678.96 L700.07,679.06 L700.40,679.17 L700.73,679.28 L701.05,679.39 L701.38,679.51 L701.71,679.63 L702.03,679.74 L702.36,679.86 L702.69,679.98 L703.01,680.10 L703.34,680.22 L703.67,680.34 L703.99,680.46 L704.32,680.59 L704.65,680.71 L704.97,680.83 L705.30,680.95 L705.63,681.06 L705.95,681.18 L706.28,681.30 L706.61,681.42 L706.93,681.53 L707.26,681.65 L707.59,681.77 L707.91,681.88 L708.24,682.00 L708.56,682.12 L708.89,682.23 L709.22,682.35 L709.54,682.47 L709.87,682.58 L710.20,682.70 L710.52,682.81 L710.85,682.93 L711.18,683.04 L711.50,683.15 L711.83,683.25 L712.16,683.35 L712.48,683.45 L712.81,683.54 L713.14,683.63 L713.46,683.72 L713.79,683.80 L714.12,683.88 L714.44,683.95 L714.77,684.02 L715.10,684.09 L715.42,684.15 L715.75,684.21 L716.08,684.27 L716.40,684.32 L716.73,684.37 L717.06,684.42 L717.38,684.47 L717.71,684.51 L718.04,684.56 L718.36,684.60 L718.69,684.64 L719.02,684.68 L719.34,684.71 L719.67,684.75 L720.00,684.78 L720.32,684.82 L720.65,684.85 L720.98,684.88 L721.30,684.91 L721.63,684.94 L721.96,684.97 L722.28,685.00 L722.61,685.03 L722.94,685.05 L723.26,685.08 L723.59,685.11 L723.92,685.13 L724.24,685.16 L724.57,685.18 L724.90,685.20 L725.22,685.23 L725.55,685.25 L725.88,685.26 L726.20,685.28 L726.53,685.30 L726.86,685.31 L727.18,685.32 L727.51,685.34 L727.84,685.35 L728.16,685.36 L728.49,685.37 L728.82,685.37 L729.14,685.38 L729.47,685.39 L729.80,685.39 L730.12,685.40 L730.45,685.40 L730.78,685.40 L731.10,685.40 L731.43,685.40 L731.54,685.40 L764.20,685.40 Z" fill="#fff" fill-opacity="0.5" stroke="none"/>
<line x1="590.00" y1="685.40" x2="764.20" y2="685.40" stroke="#5e5e5e" stroke-width="1.3"/>
<path d="M590.00,685.40 L590.00,635.01 L590.33,633.93 L590.65,632.84 L590.98,631.73 L591.31,630.60 L591.63,629.45 L591.96,628.26 L592.29,627.03 L592.61,625.75 L592.94,624.42 L593.27,623.04 L593.59,621.58 L593.92,620.06 L594.25,618.46 L594.57,616.84 L594.90,615.22 L595.23,613.59 L595.55,611.97 L595.88,610.34 L596.21,608.71 L596.53,607.08 L596.86,605.45 L597.19,603.82 L597.51,602.19 L597.84,600.56 L598.17,598.92 L598.49,597.29 L598.82,595.65 L599.15,594.01 L599.47,592.36 L599.80,590.72 L600.13,589.08 L600.45,587.44 L600.78,585.80 L601.11,584.17 L601.43,582.54 L601.76,580.98 L602.09,579.55 L602.41,578.21 L602.74,576.95 L603.07,575.74 L603.39,574.57 L603.72,573.42 L604.04,572.26 L604.37,571.12 L604.70,570.00 L605.02,568.92 L605.35,567.87 L605.68,566.86 L606.00,565.89 L606.33,564.96 L606.66,564.09 L606.98,563.26 L607.31,562.50 L607.64,561.80 L607.96,561.15 L608.29,560.55 L608.62,559.99 L608.94,559.46 L609.27,558.97 L609.60,558.50 L609.92,558.05 L610.25,557.63 L610.58,557.24 L610.90,556.89 L611.23,556.58 L611.56,556.30 L611.88,556.06 L612.21,555.87 L612.54,555.71 L612.86,555.59 L613.19,555.52 L613.52,555.50 L613.84,555.53 L614.17,555.64 L614.50,555.81 L614.82,556.06 L615.15,556.40 L615.48,556.82 L615.80,557.35 L616.13,557.95 L616.46,558.59 L616.78,559.25 L617.11,559.93 L617.44,560.64 L617.76,561.37 L618.09,562.11 L618.42,562.88 L618.74,563.67 L619.07,564.48 L619.40,565.31 L619.72,566.16 L620.05,567.01 L620.38,567.85 L620.70,568.70 L621.03,569.55 L621.36,570.41 L621.68,571.28 L622.01,572.16 L622.34,573.06 L622.66,573.98 L622.99,574.92 L623.32,575.89 L623.64,576.89 L623.97,577.90 L624.30,578.92 L624.62,579.95 L624.95,580.99 L625.28,582.04 L625.60,583.10 L625.93,584.18 L626.26,585.26 L626.58,586.35 L626.91,587.45 L627.24,588.57 L627.56,589.69 L627.89,590.82 L628.22,591.97 L628.54,593.12 L628.87,594.28 L629.20,595.44 L629.52,596.61 L629.85,597.77 L630.17,598.93 L630.50,600.09 L630.83,601.23 L631.15,602.36 L631.48,603.49 L631.81,604.60 L632.13,605.70 L632.46,606.79 L632.79,607.88 L633.11,608.96 L633.44,610.03 L633.77,611.10 L634.09,612.16 L634.42,613.21 L634.75,614.26 L635.07,615.31 L635.40,616.35 L635.73,617.38 L636.05,618.39 L636.38,619.40 L636.71,620.38 L637.03,621.35 L637.36,622.31 L637.69,623.25 L638.01,624.18 L638.34,625.09 L638.67,625.99 L638.99,626.88 L639.32,627.75 L639.65,628.61 L639.97,629.44 L640.30,630.27 L640.63,631.08 L640.95,631.87 L641.28,632.65 L641.61,633.41 L641.93,634.16 L642.26,634.90 L642.59,635.62 L642.91,636.32 L643.24,637.02 L643.57,637.69 L643.89,638.36 L644.22,639.01 L644.55,639.65 L644.87,640.28 L645.20,640.91 L645.53,641.53 L645.85,642.14 L646.18,642.74 L646.51,643.34 L646.83,643.93 L647.16,644.52 L647.49,645.10 L647.81,645.67 L648.14,646.23 L648.47,646.79 L648.79,647.34 L649.12,647.88 L649.45,648.42 L649.77,648.94 L650.10,649.47 L650.43,649.99 L650.75,650.51 L651.08,651.03 L651.41,651.54 L651.73,652.05 L652.06,652.55 L652.39,653.04 L652.71,653.53 L653.04,654.01 L653.37,654.47 L653.69,654.93 L654.02,655.37 L654.35,655.80 L654.67,656.22 L655.00,656.63 L655.33,657.02 L655.65,657.41 L655.98,657.79 L656.30,658.16 L656.63,658.54 L656.96,658.90 L657.28,659.26 L657.61,659.62 L657.94,659.98 L658.26,660.33 L658.59,660.67 L658.92,661.01 L659.24,661.35 L659.57,661.69 L659.90,662.02 L660.22,662.35 L660.55,662.68 L660.88,663.01 L661.20,663.33 L661.53,663.66 L661.86,663.98 L662.18,664.30 L662.51,664.62 L662.84,664.93 L663.16,665.24 L663.49,665.55 L663.82,665.85 L664.14,666.14 L664.47,666.42 L664.80,666.70 L665.12,666.96 L665.45,667.21 L665.78,667.45 L666.10,667.69 L666.43,667.92 L666.76,668.14 L667.08,668.35 L667.41,668.56 L667.74,668.77 L668.06,668.96 L668.39,669.15 L668.72,669.34 L669.04,669.51 L669.37,669.69 L669.70,669.85 L670.02,670.01 L670.35,670.17 L670.68,670.32 L671.00,670.47 L671.33,670.62 L671.66,670.77 L671.98,670.91 L672.31,671.06 L672.64,671.20 L672.96,671.34 L673.29,671.48 L673.62,671.62 L673.94,671.76 L674.27,671.90 L674.60,672.03 L674.92,672.16 L675.25,672.29 L675.58,672.42 L675.90,672.55 L676.23,672.69 L676.56,672.82 L676.88,672.95 L677.21,673.09 L677.54,673.22 L677.86,673.35 L678.19,673.47 L678.52,673.60 L678.84,673.72 L679.17,673.83 L679.50,673.93 L679.82,674.03 L680.15,674.12 L680.48,674.20 L680.80,674.28 L681.13,674.36 L681.46,674.43 L681.78,674.51 L682.11,674.58 L682.43,674.66 L682.76,674.74 L683.09,674.81 L683.41,674.89 L683.74,674.97 L684.07,675.04 L684.39,675.12 L684.72,675.20 L685.05,675.27 L685.37,675.35 L685.70,675.43 L686.03,675.50 L686.35,675.58 L686.68,675.65 L687.01,675.73 L687.33,675.81 L687.66,675.88 L687.99,675.96 L688.31,676.04 L688.64,676.11 L688.97,676.19 L689.29,676.27 L689.62,676.34 L689.95,676.42 L690.27,676.50 L690.60,676.57 L690.93,676.65 L691.25,676.73 L691.58,676.81 L691.91,676.89 L692.23,676.97 L692.56,677.06 L692.89,677.14 L693.21,677.22 L693.54,677.31 L693.87,677.39 L694.19,677.48 L694.52,677.56 L694.85,677.65 L695.17,677.74 L695.50,677.82 L695.83,677.90 L696.15,677.99 L696.48,678.07 L696.81,678.16 L697.13,678.24 L697.46,678.32 L697.79,678.41 L698.11,678.50 L698.44,678.58 L698.77,678.67 L699.09,678.77 L699.42,678.86 L699.75,678.96 L700.07,679.06 L700.40,679.17 L700.73,679.28 L701.05,679.39 L701.38,679.51 L701.71,679.63 L702.03,679.74 L702.36,679.86 L702.69,679.98 L703.01,680.10 L703.34,680.22 L703.67,680.34 L703.99,680.46 L704.32,680.59 L704.65,680.71 L704.97,680.83 L705.30,680.95 L705.63,681.06 L705.95,681.18 L706.28,681.30 L706.61,681.42 L706.93,681.53 L707.26,681.65 L707.59,681.77 L707.91,681.88 L708.24,682.00 L708.56,682.12 L708.89,682.23 L709.22,682.35 L709.54,682.47 L709.87,682.58 L710.20,682.70 L710.52,682.81 L710.85,682.93 L711.18,683.04 L711.50,683.15 L711.83,683.25 L712.16,683.35 L712.48,683.45 L712.81,683.54 L713.14,683.63 L713.46,683.72 L713.79,683.80 L714.12,683.88 L714.44,683.95 L714.77,684.02 L715.10,684.09 L715.42,684.15 L715.75,684.21 L716.08,684.27 L716.40,684.32 L716.73,684.37 L717.06,684.42 L717.38,684.47 L717.71,684.51 L718.04,684.56 L718.36,684.60 L718.69,684.64 L719.02,684.68 L719.34,684.71 L719.67,684.75 L720.00,684.78 L720.32,684.82 L720.65,684.85 L720.98,684.88 L721.30,684.91 L721.63,684.94 L721.96,684.97 L722.28,685.00 L722.61,685.03 L722.94,685.05 L723.26,685.08 L723.59,685.11 L723.92,685.13 L724.24,685.16 L724.57,685.18 L724.90,685.20 L725.22,685.23 L725.55,685.25 L725.88,685.26 L726.20,685.28 L726.53,685.30 L726.86,685.31 L727.18,685.32 L727.51,685.34 L727.84,685.35 L728.16,685.36 L728.49,685.37 L728.82,685.37 L729.14,685.38 L729.47,685.39 L729.80,685.39 L730.12,685.40 L730.45,685.40 L730.78,685.40 L731.10,685.40 L731.43,685.40 L731.54,685.40" fill="none" stroke="#303030" stroke-width="1.1" stroke-linejoin="round"/>
</g>
<rect x="581.90" y="548.80" width="191.00" height="142.50" fill="none" stroke="#ababab" stroke-width="1.15"/>
<line x1="590.00" y1="691.30" x2="590.00" y2="694.10" stroke="#7a7a7a" stroke-width="1"/>
<text x="590.00" y="703.40" font-family="Liberation Sans" font-weight="bold" font-size="9.8" text-anchor="middle" fill="#111"  stroke="#111" stroke-width="0.3">0</text>
<line x1="611.77" y1="691.30" x2="611.77" y2="694.10" stroke="#7a7a7a" stroke-width="1"/>
<text x="611.77" y="703.40" font-family="Liberation Sans" font-weight="bold" font-size="9.8" text-anchor="middle" fill="#111"  stroke="#111" stroke-width="0.3">2</text>
<line x1="633.55" y1="691.30" x2="633.55" y2="694.10" stroke="#7a7a7a" stroke-width="1"/>
<text x="633.55" y="703.40" font-family="Liberation Sans" font-weight="bold" font-size="9.8" text-anchor="middle" fill="#111"  stroke="#111" stroke-width="0.3">4</text>
<line x1="655.33" y1="691.30" x2="655.33" y2="694.10" stroke="#7a7a7a" stroke-width="1"/>
<text x="655.33" y="703.40" font-family="Liberation Sans" font-weight="bold" font-size="9.8" text-anchor="middle" fill="#111"  stroke="#111" stroke-width="0.3">6</text>
<line x1="677.10" y1="691.30" x2="677.10" y2="694.10" stroke="#7a7a7a" stroke-width="1"/>
<text x="677.10" y="703.40" font-family="Liberation Sans" font-weight="bold" font-size="9.8" text-anchor="middle" fill="#111"  stroke="#111" stroke-width="0.3">8</text>
<line x1="698.88" y1="691.30" x2="698.88" y2="694.10" stroke="#7a7a7a" stroke-width="1"/>
<text x="698.88" y="703.40" font-family="Liberation Sans" font-weight="bold" font-size="9.8" text-anchor="middle" fill="#111"  stroke="#111" stroke-width="0.3">10</text>
<line x1="720.65" y1="691.30" x2="720.65" y2="694.10" stroke="#7a7a7a" stroke-width="1"/>
<text x="720.65" y="703.40" font-family="Liberation Sans" font-weight="bold" font-size="9.8" text-anchor="middle" fill="#111"  stroke="#111" stroke-width="0.3">12</text>
<line x1="742.43" y1="691.30" x2="742.43" y2="694.10" stroke="#7a7a7a" stroke-width="1"/>
<text x="742.43" y="703.40" font-family="Liberation Sans" font-weight="bold" font-size="9.8" text-anchor="middle" fill="#111"  stroke="#111" stroke-width="0.3">14</text>
<line x1="764.20" y1="691.30" x2="764.20" y2="694.10" stroke="#7a7a7a" stroke-width="1"/>
<text x="764.20" y="703.40" font-family="Liberation Sans" font-weight="bold" font-size="9.8" text-anchor="middle" fill="#111"  stroke="#111" stroke-width="0.3">16</text>
<line x1="579.10" y1="685.40" x2="581.90" y2="685.40" stroke="#7a7a7a" stroke-width="1"/>
<text x="577.30" y="689.15" font-family="Liberation Sans" font-weight="bold" font-size="9.8" text-anchor="end" fill="#111"  stroke="#111" stroke-width="0.3">0.00</text>
<line x1="579.10" y1="652.85" x2="581.90" y2="652.85" stroke="#7a7a7a" stroke-width="1"/>
<text x="577.30" y="656.60" font-family="Liberation Sans" font-weight="bold" font-size="9.8" text-anchor="end" fill="#111"  stroke="#111" stroke-width="0.3">0.25</text>
<line x1="579.10" y1="620.30" x2="581.90" y2="620.30" stroke="#7a7a7a" stroke-width="1"/>
<text x="577.30" y="624.05" font-family="Liberation Sans" font-weight="bold" font-size="9.8" text-anchor="end" fill="#111"  stroke="#111" stroke-width="0.3">0.50</text>
<line x1="579.10" y1="587.75" x2="581.90" y2="587.75" stroke="#7a7a7a" stroke-width="1"/>
<text x="577.30" y="591.50" font-family="Liberation Sans" font-weight="bold" font-size="9.8" text-anchor="end" fill="#111"  stroke="#111" stroke-width="0.3">0.75</text>
<line x1="579.10" y1="555.20" x2="581.90" y2="555.20" stroke="#7a7a7a" stroke-width="1"/>
<text x="577.30" y="558.95" font-family="Liberation Sans" font-weight="bold" font-size="9.8" text-anchor="end" fill="#111"  stroke="#111" stroke-width="0.3">1.00</text>
<text x="658.80" y="715.50" font-family="Liberation Serif" font-style="italic" font-size="10.5" fill="#333">χ</text>
<text x="667.10" y="715.50" font-family="Liberation Sans" font-weight="normal" font-size="9.6" text-anchor="start" fill="#333" >(SAXS)</text>
<g transform="translate(547.00,659.70) rotate(-90) scale(0.9079,1)" font-family="Liberation Sans" font-weight="normal" fill="#262626" stroke="#262626" stroke-width="0.2">
<text x="0" y="0" font-size="10.3">Density ( E</text>
<text x="50.37" y="1.2" font-size="6.9">SAXS,Rg</text>
<text x="79.51" y="0" font-size="10.3"> )</text>
</g>
<clipPath id="cE1"><rect x="61.4" y="728.5" width="201.6" height="147.39999999999998"/></clipPath>
<g clip-path="url(#cE1)">
<line x1="61.56" y1="875.90" x2="270.33" y2="723.05" stroke="#000" stroke-width="1.6" stroke-dasharray="5.8 7.2" stroke-dashoffset="0"/>
<circle cx="108.7" cy="811.5" r="4.05"/>
<circle cx="101.2" cy="819.2" r="4.05"/>
<circle cx="104.4" cy="825.2" r="4.05"/>
<circle cx="98.6" cy="836.0" r="4.05"/>
<circle cx="134.6" cy="829.4" r="4.05"/>
<circle cx="116.0" cy="848.4" r="4.05"/>
<circle cx="148.3" cy="844.8" r="4.05"/>
<circle cx="123.8" cy="854.2" r="4.05"/>
<circle cx="126.9" cy="858.8" r="4.05"/>
<circle cx="131.3" cy="859.2" r="4.05"/>
<circle cx="133.8" cy="860.8" r="4.05"/>
<circle cx="158.3" cy="862.1" r="4.05"/>
<circle cx="202.9" cy="863.5" r="4.05"/>
<circle cx="78.0" cy="851.0" r="4.05"/>
<circle cx="78.8" cy="851.6" r="4.05"/>
<circle cx="110.8" cy="855.8" r="4.05"/>
<circle cx="90.8" cy="851.9" r="4.05"/>
<circle cx="98.5" cy="851.2" r="4.05"/>
<circle cx="106.9" cy="849.2" r="4.05"/>
<circle cx="78.5" cy="861.9" r="4.05"/>
<circle cx="79.2" cy="865.0" r="4.05"/>
<circle cx="85.4" cy="863.5" r="4.05"/>
<circle cx="91.5" cy="865.8" r="4.05"/>
<circle cx="95.4" cy="866.2" r="4.05"/>
<circle cx="100.8" cy="863.5" r="4.05"/>
<circle cx="104.6" cy="861.2" r="4.05"/>
<circle cx="83.1" cy="858.8" r="4.05"/>
<circle cx="89.2" cy="857.3" r="4.05"/>
<circle cx="95.4" cy="856.5" r="4.05"/>
<circle cx="102.3" cy="855.0" r="4.05"/>
<circle cx="106.2" cy="854.2" r="4.05"/>
<circle cx="93.1" cy="861.2" r="4.05"/>
<circle cx="99.2" cy="859.6" r="4.05"/>
<circle cx="87.7" cy="861.2" r="4.05"/>
</g>
<rect x="61.40" y="728.50" width="201.60" height="147.40" fill="none" stroke="#ababab" stroke-width="1.15"/>
<line x1="70.30" y1="875.90" x2="70.30" y2="878.70" stroke="#7a7a7a" stroke-width="1"/>
<text x="70.30" y="888.10" font-family="Liberation Sans" font-weight="bold" font-size="9.8" text-anchor="middle" fill="#111"  stroke="#111" stroke-width="0.3">0</text>
<line x1="106.96" y1="875.90" x2="106.96" y2="878.70" stroke="#7a7a7a" stroke-width="1"/>
<text x="106.96" y="888.10" font-family="Liberation Sans" font-weight="bold" font-size="9.8" text-anchor="middle" fill="#111"  stroke="#111" stroke-width="0.3">5</text>
<line x1="143.62" y1="875.90" x2="143.62" y2="878.70" stroke="#7a7a7a" stroke-width="1"/>
<text x="143.62" y="888.10" font-family="Liberation Sans" font-weight="bold" font-size="9.8" text-anchor="middle" fill="#111"  stroke="#111" stroke-width="0.3">10</text>
<line x1="180.28" y1="875.90" x2="180.28" y2="878.70" stroke="#7a7a7a" stroke-width="1"/>
<text x="180.28" y="888.10" font-family="Liberation Sans" font-weight="bold" font-size="9.8" text-anchor="middle" fill="#111"  stroke="#111" stroke-width="0.3">15</text>
<line x1="216.94" y1="875.90" x2="216.94" y2="878.70" stroke="#7a7a7a" stroke-width="1"/>
<text x="216.94" y="888.10" font-family="Liberation Sans" font-weight="bold" font-size="9.8" text-anchor="middle" fill="#111"  stroke="#111" stroke-width="0.3">20</text>
<line x1="253.60" y1="875.90" x2="253.60" y2="878.70" stroke="#7a7a7a" stroke-width="1"/>
<text x="253.60" y="888.10" font-family="Liberation Sans" font-weight="bold" font-size="9.8" text-anchor="middle" fill="#111"  stroke="#111" stroke-width="0.3">25</text>
<line x1="58.60" y1="869.50" x2="61.40" y2="869.50" stroke="#7a7a7a" stroke-width="1"/>
<text x="56.80" y="873.25" font-family="Liberation Sans" font-weight="bold" font-size="9.8" text-anchor="end" fill="#111"  stroke="#111" stroke-width="0.3">0</text>
<line x1="58.60" y1="842.66" x2="61.40" y2="842.66" stroke="#7a7a7a" stroke-width="1"/>
<text x="56.80" y="846.41" font-family="Liberation Sans" font-weight="bold" font-size="9.8" text-anchor="end" fill="#111"  stroke="#111" stroke-width="0.3">5</text>
<line x1="58.60" y1="815.82" x2="61.40" y2="815.82" stroke="#7a7a7a" stroke-width="1"/>
<text x="56.80" y="819.57" font-family="Liberation Sans" font-weight="bold" font-size="9.8" text-anchor="end" fill="#111"  stroke="#111" stroke-width="0.3">10</text>
<line x1="58.60" y1="788.98" x2="61.40" y2="788.98" stroke="#7a7a7a" stroke-width="1"/>
<text x="56.80" y="792.73" font-family="Liberation Sans" font-weight="bold" font-size="9.8" text-anchor="end" fill="#111"  stroke="#111" stroke-width="0.3">15</text>
<line x1="58.60" y1="762.14" x2="61.40" y2="762.14" stroke="#7a7a7a" stroke-width="1"/>
<text x="56.80" y="765.89" font-family="Liberation Sans" font-weight="bold" font-size="9.8" text-anchor="end" fill="#111"  stroke="#111" stroke-width="0.3">20</text>
<line x1="58.60" y1="735.30" x2="61.40" y2="735.30" stroke="#7a7a7a" stroke-width="1"/>
<text x="56.80" y="739.05" font-family="Liberation Sans" font-weight="bold" font-size="9.8" text-anchor="end" fill="#111"  stroke="#111" stroke-width="0.3">25</text>
<text x="162.20" y="900.10" font-family="Liberation Sans" font-weight="bold" font-size="9.25" text-anchor="middle" fill="#1a1a1a"  stroke="#1a1a1a" stroke-width="0.25">RMSD of Ab initio (without SAXS)</text>
<g transform="translate(38.90,865.40) rotate(-90) scale(0.9004,1)" font-family="Liberation Sans" font-weight="normal" fill="#262626" stroke="#262626" stroke-width="0.2">
<text x="0" y="0" font-size="10.3">RMSD of  SAXSDom ( E</text>
<text x="112.75" y="1.2" font-size="6.9">SAXS,IntFit</text>
<text x="148.41" y="0" font-size="10.3"> )</text>
</g>
<text x="65.70" y="748.00" font-family="Liberation Serif" font-weight="bold" font-size="16.35" text-anchor="start" fill="#000" >Improved: 37/46</text>
<clipPath id="cE2"><rect x="318.2" y="728.5" width="199.90000000000003" height="147.39999999999998"/></clipPath>
<g clip-path="url(#cE2)">
<line x1="318.20" y1="875.76" x2="882.84" y2="460.10" stroke="#000" stroke-width="1.6" stroke-dasharray="5.8 7.2" stroke-dashoffset="0"/>
<circle cx="341.9" cy="743.1" r="4.05"/>
<circle cx="353.8" cy="774.9" r="4.05"/>
<circle cx="359.6" cy="794.2" r="4.05"/>
<circle cx="399.7" cy="750.5" r="4.05"/>
<circle cx="408.5" cy="757.6" r="4.05"/>
<circle cx="401.7" cy="763.9" r="4.05"/>
<circle cx="392.3" cy="771.6" r="4.05"/>
<circle cx="389.1" cy="775.4" r="4.05"/>
<circle cx="418.6" cy="753.1" r="4.05"/>
<circle cx="423.0" cy="738.4" r="4.05"/>
<circle cx="417.1" cy="774.5" r="4.05"/>
<circle cx="424.1" cy="786.4" r="4.05"/>
<circle cx="423.5" cy="801.3" r="4.05"/>
<circle cx="395.8" cy="816.9" r="4.05"/>
<circle cx="403.4" cy="823.1" r="4.05"/>
<circle cx="410.3" cy="818.5" r="4.05"/>
<circle cx="427.6" cy="817.3" r="4.05"/>
<circle cx="424.5" cy="833.8" r="4.05"/>
<circle cx="341.8" cy="857.7" r="4.05"/>
<circle cx="348.3" cy="856.5" r="4.05"/>
<circle cx="435.9" cy="801.4" r="4.05"/>
<circle cx="429.0" cy="743.7" r="4.05"/>
<circle cx="432.8" cy="749.5" r="4.05"/>
<circle cx="448.2" cy="740.8" r="4.05"/>
<circle cx="452.9" cy="742.8" r="4.05"/>
<circle cx="458.5" cy="743.4" r="4.05"/>
<circle cx="475.6" cy="740.5" r="4.05"/>
<circle cx="476.0" cy="748.0" r="4.05"/>
<circle cx="475.1" cy="752.7" r="4.05"/>
<circle cx="475.4" cy="755.9" r="4.05"/>
<circle cx="468.3" cy="757.5" r="4.05"/>
<circle cx="461.0" cy="761.7" r="4.05"/>
<circle cx="447.8" cy="754.0" r="4.05"/>
<circle cx="450.8" cy="755.3" r="4.05"/>
<circle cx="446.5" cy="756.6" r="4.05"/>
<circle cx="441.0" cy="762.1" r="4.05"/>
<circle cx="445.6" cy="769.0" r="4.05"/>
<circle cx="451.0" cy="766.8" r="4.05"/>
<circle cx="452.3" cy="774.5" r="4.05"/>
<circle cx="488.2" cy="744.1" r="4.05"/>
<circle cx="493.1" cy="745.4" r="4.05"/>
<circle cx="496.5" cy="747.0" r="4.05"/>
<circle cx="501.7" cy="739.9" r="4.05"/>
<circle cx="502.1" cy="780.0" r="4.05"/>
<circle cx="495.3" cy="790.8" r="4.05"/>
</g>
<rect x="318.20" y="728.50" width="199.90" height="147.40" fill="none" stroke="#ababab" stroke-width="1.15"/>
<line x1="326.70" y1="875.90" x2="326.70" y2="878.70" stroke="#7a7a7a" stroke-width="1"/>
<text x="326.70" y="888.10" font-family="Liberation Sans" font-weight="bold" font-size="9.8" text-anchor="middle" fill="#111"  stroke="#111" stroke-width="0.3">0.5</text>
<line x1="363.16" y1="875.90" x2="363.16" y2="878.70" stroke="#7a7a7a" stroke-width="1"/>
<text x="363.16" y="888.10" font-family="Liberation Sans" font-weight="bold" font-size="9.8" text-anchor="middle" fill="#111"  stroke="#111" stroke-width="0.3">0.6</text>
<line x1="399.62" y1="875.90" x2="399.62" y2="878.70" stroke="#7a7a7a" stroke-width="1"/>
<text x="399.62" y="888.10" font-family="Liberation Sans" font-weight="bold" font-size="9.8" text-anchor="middle" fill="#111"  stroke="#111" stroke-width="0.3">0.7</text>
<line x1="436.08" y1="875.90" x2="436.08" y2="878.70" stroke="#7a7a7a" stroke-width="1"/>
<text x="436.08" y="888.10" font-family="Liberation Sans" font-weight="bold" font-size="9.8" text-anchor="middle" fill="#111"  stroke="#111" stroke-width="0.3">0.8</text>
<line x1="472.54" y1="875.90" x2="472.54" y2="878.70" stroke="#7a7a7a" stroke-width="1"/>
<text x="472.54" y="888.10" font-family="Liberation Sans" font-weight="bold" font-size="9.8" text-anchor="middle" fill="#111"  stroke="#111" stroke-width="0.3">0.9</text>
<line x1="509.00" y1="875.90" x2="509.00" y2="878.70" stroke="#7a7a7a" stroke-width="1"/>
<text x="509.00" y="888.10" font-family="Liberation Sans" font-weight="bold" font-size="9.8" text-anchor="middle" fill="#111"  stroke="#111" stroke-width="0.3">1</text>
<line x1="315.40" y1="869.50" x2="318.20" y2="869.50" stroke="#7a7a7a" stroke-width="1"/>
<text x="313.60" y="873.25" font-family="Liberation Sans" font-weight="bold" font-size="9.8" text-anchor="end" fill="#111"  stroke="#111" stroke-width="0.3">0.5</text>
<line x1="315.40" y1="842.66" x2="318.20" y2="842.66" stroke="#7a7a7a" stroke-width="1"/>
<text x="313.60" y="846.41" font-family="Liberation Sans" font-weight="bold" font-size="9.8" text-anchor="end" fill="#111"  stroke="#111" stroke-width="0.3">0.6</text>
<line x1="315.40" y1="815.82" x2="318.20" y2="815.82" stroke="#7a7a7a" stroke-width="1"/>
<text x="313.60" y="819.57" font-family="Liberation Sans" font-weight="bold" font-size="9.8" text-anchor="end" fill="#111"  stroke="#111" stroke-width="0.3">0.7</text>
<line x1="315.40" y1="788.98" x2="318.20" y2="788.98" stroke="#7a7a7a" stroke-width="1"/>
<text x="313.60" y="792.73" font-family="Liberation Sans" font-weight="bold" font-size="9.8" text-anchor="end" fill="#111"  stroke="#111" stroke-width="0.3">0.8</text>
<line x1="315.40" y1="762.14" x2="318.20" y2="762.14" stroke="#7a7a7a" stroke-width="1"/>
<text x="313.60" y="765.89" font-family="Liberation Sans" font-weight="bold" font-size="9.8" text-anchor="end" fill="#111"  stroke="#111" stroke-width="0.3">0.9</text>
<line x1="315.40" y1="735.30" x2="318.20" y2="735.30" stroke="#7a7a7a" stroke-width="1"/>
<text x="313.60" y="739.05" font-family="Liberation Sans" font-weight="bold" font-size="9.8" text-anchor="end" fill="#111"  stroke="#111" stroke-width="0.3">1</text>
<text x="418.15" y="900.10" font-family="Liberation Sans" font-weight="bold" font-size="9.25" text-anchor="middle" fill="#1a1a1a"  stroke="#1a1a1a" stroke-width="0.25">TMscore of Ab initio (without SAXS)</text>
<g transform="translate(293.10,875.40) rotate(-90) scale(0.8988,1)" font-family="Liberation Sans" font-weight="normal" fill="#262626" stroke="#262626" stroke-width="0.2">
<text x="0" y="0" font-size="10.3">TMscore of  SAXSDom ( E</text>
<text x="122.48" y="1.2" font-size="6.9">SAXS,IntFit</text>
<text x="158.14" y="0" font-size="10.3"> )</text>
</g>
<text x="400.20" y="868.30" font-family="Liberation Serif" font-weight="bold" font-size="16.35" text-anchor="start" fill="#000" >Improved: 35/46</text>
<clipPath id="cE3"><rect x="579.5" y="728.6" width="193.0" height="142.39999999999998"/></clipPath>
<g clip-path="url(#cE3)">
<path d="M587.50,864.60 L587.50,814.37 L587.83,814.55 L588.16,814.41 L588.49,813.91 L588.82,813.00 L589.15,811.64 L589.48,809.99 L589.81,808.17 L590.14,806.09 L590.48,803.68 L590.81,800.84 L591.14,797.51 L591.47,794.07 L591.80,790.62 L592.13,787.18 L592.46,783.73 L592.79,780.29 L593.12,776.85 L593.45,773.40 L593.78,769.96 L594.11,766.55 L594.44,763.30 L594.77,760.14 L595.10,757.02 L595.43,753.88 L595.76,750.71 L596.09,747.60 L596.43,744.60 L596.76,741.79 L597.09,739.44 L597.42,738.06 L597.75,737.18 L598.08,736.24 L598.41,735.30 L598.74,735.19 L599.07,735.81 L599.40,736.43 L599.73,737.06 L600.06,737.69 L600.39,738.32 L600.72,738.95 L601.05,739.76 L601.38,740.85 L601.71,742.13 L602.04,743.52 L602.38,744.92 L602.71,746.41 L603.04,748.12 L603.37,750.06 L603.70,752.26 L604.03,754.79 L604.36,758.16 L604.69,762.03 L605.02,765.78 L605.35,768.81 L605.68,771.27 L606.01,773.69 L606.34,776.08 L606.67,778.43 L607.00,780.74 L607.33,782.99 L607.66,785.22 L607.99,787.46 L608.33,789.70 L608.66,791.94 L608.99,794.14 L609.32,796.28 L609.65,798.36 L609.98,800.36 L610.31,802.31 L610.64,804.24 L610.97,806.15 L611.30,808.06 L611.63,809.98 L611.96,811.90 L612.29,813.85 L612.62,815.82 L612.95,817.81 L613.28,819.79 L613.61,821.77 L613.94,823.73 L614.28,825.64 L614.61,827.41 L614.94,829.03 L615.27,830.52 L615.60,831.89 L615.93,833.18 L616.26,834.40 L616.59,835.57 L616.92,836.71 L617.25,837.85 L617.58,838.98 L617.91,840.09 L618.24,841.17 L618.57,842.23 L618.90,843.25 L619.23,844.24 L619.56,845.19 L619.90,846.09 L620.23,846.94 L620.56,847.74 L620.89,848.49 L621.22,849.20 L621.55,849.89 L621.88,850.56 L622.21,851.20 L622.54,851.83 L622.87,852.43 L623.20,853.01 L623.53,853.57 L623.86,854.11 L624.19,854.63 L624.52,855.13 L624.85,855.62 L625.18,856.08 L625.51,856.55 L625.85,857.00 L626.18,857.44 L626.51,857.88 L626.84,858.29 L627.17,858.68 L627.50,859.05 L627.83,859.40 L628.16,859.71 L628.49,859.99 L628.82,860.24 L629.15,860.45 L629.48,860.62 L629.81,860.78 L630.14,860.91 L630.47,861.03 L630.80,861.12 L631.13,861.20 L631.46,861.27 L631.80,861.31 L632.13,861.35 L632.46,861.37 L632.79,861.37 L633.12,861.37 L633.45,861.35 L633.78,861.30 L634.11,861.23 L634.44,861.13 L634.77,861.03 L635.10,860.91 L635.43,860.80 L635.76,860.68 L636.09,860.59 L636.42,860.50 L636.75,860.45 L637.08,860.42 L637.41,860.43 L637.75,860.48 L638.08,860.54 L638.41,860.61 L638.74,860.69 L639.07,860.78 L639.40,860.87 L639.73,860.98 L640.06,861.09 L640.39,861.21 L640.72,861.33 L641.05,861.46 L641.38,861.60 L641.71,861.74 L642.04,861.90 L642.37,862.06 L642.70,862.23 L643.03,862.41 L643.37,862.59 L643.70,862.78 L644.03,862.96 L644.36,863.14 L644.69,863.31 L645.02,863.48 L645.35,863.63 L645.68,863.78 L646.01,863.91 L646.34,864.02 L646.67,864.13 L647.00,864.22 L647.33,864.30 L647.66,864.38 L647.99,864.44 L648.32,864.50 L648.65,864.54 L648.98,864.58 L649.20,864.60 L763.80,864.60 Z" fill="#7f7f7f" stroke="#333" stroke-width="1.1" stroke-linejoin="round"/>
<path d="M587.50,864.60 L587.50,814.37 L587.83,813.29 L588.16,812.20 L588.49,811.09 L588.82,809.97 L589.15,808.82 L589.48,807.63 L589.81,806.41 L590.14,805.14 L590.48,803.81 L590.81,802.43 L591.14,800.98 L591.47,799.46 L591.80,797.86 L592.13,796.25 L592.46,794.63 L592.79,793.01 L593.12,791.39 L593.45,789.77 L593.78,788.15 L594.11,786.52 L594.44,784.90 L594.77,783.27 L595.10,781.64 L595.43,780.02 L595.76,778.39 L596.09,776.76 L596.43,775.12 L596.76,773.49 L597.09,771.85 L597.42,770.21 L597.75,768.58 L598.08,766.94 L598.41,765.31 L598.74,763.68 L599.07,762.06 L599.40,760.50 L599.73,759.07 L600.06,757.74 L600.39,756.48 L600.72,755.28 L601.05,754.11 L601.38,752.96 L601.71,751.81 L602.04,750.67 L602.38,749.56 L602.71,748.48 L603.04,747.43 L603.37,746.42 L603.70,745.46 L604.03,744.53 L604.36,743.66 L604.69,742.84 L605.02,742.08 L605.35,741.38 L605.68,740.73 L606.01,740.13 L606.34,739.57 L606.67,739.05 L607.00,738.55 L607.33,738.09 L607.66,737.64 L607.99,737.22 L608.33,736.84 L608.66,736.49 L608.99,736.17 L609.32,735.90 L609.65,735.66 L609.98,735.46 L610.31,735.31 L610.64,735.19 L610.97,735.12 L611.30,735.10 L611.63,735.13 L611.96,735.24 L612.29,735.41 L612.62,735.66 L612.95,735.99 L613.28,736.42 L613.61,736.94 L613.94,737.55 L614.28,738.18 L614.61,738.84 L614.94,739.52 L615.27,740.22 L615.60,740.95 L615.93,741.69 L616.26,742.46 L616.59,743.25 L616.92,744.06 L617.25,744.88 L617.58,745.73 L617.91,746.57 L618.24,747.41 L618.57,748.26 L618.90,749.11 L619.23,749.97 L619.56,750.83 L619.90,751.71 L620.23,752.61 L620.56,753.53 L620.89,754.46 L621.22,755.43 L621.55,756.42 L621.88,757.43 L622.21,758.44 L622.54,759.47 L622.87,760.51 L623.20,761.56 L623.53,762.62 L623.86,763.69 L624.19,764.77 L624.52,765.86 L624.85,766.95 L625.18,768.06 L625.51,769.18 L625.85,770.31 L626.18,771.45 L626.51,772.61 L626.84,773.76 L627.17,774.92 L627.50,776.08 L627.83,777.24 L628.16,778.40 L628.49,779.55 L628.82,780.69 L629.15,781.82 L629.48,782.94 L629.81,784.04 L630.14,785.14 L630.47,786.23 L630.80,787.32 L631.13,788.39 L631.46,789.46 L631.80,790.52 L632.13,791.58 L632.46,792.63 L632.79,793.68 L633.12,794.72 L633.45,795.76 L633.78,796.79 L634.11,797.80 L634.44,798.80 L634.77,799.78 L635.10,800.75 L635.43,801.70 L635.76,802.64 L636.09,803.57 L636.42,804.48 L636.75,805.38 L637.08,806.26 L637.41,807.13 L637.75,807.98 L638.08,808.82 L638.41,809.64 L638.74,810.44 L639.07,811.24 L639.40,812.01 L639.73,812.77 L640.06,813.52 L640.39,814.25 L640.72,814.97 L641.05,815.67 L641.38,816.36 L641.71,817.04 L642.04,817.70 L642.37,818.35 L642.70,818.99 L643.03,819.62 L643.37,820.24 L643.70,820.86 L644.03,821.47 L644.36,822.07 L644.69,822.67 L645.02,823.26 L645.35,823.84 L645.68,824.42 L646.01,824.99 L646.34,825.55 L646.67,826.11 L647.00,826.65 L647.33,827.20 L647.66,827.73 L647.99,828.26 L648.32,828.78 L648.65,829.30 L648.98,829.82 L649.32,830.33 L649.65,830.84 L649.98,831.35 L650.31,831.85 L650.64,832.34 L650.97,832.83 L651.30,833.30 L651.63,833.77 L651.96,834.22 L652.29,834.67 L652.62,835.10 L652.95,835.51 L653.28,835.91 L653.61,836.31 L653.94,836.69 L654.27,837.07 L654.60,837.45 L654.93,837.82 L655.27,838.18 L655.60,838.54 L655.93,838.90 L656.26,839.25 L656.59,839.60 L656.92,839.95 L657.25,840.29 L657.58,840.63 L657.91,840.96 L658.24,841.30 L658.57,841.63 L658.90,841.95 L659.23,842.28 L659.56,842.60 L659.89,842.92 L660.22,843.24 L660.55,843.56 L660.88,843.88 L661.22,844.20 L661.55,844.51 L661.88,844.81 L662.21,845.11 L662.54,845.40 L662.87,845.68 L663.20,845.95 L663.53,846.21 L663.86,846.46 L664.19,846.71 L664.52,846.94 L664.85,847.17 L665.18,847.39 L665.51,847.61 L665.84,847.81 L666.17,848.02 L666.50,848.21 L666.83,848.40 L667.17,848.59 L667.50,848.76 L667.83,848.93 L668.16,849.10 L668.49,849.26 L668.82,849.41 L669.15,849.56 L669.48,849.71 L669.81,849.86 L670.14,850.01 L670.47,850.16 L670.80,850.30 L671.13,850.44 L671.46,850.59 L671.79,850.73 L672.12,850.87 L672.45,851.00 L672.79,851.14 L673.12,851.27 L673.45,851.40 L673.78,851.53 L674.11,851.66 L674.44,851.79 L674.77,851.93 L675.10,852.06 L675.43,852.19 L675.76,852.32 L676.09,852.46 L676.42,852.59 L676.75,852.71 L677.08,852.83 L677.41,852.95 L677.74,853.06 L678.07,853.17 L678.40,853.27 L678.74,853.36 L679.07,853.44 L679.40,853.51 L679.73,853.59 L680.06,853.67 L680.39,853.74 L680.72,853.82 L681.05,853.89 L681.38,853.97 L681.71,854.05 L682.04,854.12 L682.37,854.20 L682.70,854.28 L683.03,854.35 L683.36,854.43 L683.69,854.50 L684.02,854.58 L684.35,854.66 L684.69,854.73 L685.02,854.81 L685.35,854.88 L685.68,854.96 L686.01,855.04 L686.34,855.11 L686.67,855.19 L687.00,855.27 L687.33,855.34 L687.66,855.42 L687.99,855.49 L688.32,855.57 L688.65,855.65 L688.98,855.72 L689.31,855.80 L689.64,855.88 L689.97,855.96 L690.30,856.04 L690.64,856.12 L690.97,856.20 L691.30,856.28 L691.63,856.36 L691.96,856.45 L692.29,856.53 L692.62,856.62 L692.95,856.70 L693.28,856.79 L693.61,856.87 L693.94,856.96 L694.27,857.04 L694.60,857.13 L694.93,857.21 L695.26,857.29 L695.59,857.38 L695.92,857.46 L696.26,857.55 L696.59,857.63 L696.92,857.72 L697.25,857.80 L697.58,857.90 L697.91,857.99 L698.24,858.08 L698.57,858.18 L698.90,858.28 L699.23,858.39 L699.56,858.50 L699.89,858.61 L700.22,858.73 L700.55,858.84 L700.88,858.96 L701.21,859.08 L701.54,859.20 L701.87,859.32 L702.21,859.44 L702.54,859.56 L702.87,859.68 L703.20,859.80 L703.53,859.92 L703.86,860.04 L704.19,860.16 L704.52,860.28 L704.85,860.39 L705.18,860.51 L705.51,860.63 L705.84,860.75 L706.17,860.86 L706.50,860.98 L706.83,861.10 L707.16,861.21 L707.49,861.33 L707.82,861.44 L708.16,861.56 L708.49,861.67 L708.82,861.79 L709.15,861.90 L709.48,862.02 L709.81,862.13 L710.14,862.25 L710.47,862.35 L710.80,862.46 L711.13,862.56 L711.46,862.66 L711.79,862.75 L712.12,862.84 L712.45,862.92 L712.78,863.00 L713.11,863.08 L713.44,863.15 L713.77,863.22 L714.11,863.29 L714.44,863.35 L714.77,863.41 L715.10,863.47 L715.43,863.52 L715.76,863.57 L716.09,863.62 L716.42,863.67 L716.75,863.72 L717.08,863.76 L717.41,863.80 L717.74,863.84 L718.07,863.88 L718.40,863.92 L718.73,863.95 L719.06,863.99 L719.39,864.02 L719.72,864.05 L720.06,864.08 L720.39,864.11 L720.72,864.14 L721.05,864.17 L721.38,864.20 L721.71,864.23 L722.04,864.26 L722.37,864.28 L722.70,864.31 L723.03,864.33 L723.36,864.36 L723.69,864.38 L724.02,864.41 L724.35,864.43 L724.68,864.45 L725.01,864.46 L725.34,864.48 L725.68,864.50 L726.01,864.51 L726.34,864.52 L726.67,864.54 L727.00,864.55 L727.33,864.56 L727.66,864.57 L727.99,864.58 L728.32,864.58 L728.65,864.59 L728.98,864.59 L729.31,864.60 L729.64,864.60 L729.97,864.60 L730.30,864.60 L730.63,864.60 L730.74,864.60 L763.80,864.60 Z" fill="#fff" fill-opacity="0.5" stroke="none"/>
<line x1="587.50" y1="864.60" x2="763.80" y2="864.60" stroke="#5e5e5e" stroke-width="1.3"/>
<path d="M587.50,864.60 L587.50,814.37 L587.83,813.29 L588.16,812.20 L588.49,811.09 L588.82,809.97 L589.15,808.82 L589.48,807.63 L589.81,806.41 L590.14,805.14 L590.48,803.81 L590.81,802.43 L591.14,800.98 L591.47,799.46 L591.80,797.86 L592.13,796.25 L592.46,794.63 L592.79,793.01 L593.12,791.39 L593.45,789.77 L593.78,788.15 L594.11,786.52 L594.44,784.90 L594.77,783.27 L595.10,781.64 L595.43,780.02 L595.76,778.39 L596.09,776.76 L596.43,775.12 L596.76,773.49 L597.09,771.85 L597.42,770.21 L597.75,768.58 L598.08,766.94 L598.41,765.31 L598.74,763.68 L599.07,762.06 L599.40,760.50 L599.73,759.07 L600.06,757.74 L600.39,756.48 L600.72,755.28 L601.05,754.11 L601.38,752.96 L601.71,751.81 L602.04,750.67 L602.38,749.56 L602.71,748.48 L603.04,747.43 L603.37,746.42 L603.70,745.46 L604.03,744.53 L604.36,743.66 L604.69,742.84 L605.02,742.08 L605.35,741.38 L605.68,740.73 L606.01,740.13 L606.34,739.57 L606.67,739.05 L607.00,738.55 L607.33,738.09 L607.66,737.64 L607.99,737.22 L608.33,736.84 L608.66,736.49 L608.99,736.17 L609.32,735.90 L609.65,735.66 L609.98,735.46 L610.31,735.31 L610.64,735.19 L610.97,735.12 L611.30,735.10 L611.63,735.13 L611.96,735.24 L612.29,735.41 L612.62,735.66 L612.95,735.99 L613.28,736.42 L613.61,736.94 L613.94,737.55 L614.28,738.18 L614.61,738.84 L614.94,739.52 L615.27,740.22 L615.60,740.95 L615.93,741.69 L616.26,742.46 L616.59,743.25 L616.92,744.06 L617.25,744.88 L617.58,745.73 L617.91,746.57 L618.24,747.41 L618.57,748.26 L618.90,749.11 L619.23,749.97 L619.56,750.83 L619.90,751.71 L620.23,752.61 L620.56,753.53 L620.89,754.46 L621.22,755.43 L621.55,756.42 L621.88,757.43 L622.21,758.44 L622.54,759.47 L622.87,760.51 L623.20,761.56 L623.53,762.62 L623.86,763.69 L624.19,764.77 L624.52,765.86 L624.85,766.95 L625.18,768.06 L625.51,769.18 L625.85,770.31 L626.18,771.45 L626.51,772.61 L626.84,773.76 L627.17,774.92 L627.50,776.08 L627.83,777.24 L628.16,778.40 L628.49,779.55 L628.82,780.69 L629.15,781.82 L629.48,782.94 L629.81,784.04 L630.14,785.14 L630.47,786.23 L630.80,787.32 L631.13,788.39 L631.46,789.46 L631.80,790.52 L632.13,791.58 L632.46,792.63 L632.79,793.68 L633.12,794.72 L633.45,795.76 L633.78,796.79 L634.11,797.80 L634.44,798.80 L634.77,799.78 L635.10,800.75 L635.43,801.70 L635.76,802.64 L636.09,803.57 L636.42,804.48 L636.75,805.38 L637.08,806.26 L637.41,807.13 L637.75,807.98 L638.08,808.82 L638.41,809.64 L638.74,810.44 L639.07,811.24 L639.40,812.01 L639.73,812.77 L640.06,813.52 L640.39,814.25 L640.72,814.97 L641.05,815.67 L641.38,816.36 L641.71,817.04 L642.04,817.70 L642.37,818.35 L642.70,818.99 L643.03,819.62 L643.37,820.24 L643.70,820.86 L644.03,821.47 L644.36,822.07 L644.69,822.67 L645.02,823.26 L645.35,823.84 L645.68,824.42 L646.01,824.99 L646.34,825.55 L646.67,826.11 L647.00,826.65 L647.33,827.20 L647.66,827.73 L647.99,828.26 L648.32,828.78 L648.65,829.30 L648.98,829.82 L649.32,830.33 L649.65,830.84 L649.98,831.35 L650.31,831.85 L650.64,832.34 L650.97,832.83 L651.30,833.30 L651.63,833.77 L651.96,834.22 L652.29,834.67 L652.62,835.10 L652.95,835.51 L653.28,835.91 L653.61,836.31 L653.94,836.69 L654.27,837.07 L654.60,837.45 L654.93,837.82 L655.27,838.18 L655.60,838.54 L655.93,838.90 L656.26,839.25 L656.59,839.60 L656.92,839.95 L657.25,840.29 L657.58,840.63 L657.91,840.96 L658.24,841.30 L658.57,841.63 L658.90,841.95 L659.23,842.28 L659.56,842.60 L659.89,842.92 L660.22,843.24 L660.55,843.56 L660.88,843.88 L661.22,844.20 L661.55,844.51 L661.88,844.81 L662.21,845.11 L662.54,845.40 L662.87,845.68 L663.20,845.95 L663.53,846.21 L663.86,846.46 L664.19,846.71 L664.52,846.94 L664.85,847.17 L665.18,847.39 L665.51,847.61 L665.84,847.81 L666.17,848.02 L666.50,848.21 L666.83,848.40 L667.17,848.59 L667.50,848.76 L667.83,848.93 L668.16,849.10 L668.49,849.26 L668.82,849.41 L669.15,849.56 L669.48,849.71 L669.81,849.86 L670.14,850.01 L670.47,850.16 L670.80,850.30 L671.13,850.44 L671.46,850.59 L671.79,850.73 L672.12,850.87 L672.45,851.00 L672.79,851.14 L673.12,851.27 L673.45,851.40 L673.78,851.53 L674.11,851.66 L674.44,851.79 L674.77,851.93 L675.10,852.06 L675.43,852.19 L675.76,852.32 L676.09,852.46 L676.42,852.59 L676.75,852.71 L677.08,852.83 L677.41,852.95 L677.74,853.06 L678.07,853.17 L678.40,853.27 L678.74,853.36 L679.07,853.44 L679.40,853.51 L679.73,853.59 L680.06,853.67 L680.39,853.74 L680.72,853.82 L681.05,853.89 L681.38,853.97 L681.71,854.05 L682.04,854.12 L682.37,854.20 L682.70,854.28 L683.03,854.35 L683.36,854.43 L683.69,854.50 L684.02,854.58 L684.35,854.66 L684.69,854.73 L685.02,854.81 L685.35,854.88 L685.68,854.96 L686.01,855.04 L686.34,855.11 L686.67,855.19 L687.00,855.27 L687.33,855.34 L687.66,855.42 L687.99,855.49 L688.32,855.57 L688.65,855.65 L688.98,855.72 L689.31,855.80 L689.64,855.88 L689.97,855.96 L690.30,856.04 L690.64,856.12 L690.97,856.20 L691.30,856.28 L691.63,856.36 L691.96,856.45 L692.29,856.53 L692.62,856.62 L692.95,856.70 L693.28,856.79 L693.61,856.87 L693.94,856.96 L694.27,857.04 L694.60,857.13 L694.93,857.21 L695.26,857.29 L695.59,857.38 L695.92,857.46 L696.26,857.55 L696.59,857.63 L696.92,857.72 L697.25,857.80 L697.58,857.90 L697.91,857.99 L698.24,858.08 L698.57,858.18 L698.90,858.28 L699.23,858.39 L699.56,858.50 L699.89,858.61 L700.22,858.73 L700.55,858.84 L700.88,858.96 L701.21,859.08 L701.54,859.20 L701.87,859.32 L702.21,859.44 L702.54,859.56 L702.87,859.68 L703.20,859.80 L703.53,859.92 L703.86,860.04 L704.19,860.16 L704.52,860.28 L704.85,860.39 L705.18,860.51 L705.51,860.63 L705.84,860.75 L706.17,860.86 L706.50,860.98 L706.83,861.10 L707.16,861.21 L707.49,861.33 L707.82,861.44 L708.16,861.56 L708.49,861.67 L708.82,861.79 L709.15,861.90 L709.48,862.02 L709.81,862.13 L710.14,862.25 L710.47,862.35 L710.80,862.46 L711.13,862.56 L711.46,862.66 L711.79,862.75 L712.12,862.84 L712.45,862.92 L712.78,863.00 L713.11,863.08 L713.44,863.15 L713.77,863.22 L714.11,863.29 L714.44,863.35 L714.77,863.41 L715.10,863.47 L715.43,863.52 L715.76,863.57 L716.09,863.62 L716.42,863.67 L716.75,863.72 L717.08,863.76 L717.41,863.80 L717.74,863.84 L718.07,863.88 L718.40,863.92 L718.73,863.95 L719.06,863.99 L719.39,864.02 L719.72,864.05 L720.06,864.08 L720.39,864.11 L720.72,864.14 L721.05,864.17 L721.38,864.20 L721.71,864.23 L722.04,864.26 L722.37,864.28 L722.70,864.31 L723.03,864.33 L723.36,864.36 L723.69,864.38 L724.02,864.41 L724.35,864.43 L724.68,864.45 L725.01,864.46 L725.34,864.48 L725.68,864.50 L726.01,864.51 L726.34,864.52 L726.67,864.54 L727.00,864.55 L727.33,864.56 L727.66,864.57 L727.99,864.58 L728.32,864.58 L728.65,864.59 L728.98,864.59 L729.31,864.60 L729.64,864.60 L729.97,864.60 L730.30,864.60 L730.63,864.60 L730.74,864.60" fill="none" stroke="#303030" stroke-width="1.1" stroke-linejoin="round"/>
</g>
<rect x="579.50" y="728.60" width="193.00" height="142.40" fill="none" stroke="#ababab" stroke-width="1.15"/>
<line x1="587.50" y1="871.00" x2="587.50" y2="873.80" stroke="#7a7a7a" stroke-width="1"/>
<text x="587.50" y="883.10" font-family="Liberation Sans" font-weight="bold" font-size="9.8" text-anchor="middle" fill="#111"  stroke="#111" stroke-width="0.3">0</text>
<line x1="609.54" y1="871.00" x2="609.54" y2="873.80" stroke="#7a7a7a" stroke-width="1"/>
<text x="609.54" y="883.10" font-family="Liberation Sans" font-weight="bold" font-size="9.8" text-anchor="middle" fill="#111"  stroke="#111" stroke-width="0.3">2</text>
<line x1="631.58" y1="871.00" x2="631.58" y2="873.80" stroke="#7a7a7a" stroke-width="1"/>
<text x="631.58" y="883.10" font-family="Liberation Sans" font-weight="bold" font-size="9.8" text-anchor="middle" fill="#111"  stroke="#111" stroke-width="0.3">4</text>
<line x1="653.61" y1="871.00" x2="653.61" y2="873.80" stroke="#7a7a7a" stroke-width="1"/>
<text x="653.61" y="883.10" font-family="Liberation Sans" font-weight="bold" font-size="9.8" text-anchor="middle" fill="#111"  stroke="#111" stroke-width="0.3">6</text>
<line x1="675.65" y1="871.00" x2="675.65" y2="873.80" stroke="#7a7a7a" stroke-width="1"/>
<text x="675.65" y="883.10" font-family="Liberation Sans" font-weight="bold" font-size="9.8" text-anchor="middle" fill="#111"  stroke="#111" stroke-width="0.3">8</text>
<line x1="697.69" y1="871.00" x2="697.69" y2="873.80" stroke="#7a7a7a" stroke-width="1"/>
<text x="697.69" y="883.10" font-family="Liberation Sans" font-weight="bold" font-size="9.8" text-anchor="middle" fill="#111"  stroke="#111" stroke-width="0.3">10</text>
<line x1="719.72" y1="871.00" x2="719.72" y2="873.80" stroke="#7a7a7a" stroke-width="1"/>
<text x="719.72" y="883.10" font-family="Liberation Sans" font-weight="bold" font-size="9.8" text-anchor="middle" fill="#111"  stroke="#111" stroke-width="0.3">12</text>
<line x1="741.76" y1="871.00" x2="741.76" y2="873.80" stroke="#7a7a7a" stroke-width="1"/>
<text x="741.76" y="883.10" font-family="Liberation Sans" font-weight="bold" font-size="9.8" text-anchor="middle" fill="#111"  stroke="#111" stroke-width="0.3">14</text>
<line x1="763.80" y1="871.00" x2="763.80" y2="873.80" stroke="#7a7a7a" stroke-width="1"/>
<text x="763.80" y="883.10" font-family="Liberation Sans" font-weight="bold" font-size="9.8" text-anchor="middle" fill="#111"  stroke="#111" stroke-width="0.3">16</text>
<line x1="576.70" y1="864.60" x2="579.50" y2="864.60" stroke="#7a7a7a" stroke-width="1"/>
<text x="574.90" y="868.35" font-family="Liberation Sans" font-weight="bold" font-size="9.8" text-anchor="end" fill="#111"  stroke="#111" stroke-width="0.3">0.00</text>
<line x1="576.70" y1="832.15" x2="579.50" y2="832.15" stroke="#7a7a7a" stroke-width="1"/>
<text x="574.90" y="835.90" font-family="Liberation Sans" font-weight="bold" font-size="9.8" text-anchor="end" fill="#111"  stroke="#111" stroke-width="0.3">0.25</text>
<line x1="576.70" y1="799.70" x2="579.50" y2="799.70" stroke="#7a7a7a" stroke-width="1"/>
<text x="574.90" y="803.45" font-family="Liberation Sans" font-weight="bold" font-size="9.8" text-anchor="end" fill="#111"  stroke="#111" stroke-width="0.3">0.50</text>
<line x1="576.70" y1="767.25" x2="579.50" y2="767.25" stroke="#7a7a7a" stroke-width="1"/>
<text x="574.90" y="771.00" font-family="Liberation Sans" font-weight="bold" font-size="9.8" text-anchor="end" fill="#111"  stroke="#111" stroke-width="0.3">0.75</text>
<line x1="576.70" y1="734.80" x2="579.50" y2="734.80" stroke="#7a7a7a" stroke-width="1"/>
<text x="574.90" y="738.55" font-family="Liberation Sans" font-weight="bold" font-size="9.8" text-anchor="end" fill="#111"  stroke="#111" stroke-width="0.3">1.00</text>
<text x="657.40" y="895.20" font-family="Liberation Serif" font-style="italic" font-size="10.5" fill="#333">χ</text>
<text x="665.70" y="895.20" font-family="Liberation Sans" font-weight="normal" font-size="9.6" text-anchor="start" fill="#333" >(SAXS)</text>
<g transform="translate(547.10,843.00) rotate(-90) scale(0.9218,1)" font-family="Liberation Sans" font-weight="normal" fill="#262626" stroke="#262626" stroke-width="0.2">
<text x="0" y="0" font-size="10.3">Density ( E</text>
<text x="50.37" y="1.2" font-size="6.9">SAXS,IntFit</text>
<text x="86.03" y="0" font-size="10.3"> )</text>
</g>
<text x="2.90" y="20.30" font-family="Liberation Serif" font-weight="bold" font-size="16" text-anchor="start" fill="#000"  stroke="#000" stroke-width="0.25">(A)</text>
<text x="0.40" y="199.10" font-family="Liberation Serif" font-weight="bold" font-size="16" text-anchor="start" fill="#000"  stroke="#000" stroke-width="0.25">(B)</text>
<text x="1.30" y="378.80" font-family="Liberation Serif" font-weight="bold" font-size="16" text-anchor="start" fill="#000"  stroke="#000" stroke-width="0.25">(C)</text>
<text x="1.30" y="558.80" font-family="Liberation Serif" font-weight="bold" font-size="16" text-anchor="start" fill="#000"  stroke="#000" stroke-width="0.25">(D)</text>
<text x="2.50" y="736.10" font-family="Liberation Serif" font-weight="bold" font-size="16" text-anchor="start" fill="#000"  stroke="#000" stroke-width="0.25">(E)</text>
</svg>
</body></html>
